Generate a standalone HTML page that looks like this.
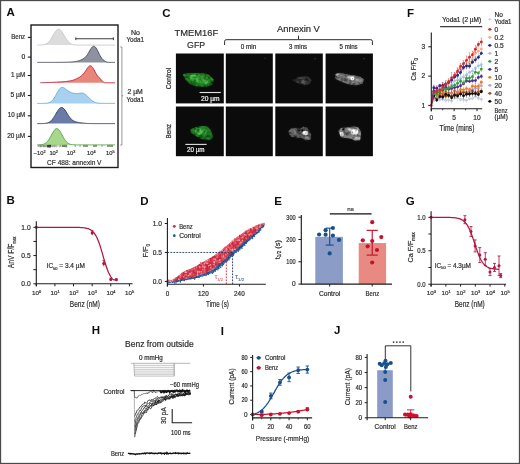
<!DOCTYPE html>
<html><head><meta charset="utf-8"><style>
html,body{margin:0;padding:0;background:#fff;overflow:hidden;}
svg{display:block;font-family:"Liberation Sans", sans-serif;will-change:transform;}
</style></head><body>
<svg width="520" height="464" viewBox="0 0 520 464">
<rect x="0" y="0" width="520" height="464" fill="#fff"/>
<defs><filter id="b1" x="-50%" y="-50%" width="200%" height="200%"><feGaussianBlur stdDeviation="1.0"/></filter><filter id="b2" x="-50%" y="-50%" width="200%" height="200%"><feGaussianBlur stdDeviation="0.6"/></filter><filter id="b3" x="-50%" y="-50%" width="200%" height="200%"><feGaussianBlur stdDeviation="0.35"/></filter><filter id="tx" x="-40%" y="-40%" width="180%" height="180%"><feGaussianBlur in="SourceGraphic" stdDeviation="0.75" result="bl"/><feTurbulence type="fractalNoise" baseFrequency="0.28" numOctaves="2" seed="9" result="n"/><feColorMatrix in="n" type="matrix" values="0.33 0.33 0.33 0 0  0.33 0.33 0.33 0 0  0.33 0.33 0.33 0 0  0 0 0 0 1" result="g"/><feComposite in="bl" in2="g" operator="arithmetic" k1="4.6" k2="-1.3" k3="0" k4="0" result="m"/><feGaussianBlur in="m" stdDeviation="0.6" result="mb"/><feGaussianBlur in="SourceGraphic" stdDeviation="1.3" result="gl"/><feComponentTransfer in="gl" result="gl2"><feFuncA type="linear" slope="0.3"/></feComponentTransfer><feMerge><feMergeNode in="gl2"/><feMergeNode in="mb"/></feMerge></filter></defs>
<text x="6.6" y="15.9" font-size="11.5" font-weight="bold" fill="#0d0d0d">A</text>
<line x1="27.8" y1="37.4" x2="31" y2="37.4" stroke="#1c1c1c" stroke-width="1.1"/>
<text x="25.2" y="39" font-size="6.6" text-anchor="end" font-weight="normal" fill="#2e2e2e" stroke="#2e2e2e" stroke-width="0.2" textLength="14" lengthAdjust="spacingAndGlyphs">Benz</text>
<line x1="27.8" y1="57.1" x2="31" y2="57.1" stroke="#1c1c1c" stroke-width="1.1"/>
<text x="25.2" y="58.7" font-size="6.6" text-anchor="end" font-weight="normal" fill="#2e2e2e" stroke="#2e2e2e" stroke-width="0.2" textLength="3.8" lengthAdjust="spacingAndGlyphs">0</text>
<line x1="27.8" y1="75.5" x2="31" y2="75.5" stroke="#1c1c1c" stroke-width="1.1"/>
<text x="25.2" y="77.1" font-size="6.6" text-anchor="end" font-weight="normal" fill="#2e2e2e" stroke="#2e2e2e" stroke-width="0.2" textLength="14.2" lengthAdjust="spacingAndGlyphs">1 µM</text>
<line x1="27.8" y1="95.5" x2="31" y2="95.5" stroke="#1c1c1c" stroke-width="1.1"/>
<text x="25.2" y="97.1" font-size="6.6" text-anchor="end" font-weight="normal" fill="#2e2e2e" stroke="#2e2e2e" stroke-width="0.2" textLength="14.8" lengthAdjust="spacingAndGlyphs">5 µM</text>
<line x1="27.8" y1="115.8" x2="31" y2="115.8" stroke="#1c1c1c" stroke-width="1.1"/>
<text x="25.2" y="117.4" font-size="6.6" text-anchor="end" font-weight="normal" fill="#2e2e2e" stroke="#2e2e2e" stroke-width="0.2" textLength="17.4" lengthAdjust="spacingAndGlyphs">10 µM</text>
<line x1="27.8" y1="136.4" x2="31" y2="136.4" stroke="#1c1c1c" stroke-width="1.1"/>
<text x="25.2" y="138" font-size="6.6" text-anchor="end" font-weight="normal" fill="#2e2e2e" stroke="#2e2e2e" stroke-width="0.2" textLength="18" lengthAdjust="spacingAndGlyphs">20 µM</text>
<path d="M37.3 45.09 L38.01 45.09 L38.71 45.08 L39.42 45.06 L40.13 45.04 L40.83 45.01 L41.54 44.97 L42.24 44.91 L42.95 44.82 L43.66 44.7 L44.36 44.54 L45.07 44.32 L45.78 44.04 L46.48 43.69 L47.19 43.24 L47.9 42.69 L48.6 42.03 L49.31 41.26 L50.01 40.37 L50.72 39.37 L51.43 38.26 L52.13 37.08 L52.84 35.85 L53.55 34.61 L54.25 33.39 L54.96 32.25 L55.67 31.22 L56.37 30.36 L57.08 29.7 L57.78 29.27 L58.49 29.1 L59.2 29.19 L59.9 29.54 L60.61 30.13 L61.32 30.94 L62.02 31.92 L62.73 33.03 L63.44 34.23 L64.14 35.47 L64.85 36.71 L65.55 37.91 L66.26 39.04 L66.97 40.07 L67.67 41 L68.38 41.81 L69.09 42.5 L69.79 43.08 L70.5 43.56 L71.21 43.94 L71.91 44.24 L72.62 44.48 L73.32 44.66 L74.03 44.79 L74.74 44.88 L75.44 44.95 L76.15 45 L76.86 45.04 L77.56 45.06 L78.27 45.07 L78.98 45.08 L79.68 45.09 L80.39 45.09 L81.09 45.1 L81.8 45.1 L82.51 45.1 L83.21 45.1 L83.92 45.1 L84.63 45.1 L85.33 45.1 L86.04 45.1 L86.75 45.1 L87.45 45.1 L88.16 45.1 L88.86 45.1 L89.57 45.1 L90.28 45.1 L90.98 45.1 L91.69 45.1 L92.4 45.1 L93.1 45.1 L93.81 45.1 L94.52 45.1 L95.22 45.1 L95.93 45.1 L96.63 45.1 L97.34 45.1 L98.05 45.1 L98.75 45.1 L99.46 45.1 L100.17 45.1 L100.87 45.1 L101.58 45.1 L102.29 45.1 L102.99 45.1 L103.7 45.1 L104.4 45.1 L105.11 45.1 L105.82 45.1 L106.52 45.1 L107.23 45.1 L107.94 45.1 L108.64 45.1 L109.35 45.1 L110.06 45.1 L110.76 45.1 L111.47 45.1 L112.17 45.1 L112.88 45.1 L113.59 45.1 L114.29 45.1 L115 45.1 L115 45.1 L37.3 45.1 Z" stroke="none" stroke-width="1" fill="#dcdcdc"/>
<path d="M37.3 45.09 L38.01 45.09 L38.71 45.08 L39.42 45.06 L40.13 45.04 L40.83 45.01 L41.54 44.97 L42.24 44.91 L42.95 44.82 L43.66 44.7 L44.36 44.54 L45.07 44.32 L45.78 44.04 L46.48 43.69 L47.19 43.24 L47.9 42.69 L48.6 42.03 L49.31 41.26 L50.01 40.37 L50.72 39.37 L51.43 38.26 L52.13 37.08 L52.84 35.85 L53.55 34.61 L54.25 33.39 L54.96 32.25 L55.67 31.22 L56.37 30.36 L57.08 29.7 L57.78 29.27 L58.49 29.1 L59.2 29.19 L59.9 29.54 L60.61 30.13 L61.32 30.94 L62.02 31.92 L62.73 33.03 L63.44 34.23 L64.14 35.47 L64.85 36.71 L65.55 37.91 L66.26 39.04 L66.97 40.07 L67.67 41 L68.38 41.81 L69.09 42.5 L69.79 43.08 L70.5 43.56 L71.21 43.94 L71.91 44.24 L72.62 44.48 L73.32 44.66 L74.03 44.79 L74.74 44.88 L75.44 44.95 L76.15 45 L76.86 45.04 L77.56 45.06 L78.27 45.07 L78.98 45.08 L79.68 45.09 L80.39 45.09 L81.09 45.1 L81.8 45.1 L82.51 45.1 L83.21 45.1 L83.92 45.1 L84.63 45.1 L85.33 45.1 L86.04 45.1 L86.75 45.1 L87.45 45.1 L88.16 45.1 L88.86 45.1 L89.57 45.1 L90.28 45.1 L90.98 45.1 L91.69 45.1 L92.4 45.1 L93.1 45.1 L93.81 45.1 L94.52 45.1 L95.22 45.1 L95.93 45.1 L96.63 45.1 L97.34 45.1 L98.05 45.1 L98.75 45.1 L99.46 45.1 L100.17 45.1 L100.87 45.1 L101.58 45.1 L102.29 45.1 L102.99 45.1 L103.7 45.1 L104.4 45.1 L105.11 45.1 L105.82 45.1 L106.52 45.1 L107.23 45.1 L107.94 45.1 L108.64 45.1 L109.35 45.1 L110.06 45.1 L110.76 45.1 L111.47 45.1 L112.17 45.1 L112.88 45.1 L113.59 45.1 L114.29 45.1 L115 45.1" stroke="#c6c6c6" stroke-width="0.9" fill="none"/>
<path d="M37.3 62.4 L38.01 62.4 L38.71 62.4 L39.42 62.4 L40.13 62.4 L40.83 62.4 L41.54 62.4 L42.24 62.4 L42.95 62.4 L43.66 62.4 L44.36 62.4 L45.07 62.4 L45.78 62.4 L46.48 62.4 L47.19 62.4 L47.9 62.39 L48.6 62.39 L49.31 62.39 L50.01 62.39 L50.72 62.39 L51.43 62.39 L52.13 62.39 L52.84 62.39 L53.55 62.38 L54.25 62.38 L54.96 62.38 L55.67 62.37 L56.37 62.37 L57.08 62.37 L57.78 62.36 L58.49 62.36 L59.2 62.35 L59.9 62.34 L60.61 62.33 L61.32 62.33 L62.02 62.32 L62.73 62.31 L63.44 62.29 L64.14 62.28 L64.85 62.26 L65.55 62.25 L66.26 62.23 L66.97 62.21 L67.67 62.19 L68.38 62.16 L69.09 62.14 L69.79 62.1 L70.5 62.07 L71.21 62.03 L71.91 61.98 L72.62 61.93 L73.32 61.86 L74.03 61.78 L74.74 61.69 L75.44 61.58 L76.15 61.45 L76.86 61.3 L77.56 61.13 L78.27 60.93 L78.98 60.72 L79.68 60.48 L80.39 60.22 L81.09 59.93 L81.8 59.61 L82.51 59.26 L83.21 58.86 L83.92 58.39 L84.63 57.84 L85.33 57.2 L86.04 56.45 L86.75 55.57 L87.45 54.58 L88.16 53.47 L88.86 52.27 L89.57 51.03 L90.28 49.8 L90.98 48.66 L91.69 47.67 L92.4 46.9 L93.1 46.41 L93.81 46.26 L94.52 46.45 L95.22 46.98 L95.93 47.82 L96.63 48.92 L97.34 50.21 L98.05 51.62 L98.75 53.07 L99.46 54.48 L100.17 55.81 L100.87 57.02 L101.58 58.06 L102.29 58.94 L102.99 59.66 L103.7 60.23 L104.4 60.76 L105.11 61.25 L105.82 61.65 L106.52 61.98 L107.23 62.2 L107.94 62.28 L108.64 62.33 L109.35 62.36 L110.06 62.37 L110.76 62.39 L111.47 62.39 L112.17 62.4 L112.88 62.4 L113.59 62.4 L114.29 62.4 L115 62.4 L115 62.4 L37.3 62.4 Z" stroke="none" stroke-width="1" fill="#8e919f"/>
<path d="M37.3 62.4 L38.01 62.4 L38.71 62.4 L39.42 62.4 L40.13 62.4 L40.83 62.4 L41.54 62.4 L42.24 62.4 L42.95 62.4 L43.66 62.4 L44.36 62.4 L45.07 62.4 L45.78 62.4 L46.48 62.4 L47.19 62.4 L47.9 62.39 L48.6 62.39 L49.31 62.39 L50.01 62.39 L50.72 62.39 L51.43 62.39 L52.13 62.39 L52.84 62.39 L53.55 62.38 L54.25 62.38 L54.96 62.38 L55.67 62.37 L56.37 62.37 L57.08 62.37 L57.78 62.36 L58.49 62.36 L59.2 62.35 L59.9 62.34 L60.61 62.33 L61.32 62.33 L62.02 62.32 L62.73 62.31 L63.44 62.29 L64.14 62.28 L64.85 62.26 L65.55 62.25 L66.26 62.23 L66.97 62.21 L67.67 62.19 L68.38 62.16 L69.09 62.14 L69.79 62.1 L70.5 62.07 L71.21 62.03 L71.91 61.98 L72.62 61.93 L73.32 61.86 L74.03 61.78 L74.74 61.69 L75.44 61.58 L76.15 61.45 L76.86 61.3 L77.56 61.13 L78.27 60.93 L78.98 60.72 L79.68 60.48 L80.39 60.22 L81.09 59.93 L81.8 59.61 L82.51 59.26 L83.21 58.86 L83.92 58.39 L84.63 57.84 L85.33 57.2 L86.04 56.45 L86.75 55.57 L87.45 54.58 L88.16 53.47 L88.86 52.27 L89.57 51.03 L90.28 49.8 L90.98 48.66 L91.69 47.67 L92.4 46.9 L93.1 46.41 L93.81 46.26 L94.52 46.45 L95.22 46.98 L95.93 47.82 L96.63 48.92 L97.34 50.21 L98.05 51.62 L98.75 53.07 L99.46 54.48 L100.17 55.81 L100.87 57.02 L101.58 58.06 L102.29 58.94 L102.99 59.66 L103.7 60.23 L104.4 60.76 L105.11 61.25 L105.82 61.65 L106.52 61.98 L107.23 62.2 L107.94 62.28 L108.64 62.33 L109.35 62.36 L110.06 62.37 L110.76 62.39 L111.47 62.39 L112.17 62.4 L112.88 62.4 L113.59 62.4 L114.29 62.4 L115 62.4" stroke="#454857" stroke-width="0.9" fill="none"/>
<path d="M40.4 82.68 L41.08 82.67 L41.76 82.66 L42.43 82.65 L43.11 82.64 L43.79 82.62 L44.47 82.61 L45.15 82.6 L45.83 82.58 L46.5 82.57 L47.18 82.55 L47.86 82.53 L48.54 82.51 L49.22 82.49 L49.89 82.47 L50.57 82.45 L51.25 82.42 L51.93 82.4 L52.61 82.37 L53.29 82.34 L53.96 82.31 L54.64 82.28 L55.32 82.24 L56 82.21 L56.68 82.17 L57.35 82.13 L58.03 82.09 L58.71 82.05 L59.39 82 L60.07 81.95 L60.75 81.9 L61.42 81.85 L62.1 81.8 L62.78 81.75 L63.46 81.69 L64.14 81.63 L64.81 81.57 L65.49 81.5 L66.17 81.44 L66.85 81.36 L67.53 81.29 L68.21 81.2 L68.88 81.11 L69.56 81.01 L70.24 80.89 L70.92 80.76 L71.6 80.6 L72.27 80.43 L72.95 80.24 L73.63 80.02 L74.31 79.77 L74.99 79.5 L75.67 79.21 L76.34 78.89 L77.02 78.55 L77.7 78.19 L78.38 77.82 L79.06 77.43 L79.73 77.01 L80.41 76.56 L81.09 76.07 L81.77 75.52 L82.45 74.91 L83.13 74.2 L83.8 73.41 L84.48 72.52 L85.16 71.55 L85.84 70.52 L86.52 69.46 L87.19 68.44 L87.87 67.51 L88.55 66.73 L89.23 66.16 L89.91 65.85 L90.59 65.83 L91.26 66.11 L91.94 66.68 L92.62 67.52 L93.3 68.56 L93.98 69.75 L94.65 71.02 L95.33 72.3 L96.01 73.54 L96.69 74.68 L97.37 75.7 L98.05 76.58 L98.72 77.31 L99.4 77.89 L100.08 78.42 L100.76 79.32 L101.44 80.13 L102.11 80.87 L102.79 81.56 L103.47 82.21 L104.15 82.71 L104.83 82.74 L105.51 82.77 L106.18 82.78 L106.86 82.79 L107.54 82.79 L108.22 82.8 L108.9 82.8 L109.57 82.8 L110.25 82.8 L110.93 82.8 L111.61 82.8 L112.29 82.8 L112.97 82.8 L113.64 82.8 L114.32 82.8 L115 82.8 L115 82.8 L40.4 82.8 Z" stroke="none" stroke-width="1" fill="#e8867a"/>
<path d="M40.4 82.68 L41.08 82.67 L41.76 82.66 L42.43 82.65 L43.11 82.64 L43.79 82.62 L44.47 82.61 L45.15 82.6 L45.83 82.58 L46.5 82.57 L47.18 82.55 L47.86 82.53 L48.54 82.51 L49.22 82.49 L49.89 82.47 L50.57 82.45 L51.25 82.42 L51.93 82.4 L52.61 82.37 L53.29 82.34 L53.96 82.31 L54.64 82.28 L55.32 82.24 L56 82.21 L56.68 82.17 L57.35 82.13 L58.03 82.09 L58.71 82.05 L59.39 82 L60.07 81.95 L60.75 81.9 L61.42 81.85 L62.1 81.8 L62.78 81.75 L63.46 81.69 L64.14 81.63 L64.81 81.57 L65.49 81.5 L66.17 81.44 L66.85 81.36 L67.53 81.29 L68.21 81.2 L68.88 81.11 L69.56 81.01 L70.24 80.89 L70.92 80.76 L71.6 80.6 L72.27 80.43 L72.95 80.24 L73.63 80.02 L74.31 79.77 L74.99 79.5 L75.67 79.21 L76.34 78.89 L77.02 78.55 L77.7 78.19 L78.38 77.82 L79.06 77.43 L79.73 77.01 L80.41 76.56 L81.09 76.07 L81.77 75.52 L82.45 74.91 L83.13 74.2 L83.8 73.41 L84.48 72.52 L85.16 71.55 L85.84 70.52 L86.52 69.46 L87.19 68.44 L87.87 67.51 L88.55 66.73 L89.23 66.16 L89.91 65.85 L90.59 65.83 L91.26 66.11 L91.94 66.68 L92.62 67.52 L93.3 68.56 L93.98 69.75 L94.65 71.02 L95.33 72.3 L96.01 73.54 L96.69 74.68 L97.37 75.7 L98.05 76.58 L98.72 77.31 L99.4 77.89 L100.08 78.42 L100.76 79.32 L101.44 80.13 L102.11 80.87 L102.79 81.56 L103.47 82.21 L104.15 82.71 L104.83 82.74 L105.51 82.77 L106.18 82.78 L106.86 82.79 L107.54 82.79 L108.22 82.8 L108.9 82.8 L109.57 82.8 L110.25 82.8 L110.93 82.8 L111.61 82.8 L112.29 82.8 L112.97 82.8 L113.64 82.8 L114.32 82.8 L115 82.8" stroke="#c9233d" stroke-width="1" fill="none"/>
<path d="M37.3 103.4 L38.01 103.4 L38.71 103.4 L39.42 103.4 L40.13 103.4 L40.83 103.4 L41.54 103.4 L42.24 103.39 L42.95 103.39 L43.66 103.38 L44.36 103.36 L45.07 103.34 L45.78 103.3 L46.48 103.24 L47.19 103.16 L47.9 103.04 L48.6 102.87 L49.31 102.63 L50.01 102.32 L50.72 101.91 L51.43 101.38 L52.13 100.73 L52.84 99.95 L53.55 99.02 L54.25 97.97 L54.96 96.8 L55.67 95.54 L56.37 94.22 L57.08 92.91 L57.78 91.63 L58.49 90.45 L59.2 89.42 L59.9 88.58 L60.61 87.95 L61.32 87.54 L62.02 87.37 L62.73 87.41 L63.44 87.63 L64.14 88 L64.85 88.46 L65.55 88.99 L66.26 89.54 L66.97 90.09 L67.67 90.6 L68.38 91.07 L69.09 91.5 L69.79 91.88 L70.5 92.21 L71.21 92.51 L71.91 92.77 L72.62 93 L73.32 93.2 L74.03 93.37 L74.74 93.49 L75.44 93.57 L76.15 93.6 L76.86 93.58 L77.56 93.53 L78.27 93.43 L78.98 93.32 L79.68 93.2 L80.39 93.1 L81.09 93.03 L81.8 93.03 L82.51 93.1 L83.21 93.27 L83.92 93.53 L84.63 93.9 L85.33 94.37 L86.04 94.93 L86.75 95.56 L87.45 96.25 L88.16 96.97 L88.86 97.7 L89.57 98.43 L90.28 99.13 L90.98 99.78 L91.69 100.39 L92.4 100.93 L93.1 101.4 L93.81 101.81 L94.52 102.16 L95.22 102.44 L95.93 102.68 L96.63 102.86 L97.34 103 L98.05 103.11 L98.75 103.2 L99.46 103.26 L100.17 103.3 L100.87 103.33 L101.58 103.36 L102.29 103.37 L102.99 103.38 L103.7 103.39 L104.4 103.39 L105.11 103.4 L105.82 103.4 L106.52 103.4 L107.23 103.4 L107.94 103.4 L108.64 103.4 L109.35 103.4 L110.06 103.4 L110.76 103.4 L111.47 103.4 L112.17 103.4 L112.88 103.4 L113.59 103.4 L114.29 103.4 L115 103.4 L115 103.4 L37.3 103.4 Z" stroke="none" stroke-width="1" fill="#a8d0ef"/>
<path d="M37.3 103.4 L38.01 103.4 L38.71 103.4 L39.42 103.4 L40.13 103.4 L40.83 103.4 L41.54 103.4 L42.24 103.39 L42.95 103.39 L43.66 103.38 L44.36 103.36 L45.07 103.34 L45.78 103.3 L46.48 103.24 L47.19 103.16 L47.9 103.04 L48.6 102.87 L49.31 102.63 L50.01 102.32 L50.72 101.91 L51.43 101.38 L52.13 100.73 L52.84 99.95 L53.55 99.02 L54.25 97.97 L54.96 96.8 L55.67 95.54 L56.37 94.22 L57.08 92.91 L57.78 91.63 L58.49 90.45 L59.2 89.42 L59.9 88.58 L60.61 87.95 L61.32 87.54 L62.02 87.37 L62.73 87.41 L63.44 87.63 L64.14 88 L64.85 88.46 L65.55 88.99 L66.26 89.54 L66.97 90.09 L67.67 90.6 L68.38 91.07 L69.09 91.5 L69.79 91.88 L70.5 92.21 L71.21 92.51 L71.91 92.77 L72.62 93 L73.32 93.2 L74.03 93.37 L74.74 93.49 L75.44 93.57 L76.15 93.6 L76.86 93.58 L77.56 93.53 L78.27 93.43 L78.98 93.32 L79.68 93.2 L80.39 93.1 L81.09 93.03 L81.8 93.03 L82.51 93.1 L83.21 93.27 L83.92 93.53 L84.63 93.9 L85.33 94.37 L86.04 94.93 L86.75 95.56 L87.45 96.25 L88.16 96.97 L88.86 97.7 L89.57 98.43 L90.28 99.13 L90.98 99.78 L91.69 100.39 L92.4 100.93 L93.1 101.4 L93.81 101.81 L94.52 102.16 L95.22 102.44 L95.93 102.68 L96.63 102.86 L97.34 103 L98.05 103.11 L98.75 103.2 L99.46 103.26 L100.17 103.3 L100.87 103.33 L101.58 103.36 L102.29 103.37 L102.99 103.38 L103.7 103.39 L104.4 103.39 L105.11 103.4 L105.82 103.4 L106.52 103.4 L107.23 103.4 L107.94 103.4 L108.64 103.4 L109.35 103.4 L110.06 103.4 L110.76 103.4 L111.47 103.4 L112.17 103.4 L112.88 103.4 L113.59 103.4 L114.29 103.4 L115 103.4" stroke="#58b0dc" stroke-width="0.9" fill="none"/>
<path d="M37.3 123.6 L38.01 123.6 L38.71 123.6 L39.42 123.59 L40.13 123.59 L40.83 123.58 L41.54 123.57 L42.24 123.56 L42.95 123.53 L43.66 123.5 L44.36 123.45 L45.07 123.38 L45.78 123.29 L46.48 123.16 L47.19 122.99 L47.9 122.76 L48.6 122.47 L49.31 122.1 L50.01 121.65 L50.72 121.09 L51.43 120.43 L52.13 119.65 L52.84 118.76 L53.55 117.76 L54.25 116.67 L54.96 115.51 L55.67 114.3 L56.37 113.07 L57.08 111.87 L57.78 110.74 L58.49 109.72 L59.2 108.86 L59.9 108.19 L60.61 107.73 L61.32 107.52 L62.02 107.55 L62.73 107.83 L63.44 108.34 L64.14 109.05 L64.85 109.93 L65.55 110.94 L66.26 112.04 L66.97 113.18 L67.67 114.32 L68.38 115.42 L69.09 116.47 L69.79 117.43 L70.5 118.3 L71.21 119.05 L71.91 119.71 L72.62 120.26 L73.32 120.72 L74.03 121.11 L74.74 121.42 L75.44 121.68 L76.15 121.9 L76.86 122.08 L77.56 122.24 L78.27 122.38 L78.98 122.51 L79.68 122.63 L80.39 122.74 L81.09 122.85 L81.8 122.95 L82.51 123.04 L83.21 123.12 L83.92 123.2 L84.63 123.27 L85.33 123.33 L86.04 123.38 L86.75 123.42 L87.45 123.46 L88.16 123.49 L88.86 123.52 L89.57 123.54 L90.28 123.55 L90.98 123.57 L91.69 123.57 L92.4 123.58 L93.1 123.59 L93.81 123.59 L94.52 123.59 L95.22 123.6 L95.93 123.6 L96.63 123.6 L97.34 123.6 L98.05 123.6 L98.75 123.6 L99.46 123.6 L100.17 123.6 L100.87 123.6 L101.58 123.6 L102.29 123.6 L102.99 123.6 L103.7 123.6 L104.4 123.6 L105.11 123.6 L105.82 123.6 L106.52 123.6 L107.23 123.6 L107.94 123.6 L108.64 123.6 L109.35 123.6 L110.06 123.6 L110.76 123.6 L111.47 123.6 L112.17 123.6 L112.88 123.6 L113.59 123.6 L114.29 123.6 L115 123.6 L115 123.6 L37.3 123.6 Z" stroke="none" stroke-width="1" fill="#6b7ba8"/>
<path d="M37.3 123.6 L38.01 123.6 L38.71 123.6 L39.42 123.59 L40.13 123.59 L40.83 123.58 L41.54 123.57 L42.24 123.56 L42.95 123.53 L43.66 123.5 L44.36 123.45 L45.07 123.38 L45.78 123.29 L46.48 123.16 L47.19 122.99 L47.9 122.76 L48.6 122.47 L49.31 122.1 L50.01 121.65 L50.72 121.09 L51.43 120.43 L52.13 119.65 L52.84 118.76 L53.55 117.76 L54.25 116.67 L54.96 115.51 L55.67 114.3 L56.37 113.07 L57.08 111.87 L57.78 110.74 L58.49 109.72 L59.2 108.86 L59.9 108.19 L60.61 107.73 L61.32 107.52 L62.02 107.55 L62.73 107.83 L63.44 108.34 L64.14 109.05 L64.85 109.93 L65.55 110.94 L66.26 112.04 L66.97 113.18 L67.67 114.32 L68.38 115.42 L69.09 116.47 L69.79 117.43 L70.5 118.3 L71.21 119.05 L71.91 119.71 L72.62 120.26 L73.32 120.72 L74.03 121.11 L74.74 121.42 L75.44 121.68 L76.15 121.9 L76.86 122.08 L77.56 122.24 L78.27 122.38 L78.98 122.51 L79.68 122.63 L80.39 122.74 L81.09 122.85 L81.8 122.95 L82.51 123.04 L83.21 123.12 L83.92 123.2 L84.63 123.27 L85.33 123.33 L86.04 123.38 L86.75 123.42 L87.45 123.46 L88.16 123.49 L88.86 123.52 L89.57 123.54 L90.28 123.55 L90.98 123.57 L91.69 123.57 L92.4 123.58 L93.1 123.59 L93.81 123.59 L94.52 123.59 L95.22 123.6 L95.93 123.6 L96.63 123.6 L97.34 123.6 L98.05 123.6 L98.75 123.6 L99.46 123.6 L100.17 123.6 L100.87 123.6 L101.58 123.6 L102.29 123.6 L102.99 123.6 L103.7 123.6 L104.4 123.6 L105.11 123.6 L105.82 123.6 L106.52 123.6 L107.23 123.6 L107.94 123.6 L108.64 123.6 L109.35 123.6 L110.06 123.6 L110.76 123.6 L111.47 123.6 L112.17 123.6 L112.88 123.6 L113.59 123.6 L114.29 123.6 L115 123.6" stroke="#2b3966" stroke-width="0.9" fill="none"/>
<path d="M37.3 144.88 L38.01 144.87 L38.71 144.85 L39.42 144.82 L40.13 144.78 L40.83 144.73 L41.54 144.64 L42.24 144.52 L42.95 144.36 L43.66 144.15 L44.36 143.86 L45.07 143.49 L45.78 143.03 L46.48 142.45 L47.19 141.75 L47.9 140.93 L48.6 139.97 L49.31 138.9 L50.01 137.72 L50.72 136.46 L51.43 135.15 L52.13 133.84 L52.84 132.57 L53.55 131.4 L54.25 130.38 L54.96 129.55 L55.67 128.97 L56.37 128.65 L57.08 128.62 L57.78 128.88 L58.49 129.41 L59.2 130.18 L59.9 131.17 L60.61 132.31 L61.32 133.56 L62.02 134.87 L62.73 136.18 L63.44 137.46 L64.14 138.66 L64.85 139.75 L65.55 140.73 L66.26 141.59 L66.97 142.31 L67.67 142.91 L68.38 143.4 L69.09 143.79 L69.79 144.09 L70.5 144.32 L71.21 144.49 L71.91 144.62 L72.62 144.71 L73.32 144.77 L74.03 144.82 L74.74 144.85 L75.44 144.87 L76.15 144.88 L76.86 144.89 L77.56 144.89 L78.27 144.9 L78.98 144.9 L79.68 144.9 L80.39 144.9 L81.09 144.9 L81.8 144.9 L82.51 144.9 L83.21 144.9 L83.92 144.9 L84.63 144.9 L85.33 144.9 L86.04 144.9 L86.75 144.9 L87.45 144.9 L88.16 144.9 L88.86 144.9 L89.57 144.9 L90.28 144.9 L90.98 144.9 L91.69 144.9 L92.4 144.9 L93.1 144.9 L93.81 144.9 L94.52 144.9 L95.22 144.9 L95.93 144.9 L96.63 144.9 L97.34 144.9 L98.05 144.9 L98.75 144.9 L99.46 144.9 L100.17 144.9 L100.87 144.9 L101.58 144.9 L102.29 144.9 L102.99 144.9 L103.7 144.9 L104.4 144.9 L105.11 144.9 L105.82 144.9 L106.52 144.9 L107.23 144.9 L107.94 144.9 L108.64 144.9 L109.35 144.9 L110.06 144.9 L110.76 144.9 L111.47 144.9 L112.17 144.9 L112.88 144.9 L113.59 144.9 L114.29 144.9 L115 144.9 L115 144.9 L37.3 144.9 Z" stroke="none" stroke-width="1" fill="#a6d78b"/>
<path d="M37.3 144.88 L38.01 144.87 L38.71 144.85 L39.42 144.82 L40.13 144.78 L40.83 144.73 L41.54 144.64 L42.24 144.52 L42.95 144.36 L43.66 144.15 L44.36 143.86 L45.07 143.49 L45.78 143.03 L46.48 142.45 L47.19 141.75 L47.9 140.93 L48.6 139.97 L49.31 138.9 L50.01 137.72 L50.72 136.46 L51.43 135.15 L52.13 133.84 L52.84 132.57 L53.55 131.4 L54.25 130.38 L54.96 129.55 L55.67 128.97 L56.37 128.65 L57.08 128.62 L57.78 128.88 L58.49 129.41 L59.2 130.18 L59.9 131.17 L60.61 132.31 L61.32 133.56 L62.02 134.87 L62.73 136.18 L63.44 137.46 L64.14 138.66 L64.85 139.75 L65.55 140.73 L66.26 141.59 L66.97 142.31 L67.67 142.91 L68.38 143.4 L69.09 143.79 L69.79 144.09 L70.5 144.32 L71.21 144.49 L71.91 144.62 L72.62 144.71 L73.32 144.77 L74.03 144.82 L74.74 144.85 L75.44 144.87 L76.15 144.88 L76.86 144.89 L77.56 144.89 L78.27 144.9 L78.98 144.9 L79.68 144.9 L80.39 144.9 L81.09 144.9 L81.8 144.9 L82.51 144.9 L83.21 144.9 L83.92 144.9 L84.63 144.9 L85.33 144.9 L86.04 144.9 L86.75 144.9 L87.45 144.9 L88.16 144.9 L88.86 144.9 L89.57 144.9 L90.28 144.9 L90.98 144.9 L91.69 144.9 L92.4 144.9 L93.1 144.9 L93.81 144.9 L94.52 144.9 L95.22 144.9 L95.93 144.9 L96.63 144.9 L97.34 144.9 L98.05 144.9 L98.75 144.9 L99.46 144.9 L100.17 144.9 L100.87 144.9 L101.58 144.9 L102.29 144.9 L102.99 144.9 L103.7 144.9 L104.4 144.9 L105.11 144.9 L105.82 144.9 L106.52 144.9 L107.23 144.9 L107.94 144.9 L108.64 144.9 L109.35 144.9 L110.06 144.9 L110.76 144.9 L111.47 144.9 L112.17 144.9 L112.88 144.9 L113.59 144.9 L114.29 144.9 L115 144.9" stroke="#50a040" stroke-width="0.9" fill="none"/>
<line x1="51.12" y1="144.9" x2="51.12" y2="147.05" stroke="#8a8a8a" stroke-width="0.5"/>
<line x1="64.8" y1="144.9" x2="64.8" y2="146.97" stroke="#8a8a8a" stroke-width="0.5"/>
<line x1="52.73" y1="144.9" x2="52.73" y2="147.07" stroke="#8a8a8a" stroke-width="0.5"/>
<line x1="43.36" y1="144.9" x2="43.36" y2="147.01" stroke="#8a8a8a" stroke-width="0.5"/>
<line x1="56.27" y1="144.9" x2="56.27" y2="147.23" stroke="#8a8a8a" stroke-width="0.5"/>
<line x1="40.73" y1="144.9" x2="40.73" y2="146.84" stroke="#8a8a8a" stroke-width="0.5"/>
<line x1="40.63" y1="144.9" x2="40.63" y2="147.25" stroke="#8a8a8a" stroke-width="0.5"/>
<line x1="58.11" y1="144.9" x2="58.11" y2="146.63" stroke="#8a8a8a" stroke-width="0.5"/>
<line x1="66.48" y1="144.9" x2="66.48" y2="147.37" stroke="#8a8a8a" stroke-width="0.5"/>
<line x1="56.96" y1="144.9" x2="56.96" y2="147.09" stroke="#8a8a8a" stroke-width="0.5"/>
<line x1="42.57" y1="144.9" x2="42.57" y2="146.61" stroke="#8a8a8a" stroke-width="0.5"/>
<line x1="53.32" y1="144.9" x2="53.32" y2="146.65" stroke="#8a8a8a" stroke-width="0.5"/>
<line x1="43.52" y1="144.9" x2="43.52" y2="146.79" stroke="#8a8a8a" stroke-width="0.5"/>
<line x1="38.87" y1="144.9" x2="38.87" y2="146.97" stroke="#8a8a8a" stroke-width="0.5"/>
<line x1="50.78" y1="144.9" x2="50.78" y2="147.27" stroke="#8a8a8a" stroke-width="0.5"/>
<line x1="53.05" y1="144.9" x2="53.05" y2="147.11" stroke="#8a8a8a" stroke-width="0.5"/>
<line x1="52.49" y1="144.9" x2="52.49" y2="147.13" stroke="#8a8a8a" stroke-width="0.5"/>
<line x1="51.26" y1="144.9" x2="51.26" y2="146.82" stroke="#8a8a8a" stroke-width="0.5"/>
<line x1="66.93" y1="144.9" x2="66.93" y2="147.4" stroke="#8a8a8a" stroke-width="0.5"/>
<line x1="62.37" y1="144.9" x2="62.37" y2="147.17" stroke="#8a8a8a" stroke-width="0.5"/>
<line x1="47.14" y1="144.9" x2="47.14" y2="146.78" stroke="#8a8a8a" stroke-width="0.5"/>
<line x1="46.38" y1="144.9" x2="46.38" y2="146.66" stroke="#8a8a8a" stroke-width="0.5"/>
<line x1="60.22" y1="144.9" x2="60.22" y2="146.92" stroke="#8a8a8a" stroke-width="0.5"/>
<line x1="62.55" y1="144.9" x2="62.55" y2="146.91" stroke="#8a8a8a" stroke-width="0.5"/>
<line x1="65.78" y1="144.9" x2="65.78" y2="147.28" stroke="#8a8a8a" stroke-width="0.5"/>
<line x1="38.02" y1="144.9" x2="38.02" y2="146.77" stroke="#8a8a8a" stroke-width="0.5"/>
<line x1="64.4" y1="144.9" x2="64.4" y2="146.98" stroke="#8a8a8a" stroke-width="0.5"/>
<line x1="66.43" y1="144.9" x2="66.43" y2="146.92" stroke="#8a8a8a" stroke-width="0.5"/>
<line x1="40.12" y1="144.9" x2="40.12" y2="147.1" stroke="#8a8a8a" stroke-width="0.5"/>
<line x1="60.58" y1="144.9" x2="60.58" y2="146.82" stroke="#8a8a8a" stroke-width="0.5"/>
<line x1="40.53" y1="144.9" x2="40.53" y2="146.87" stroke="#8a8a8a" stroke-width="0.5"/>
<line x1="65.96" y1="144.9" x2="65.96" y2="147.21" stroke="#8a8a8a" stroke-width="0.5"/>
<line x1="41.42" y1="144.9" x2="41.42" y2="146.8" stroke="#8a8a8a" stroke-width="0.5"/>
<line x1="40.93" y1="144.9" x2="40.93" y2="146.65" stroke="#8a8a8a" stroke-width="0.5"/>
<line x1="61.11" y1="144.9" x2="61.11" y2="146.74" stroke="#8a8a8a" stroke-width="0.5"/>
<line x1="54.22" y1="144.9" x2="54.22" y2="146.96" stroke="#8a8a8a" stroke-width="0.5"/>
<line x1="43.53" y1="144.9" x2="43.53" y2="147.19" stroke="#8a8a8a" stroke-width="0.5"/>
<line x1="41.8" y1="144.9" x2="41.8" y2="147.11" stroke="#8a8a8a" stroke-width="0.5"/>
<line x1="41.38" y1="144.9" x2="41.38" y2="146.94" stroke="#8a8a8a" stroke-width="0.5"/>
<line x1="44.17" y1="144.9" x2="44.17" y2="146.82" stroke="#8a8a8a" stroke-width="0.5"/>
<line x1="66.16" y1="144.9" x2="66.16" y2="147.24" stroke="#8a8a8a" stroke-width="0.5"/>
<line x1="46.82" y1="144.9" x2="46.82" y2="147.31" stroke="#8a8a8a" stroke-width="0.5"/>
<line x1="44.11" y1="144.9" x2="44.11" y2="146.92" stroke="#8a8a8a" stroke-width="0.5"/>
<line x1="62.78" y1="144.9" x2="62.78" y2="147.11" stroke="#8a8a8a" stroke-width="0.5"/>
<line x1="40.91" y1="144.9" x2="40.91" y2="147.39" stroke="#8a8a8a" stroke-width="0.5"/>
<line x1="44.18" y1="144.9" x2="44.18" y2="146.81" stroke="#8a8a8a" stroke-width="0.5"/>
<line x1="60.41" y1="144.9" x2="60.41" y2="146.86" stroke="#8a8a8a" stroke-width="0.5"/>
<line x1="46.59" y1="144.9" x2="46.59" y2="146.66" stroke="#8a8a8a" stroke-width="0.5"/>
<line x1="40.61" y1="144.9" x2="40.61" y2="147.07" stroke="#8a8a8a" stroke-width="0.5"/>
<line x1="45.05" y1="144.9" x2="45.05" y2="147.08" stroke="#8a8a8a" stroke-width="0.5"/>
<line x1="48.78" y1="144.9" x2="48.78" y2="146.96" stroke="#8a8a8a" stroke-width="0.5"/>
<line x1="65.81" y1="144.9" x2="65.81" y2="146.99" stroke="#8a8a8a" stroke-width="0.5"/>
<line x1="54.66" y1="144.9" x2="54.66" y2="147.29" stroke="#8a8a8a" stroke-width="0.5"/>
<line x1="43.3" y1="144.9" x2="43.3" y2="146.72" stroke="#8a8a8a" stroke-width="0.5"/>
<line x1="64.34" y1="144.9" x2="64.34" y2="147.25" stroke="#8a8a8a" stroke-width="0.5"/>
<line x1="45.24" y1="144.9" x2="45.24" y2="146.75" stroke="#8a8a8a" stroke-width="0.5"/>
<line x1="59.44" y1="144.9" x2="59.44" y2="147.35" stroke="#8a8a8a" stroke-width="0.5"/>
<line x1="43.7" y1="144.9" x2="43.7" y2="147.36" stroke="#8a8a8a" stroke-width="0.5"/>
<line x1="63.58" y1="144.9" x2="63.58" y2="147.08" stroke="#8a8a8a" stroke-width="0.5"/>
<line x1="50.22" y1="144.9" x2="50.22" y2="146.68" stroke="#8a8a8a" stroke-width="0.5"/>
<line x1="39.12" y1="144.9" x2="39.12" y2="147.37" stroke="#8a8a8a" stroke-width="0.5"/>
<line x1="44.91" y1="144.9" x2="44.91" y2="147.16" stroke="#8a8a8a" stroke-width="0.5"/>
<line x1="45.45" y1="144.9" x2="45.45" y2="147.26" stroke="#8a8a8a" stroke-width="0.5"/>
<line x1="55.3" y1="144.9" x2="55.3" y2="146.83" stroke="#8a8a8a" stroke-width="0.5"/>
<line x1="43.09" y1="144.9" x2="43.09" y2="147.18" stroke="#8a8a8a" stroke-width="0.5"/>
<line x1="39.99" y1="144.9" x2="39.99" y2="146.78" stroke="#8a8a8a" stroke-width="0.5"/>
<line x1="54.22" y1="144.9" x2="54.22" y2="147.28" stroke="#8a8a8a" stroke-width="0.5"/>
<line x1="55.81" y1="144.9" x2="55.81" y2="146.82" stroke="#8a8a8a" stroke-width="0.5"/>
<line x1="64.6" y1="144.9" x2="64.6" y2="146.76" stroke="#8a8a8a" stroke-width="0.5"/>
<line x1="38.48" y1="144.9" x2="38.48" y2="146.82" stroke="#8a8a8a" stroke-width="0.5"/>
<line x1="47.6" y1="144.9" x2="47.6" y2="147.4" stroke="#111" stroke-width="0.7"/>
<line x1="48.2" y1="144.9" x2="48.2" y2="147.4" stroke="#111" stroke-width="0.7"/>
<line x1="48.8" y1="144.9" x2="48.8" y2="147.4" stroke="#111" stroke-width="0.7"/>
<line x1="49.4" y1="144.9" x2="49.4" y2="147.4" stroke="#111" stroke-width="0.7"/>
<line x1="50" y1="144.9" x2="50" y2="147.4" stroke="#111" stroke-width="0.7"/>
<line x1="50.6" y1="144.9" x2="50.6" y2="147.4" stroke="#111" stroke-width="0.7"/>
<line x1="62.5" y1="144.9" x2="62.5" y2="147" stroke="#4a6a3a" stroke-width="0.6"/>
<line x1="63.5" y1="144.9" x2="63.5" y2="147" stroke="#4a6a3a" stroke-width="0.6"/>
<line x1="64.5" y1="144.9" x2="64.5" y2="147" stroke="#4a6a3a" stroke-width="0.6"/>
<line x1="66" y1="144.9" x2="66" y2="147" stroke="#4a6a3a" stroke-width="0.6"/>
<line x1="75.2" y1="144.9" x2="75.2" y2="147" stroke="#4a6a3a" stroke-width="0.6"/>
<line x1="80" y1="144.9" x2="80" y2="147" stroke="#4a6a3a" stroke-width="0.6"/>
<line x1="83.5" y1="144.9" x2="83.5" y2="147" stroke="#4a6a3a" stroke-width="0.6"/>
<line x1="84.5" y1="144.9" x2="84.5" y2="147" stroke="#4a6a3a" stroke-width="0.6"/>
<line x1="85.5" y1="144.9" x2="85.5" y2="147" stroke="#4a6a3a" stroke-width="0.6"/>
<line x1="86.5" y1="144.9" x2="86.5" y2="147" stroke="#4a6a3a" stroke-width="0.6"/>
<line x1="87.5" y1="144.9" x2="87.5" y2="147" stroke="#4a6a3a" stroke-width="0.6"/>
<line x1="93.5" y1="144.9" x2="93.5" y2="147" stroke="#4a6a3a" stroke-width="0.6"/>
<line x1="94.5" y1="144.9" x2="94.5" y2="147" stroke="#4a6a3a" stroke-width="0.6"/>
<line x1="95.5" y1="144.9" x2="95.5" y2="147" stroke="#4a6a3a" stroke-width="0.6"/>
<line x1="96.5" y1="144.9" x2="96.5" y2="147" stroke="#4a6a3a" stroke-width="0.6"/>
<line x1="102" y1="144.9" x2="102" y2="147" stroke="#4a6a3a" stroke-width="0.6"/>
<line x1="107.5" y1="144.9" x2="107.5" y2="147" stroke="#4a6a3a" stroke-width="0.6"/>
<line x1="108.5" y1="144.9" x2="108.5" y2="147" stroke="#4a6a3a" stroke-width="0.6"/>
<line x1="109.5" y1="144.9" x2="109.5" y2="147" stroke="#4a6a3a" stroke-width="0.6"/>
<line x1="110.5" y1="144.9" x2="110.5" y2="147" stroke="#4a6a3a" stroke-width="0.6"/>
<line x1="111.5" y1="144.9" x2="111.5" y2="147" stroke="#4a6a3a" stroke-width="0.6"/>
<line x1="112.5" y1="144.9" x2="112.5" y2="147" stroke="#4a6a3a" stroke-width="0.6"/>
<line x1="75.8" y1="38.7" x2="113.4" y2="38.7" stroke="#3c3c3c" stroke-width="1.1"/>
<line x1="75.8" y1="37.3" x2="75.8" y2="40.1" stroke="#3c3c3c" stroke-width="1"/>
<line x1="113.4" y1="37.3" x2="113.4" y2="40.1" stroke="#3c3c3c" stroke-width="1"/>
<text x="33.6" y="155.4" font-size="5.8" text-anchor="start" font-weight="normal" fill="#2e2e2e" stroke="#2e2e2e" stroke-width="0.2">−10<tspan font-size="3.8" dy="-2.7">2</tspan></text>
<text x="49.4" y="155.4" font-size="5.8" text-anchor="start" font-weight="normal" fill="#2e2e2e" stroke="#2e2e2e" stroke-width="0.2">10<tspan font-size="3.8" dy="-2.7">2</tspan></text>
<text x="66.7" y="155.4" font-size="5.8" text-anchor="start" font-weight="normal" fill="#2e2e2e" stroke="#2e2e2e" stroke-width="0.2">10<tspan font-size="3.8" dy="-2.7">3</tspan></text>
<text x="87" y="155.4" font-size="5.8" text-anchor="start" font-weight="normal" fill="#2e2e2e" stroke="#2e2e2e" stroke-width="0.2">10<tspan font-size="3.8" dy="-2.7">4</tspan></text>
<text x="106.1" y="155.4" font-size="5.8" text-anchor="start" font-weight="normal" fill="#2e2e2e" stroke="#2e2e2e" stroke-width="0.2">10<tspan font-size="3.8" dy="-2.7">5</tspan></text>
<text x="47.1" y="164.5" font-size="7.8" text-anchor="start" font-weight="normal" fill="#2e2e2e" stroke="#2e2e2e" stroke-width="0.2" textLength="54.4" lengthAdjust="spacingAndGlyphs">CF 488: annexin V</text>
<rect x="31" y="25" width="87" height="142.5" fill="none" stroke="#1c1c1c" stroke-width="1.4"/>
<text x="130.9" y="35" font-size="6.5" text-anchor="start" font-weight="normal" fill="#2e2e2e" stroke="#2e2e2e" stroke-width="0.2" textLength="9" lengthAdjust="spacingAndGlyphs">No</text>
<text x="126.4" y="42.3" font-size="6.5" text-anchor="start" font-weight="normal" fill="#2e2e2e" stroke="#2e2e2e" stroke-width="0.2" textLength="17.5" lengthAdjust="spacingAndGlyphs">Yoda1</text>
<path d="M120.2 47 L121.9 47 L121.9 145 L120.2 145" stroke="#8a8a8a" stroke-width="0.9" fill="none"/>
<line x1="121.9" y1="95.8" x2="123.2" y2="95.8" stroke="#777" stroke-width="0.9"/>
<text x="127.5" y="94.2" font-size="6.5" text-anchor="start" font-weight="normal" fill="#2e2e2e" stroke="#2e2e2e" stroke-width="0.2" textLength="15.3" lengthAdjust="spacingAndGlyphs">2 µM</text>
<text x="126.4" y="101.5" font-size="6.5" text-anchor="start" font-weight="normal" fill="#2e2e2e" stroke="#2e2e2e" stroke-width="0.2" textLength="17.5" lengthAdjust="spacingAndGlyphs">Yoda1</text>
<text x="162.33" y="16.5" font-size="11.5" font-weight="bold" fill="#0d0d0d">C</text>
<text x="174.5" y="36.2" font-size="9.6" text-anchor="start" font-weight="normal" fill="#2e2e2e" stroke="#2e2e2e" stroke-width="0.2" textLength="43.7" lengthAdjust="spacingAndGlyphs">TMEM16F</text>
<text x="187.1" y="47.7" font-size="9.6" text-anchor="start" font-weight="normal" fill="#2e2e2e" stroke="#2e2e2e" stroke-width="0.2" textLength="18" lengthAdjust="spacingAndGlyphs">GFP</text>
<text x="277" y="32.1" font-size="9" text-anchor="start" font-weight="normal" fill="#2e2e2e" stroke="#2e2e2e" stroke-width="0.2" textLength="42.9" lengthAdjust="spacingAndGlyphs">Annexin V</text>
<path d="M224.6 45 L224.6 41.3 Q224.6 39.7 226.2 39.7 L298.5 39.7 L298.5 35.6 M298.5 39.7 L370.8 39.7 Q372.4 39.7 372.4 41.3 L372.4 45" stroke="#2a2a2a" stroke-width="1" fill="none"/>
<text x="240.7" y="48.8" font-size="6.3" text-anchor="start" font-weight="normal" fill="#2e2e2e" stroke="#2e2e2e" stroke-width="0.2" textLength="15.6" lengthAdjust="spacingAndGlyphs">0 min</text>
<text x="289.1" y="48.8" font-size="6.3" text-anchor="start" font-weight="normal" fill="#2e2e2e" stroke="#2e2e2e" stroke-width="0.2" textLength="18" lengthAdjust="spacingAndGlyphs">3 mins</text>
<text x="339.6" y="48.8" font-size="6.3" text-anchor="start" font-weight="normal" fill="#2e2e2e" stroke="#2e2e2e" stroke-width="0.2" textLength="18" lengthAdjust="spacingAndGlyphs">5 mins</text>
<text x="170.9" y="78.5" font-size="6.9" text-anchor="middle" font-weight="normal" fill="#2e2e2e" stroke="#2e2e2e" stroke-width="0.2" textLength="21.5" lengthAdjust="spacingAndGlyphs" transform="rotate(-90 170.9 78.5)">Control</text>
<text x="170.9" y="131.3" font-size="6.9" text-anchor="middle" font-weight="normal" fill="#2e2e2e" stroke="#2e2e2e" stroke-width="0.2" textLength="14.6" lengthAdjust="spacingAndGlyphs" transform="rotate(-90 170.9 131.3)">Benz</text>
<rect x="175.9" y="53.5" width="47.9" height="49.9" fill="#0b0b0c"/>
<rect x="225.8" y="53.5" width="47" height="49.9" fill="#0b0b0c"/>
<rect x="275.3" y="53.5" width="47.5" height="49.9" fill="#0b0b0c"/>
<rect x="325.6" y="53.5" width="47.3" height="49.9" fill="#0b0b0c"/>
<rect x="175.9" y="106.5" width="47.9" height="49.7" fill="#0b0b0c"/>
<rect x="225.8" y="106.5" width="47" height="49.7" fill="#0b0b0c"/>
<rect x="275.3" y="106.5" width="47.5" height="49.7" fill="#0b0b0c"/>
<rect x="325.6" y="106.5" width="47.3" height="49.7" fill="#0b0b0c"/>
<g filter="url(#tx)"><path d="M182.8 74.6 L186 73.2 L195 73 L204 73.2 L209 75 L213.5 79.5 L212.5 84.5 L207 86.6 L197 86.4 L190 84 L186 80 Z" fill="#1f6f20"/><ellipse cx="199" cy="78.5" rx="9" ry="4" fill="#2e922e"/><ellipse cx="193" cy="76.5" rx="4" ry="2" fill="#42aa42"/><ellipse cx="204" cy="81.5" rx="4" ry="2.2" fill="#3ca23c"/></g>
<g filter="url(#tx)"><path d="M190.5 129.2 L196 127.2 L203 126 L207.5 126.5 L211 131 L213.2 137.5 L210 139.8 L202 139 L196 136 L191 132.8 Z" fill="#1f6f20"/><ellipse cx="201" cy="131.5" rx="6" ry="3.5" fill="#349c34"/><ellipse cx="198" cy="130" rx="3" ry="1.8" fill="#48b448"/></g>
<line x1="199.6" y1="92.5" x2="220.8" y2="92.5" stroke="#e2e2e2" stroke-width="1.1"/>
<text x="201" y="100.9" font-size="6.3" text-anchor="start" font-weight="normal" fill="#f2f2f2" stroke="#f2f2f2" stroke-width="0.2" textLength="18.6" lengthAdjust="spacingAndGlyphs">20 µm</text>
<line x1="185.3" y1="144.4" x2="206.6" y2="144.4" stroke="#e2e2e2" stroke-width="1.1"/>
<text x="187" y="151.6" font-size="6.3" text-anchor="start" font-weight="normal" fill="#f2f2f2" stroke="#f2f2f2" stroke-width="0.2" textLength="17.6" lengthAdjust="spacingAndGlyphs">20 µm</text>
<g filter="url(#tx)"><path d="M292 80 L296 78.5 L299 77 L304 76 L309 77 L311.5 80 L310 84 L305 85.2 L300 84 L296 82.5 Z" fill="#2c2c2c"/><ellipse cx="301" cy="78.3" rx="4" ry="1" fill="#404040"/><ellipse cx="303.5" cy="81.5" rx="3" ry="2" fill="#585858"/></g>
<g filter="url(#tx)"><path d="M334.5 76 L337 73.2 L341 73 L347 74.5 L354 75.5 L360 76.8 L364 79.5 L362.5 83.5 L356 85.2 L348 84 L341 81.5 L336 79 Z" fill="#666"/><ellipse cx="338.5" cy="75.3" rx="3" ry="1.8" fill="#9a9a9a"/><ellipse cx="344" cy="79.5" rx="2.5" ry="1.5" fill="#4c4c4c"/><ellipse cx="357" cy="81" rx="5" ry="2.8" fill="#7e7e7e"/><ellipse cx="350.5" cy="78" rx="4" ry="2" fill="#b0b0b0"/></g>
<circle cx="352.3" cy="78.5" r="1.9" fill="#f6f6f6" filter="url(#b3)"/><circle cx="352.5" cy="78.7" r="0.6" fill="#aaa" filter="url(#b3)"/>
<g filter="url(#tx)"><path d="M288.5 131.5 L291 128.5 L296 128 L300 129 L303.5 126.8 L307.5 128 L309 131 L311 134.5 L310.5 139.5 L306 140.2 L302 138 L297 137.5 L291 136.5 Z" fill="#555"/><ellipse cx="292.5" cy="132.5" rx="3.5" ry="3" fill="#666"/><ellipse cx="299" cy="133" rx="1.8" ry="1.5" fill="#3a3a3a"/><ellipse cx="307" cy="138" rx="2.5" ry="1.8" fill="#777"/><ellipse cx="305.5" cy="133" rx="3" ry="2.2" fill="#d0d0d0"/></g>
<g filter="url(#tx)"><path d="M338.5 131 L341 128 L346 127.8 L350 127.2 L354 126.5 L358 127.5 L360.5 131 L361 136 L360 140.3 L355 140.5 L351 138.5 L346 138 L341 137 Z" fill="#777"/><ellipse cx="347.5" cy="134" rx="1.5" ry="1.8" fill="#505050"/><ellipse cx="342" cy="134" rx="2.2" ry="2" fill="#d0d0d0"/><ellipse cx="350" cy="129.5" rx="1.8" ry="1.3" fill="#d8d8d8"/><ellipse cx="357.5" cy="138.3" rx="2.6" ry="1.8" fill="#b8b8b8"/><ellipse cx="354.5" cy="132" rx="3.8" ry="2.8" fill="#f0f0f0"/></g>
<circle cx="315" cy="58.8" r="0.8" fill="#3a3a3a"/>
<circle cx="364.1" cy="58.8" r="0.8" fill="#3a3a3a"/>
<circle cx="265" cy="58.3" r="0.7" fill="#333"/>
<text x="407.03" y="16.7" font-size="11.5" font-weight="bold" fill="#0d0d0d">F</text>
<text x="442.3" y="22.3" font-size="6.3" text-anchor="start" font-weight="normal" fill="#2e2e2e" stroke="#2e2e2e" stroke-width="0.2" textLength="38.8" lengthAdjust="spacingAndGlyphs">Yoda1 (2 µM)</text>
<line x1="440.1" y1="26.7" x2="482.2" y2="26.7" stroke="#3c3c3c" stroke-width="1.2"/>
<line x1="428.2" y1="105.4" x2="431.3" y2="105.4" stroke="#1c1c1c" stroke-width="1"/>
<text x="425.2" y="107.7" font-size="6.6" text-anchor="end" font-weight="normal" fill="#2e2e2e" stroke="#2e2e2e" stroke-width="0.2">1</text>
<line x1="428.2" y1="76.1" x2="431.3" y2="76.1" stroke="#1c1c1c" stroke-width="1"/>
<text x="425.2" y="78.4" font-size="6.6" text-anchor="end" font-weight="normal" fill="#2e2e2e" stroke="#2e2e2e" stroke-width="0.2">2</text>
<line x1="428.2" y1="46.8" x2="431.3" y2="46.8" stroke="#1c1c1c" stroke-width="1"/>
<text x="425.2" y="49.1" font-size="6.6" text-anchor="end" font-weight="normal" fill="#2e2e2e" stroke="#2e2e2e" stroke-width="0.2">3</text>
<line x1="431.3" y1="108.7" x2="431.3" y2="111.2" stroke="#1c1c1c" stroke-width="1"/>
<text x="431.3" y="119.5" font-size="6.6" text-anchor="middle" font-weight="normal" fill="#2e2e2e" stroke="#2e2e2e" stroke-width="0.2">0</text>
<line x1="454.15" y1="108.7" x2="454.15" y2="111.2" stroke="#1c1c1c" stroke-width="1"/>
<text x="454.15" y="119.5" font-size="6.6" text-anchor="middle" font-weight="normal" fill="#2e2e2e" stroke="#2e2e2e" stroke-width="0.2">5</text>
<line x1="477" y1="108.7" x2="477" y2="111.2" stroke="#1c1c1c" stroke-width="1"/>
<text x="477" y="119.5" font-size="6.6" text-anchor="middle" font-weight="normal" fill="#2e2e2e" stroke="#2e2e2e" stroke-width="0.2">10</text>
<line x1="442.73" y1="108.7" x2="442.73" y2="110.3" stroke="#1c1c1c" stroke-width="0.8"/>
<line x1="465.58" y1="108.7" x2="465.58" y2="110.3" stroke="#1c1c1c" stroke-width="0.8"/>
<text x="439.6" y="131.2" font-size="8.3" text-anchor="start" font-weight="normal" fill="#2e2e2e" stroke="#2e2e2e" stroke-width="0.2" textLength="34.8" lengthAdjust="spacingAndGlyphs">Time (mins)</text>
<text x="416" y="69.3" font-size="7.9" text-anchor="middle" font-weight="normal" fill="#2e2e2e" stroke="#2e2e2e" stroke-width="0.2" textLength="22.3" lengthAdjust="spacingAndGlyphs" transform="rotate(-90 416 69.3)">Ca F/F<tspan font-size="5" dy="1.6">0</tspan></text>
<path d="M431.3 105.4 L433.81 100.47 L436.78 99.96 L439.75 99.57 L442.73 99.05 L445.7 100.33 L448.67 99.98 L451.64 101.03 L454.61 97.88 L457.58 97.92 L460.55 99.48 L463.52 99.66 L466.49 100.31 L469.46 98.74 L472.43 98.57 L475.4 96.41 L478.37 98.26 L481.34 99.17" stroke="#c3cedb" stroke-width="0.8" fill="none" opacity="0.85"/>
<line x1="433.81" y1="99.02" x2="433.81" y2="101.91" stroke="#c3cedb" stroke-width="0.6" opacity="0.75"/>
<line x1="432.91" y1="99.02" x2="434.71" y2="99.02" stroke="#c3cedb" stroke-width="0.5" opacity="0.6"/>
<circle cx="433.81" cy="100.47" r="1.4" fill="#c3cedb"/>
<line x1="436.78" y1="97.59" x2="436.78" y2="102.32" stroke="#c3cedb" stroke-width="0.6" opacity="0.75"/>
<line x1="435.88" y1="97.59" x2="437.68" y2="97.59" stroke="#c3cedb" stroke-width="0.5" opacity="0.6"/>
<circle cx="436.78" cy="99.96" r="1.4" fill="#c3cedb"/>
<line x1="439.75" y1="97.53" x2="439.75" y2="101.61" stroke="#c3cedb" stroke-width="0.6" opacity="0.75"/>
<line x1="438.85" y1="97.53" x2="440.65" y2="97.53" stroke="#c3cedb" stroke-width="0.5" opacity="0.6"/>
<circle cx="439.75" cy="99.57" r="1.4" fill="#c3cedb"/>
<line x1="442.73" y1="97.5" x2="442.73" y2="100.6" stroke="#c3cedb" stroke-width="0.6" opacity="0.75"/>
<line x1="441.83" y1="97.5" x2="443.62" y2="97.5" stroke="#c3cedb" stroke-width="0.5" opacity="0.6"/>
<circle cx="442.73" cy="99.05" r="1.4" fill="#c3cedb"/>
<line x1="445.7" y1="97.45" x2="445.7" y2="103.2" stroke="#c3cedb" stroke-width="0.6" opacity="0.75"/>
<line x1="444.8" y1="97.45" x2="446.6" y2="97.45" stroke="#c3cedb" stroke-width="0.5" opacity="0.6"/>
<circle cx="445.7" cy="100.33" r="1.4" fill="#c3cedb"/>
<line x1="448.67" y1="97.1" x2="448.67" y2="102.85" stroke="#c3cedb" stroke-width="0.6" opacity="0.75"/>
<line x1="447.77" y1="97.1" x2="449.57" y2="97.1" stroke="#c3cedb" stroke-width="0.5" opacity="0.6"/>
<circle cx="448.67" cy="99.98" r="1.4" fill="#c3cedb"/>
<line x1="451.64" y1="98.05" x2="451.64" y2="104.02" stroke="#c3cedb" stroke-width="0.6" opacity="0.75"/>
<line x1="450.74" y1="98.05" x2="452.54" y2="98.05" stroke="#c3cedb" stroke-width="0.5" opacity="0.6"/>
<circle cx="451.64" cy="101.03" r="1.4" fill="#c3cedb"/>
<line x1="454.61" y1="95.78" x2="454.61" y2="99.98" stroke="#c3cedb" stroke-width="0.6" opacity="0.75"/>
<line x1="453.71" y1="95.78" x2="455.51" y2="95.78" stroke="#c3cedb" stroke-width="0.5" opacity="0.6"/>
<circle cx="454.61" cy="97.88" r="1.4" fill="#c3cedb"/>
<line x1="457.58" y1="94.72" x2="457.58" y2="101.12" stroke="#c3cedb" stroke-width="0.6" opacity="0.75"/>
<line x1="456.68" y1="94.72" x2="458.48" y2="94.72" stroke="#c3cedb" stroke-width="0.5" opacity="0.6"/>
<circle cx="457.58" cy="97.92" r="1.4" fill="#c3cedb"/>
<line x1="460.55" y1="97.24" x2="460.55" y2="101.71" stroke="#c3cedb" stroke-width="0.6" opacity="0.75"/>
<line x1="459.65" y1="97.24" x2="461.45" y2="97.24" stroke="#c3cedb" stroke-width="0.5" opacity="0.6"/>
<circle cx="460.55" cy="99.48" r="1.4" fill="#c3cedb"/>
<line x1="463.52" y1="96.54" x2="463.52" y2="102.79" stroke="#c3cedb" stroke-width="0.6" opacity="0.75"/>
<line x1="462.62" y1="96.54" x2="464.42" y2="96.54" stroke="#c3cedb" stroke-width="0.5" opacity="0.6"/>
<circle cx="463.52" cy="99.66" r="1.4" fill="#c3cedb"/>
<line x1="466.49" y1="97.66" x2="466.49" y2="102.96" stroke="#c3cedb" stroke-width="0.6" opacity="0.75"/>
<line x1="465.59" y1="97.66" x2="467.39" y2="97.66" stroke="#c3cedb" stroke-width="0.5" opacity="0.6"/>
<circle cx="466.49" cy="100.31" r="1.4" fill="#c3cedb"/>
<line x1="469.46" y1="96.18" x2="469.46" y2="101.31" stroke="#c3cedb" stroke-width="0.6" opacity="0.75"/>
<line x1="468.56" y1="96.18" x2="470.36" y2="96.18" stroke="#c3cedb" stroke-width="0.5" opacity="0.6"/>
<circle cx="469.46" cy="98.74" r="1.4" fill="#c3cedb"/>
<line x1="472.43" y1="97.01" x2="472.43" y2="100.13" stroke="#c3cedb" stroke-width="0.6" opacity="0.75"/>
<line x1="471.53" y1="97.01" x2="473.33" y2="97.01" stroke="#c3cedb" stroke-width="0.5" opacity="0.6"/>
<circle cx="472.43" cy="98.57" r="1.4" fill="#c3cedb"/>
<line x1="475.4" y1="93.02" x2="475.4" y2="99.8" stroke="#c3cedb" stroke-width="0.6" opacity="0.75"/>
<line x1="474.5" y1="93.02" x2="476.3" y2="93.02" stroke="#c3cedb" stroke-width="0.5" opacity="0.6"/>
<circle cx="475.4" cy="96.41" r="1.4" fill="#c3cedb"/>
<line x1="478.37" y1="95.4" x2="478.37" y2="101.11" stroke="#c3cedb" stroke-width="0.6" opacity="0.75"/>
<line x1="477.47" y1="95.4" x2="479.27" y2="95.4" stroke="#c3cedb" stroke-width="0.5" opacity="0.6"/>
<circle cx="478.37" cy="98.26" r="1.4" fill="#c3cedb"/>
<line x1="481.34" y1="96.3" x2="481.34" y2="102.04" stroke="#c3cedb" stroke-width="0.6" opacity="0.75"/>
<line x1="480.44" y1="96.3" x2="482.24" y2="96.3" stroke="#c3cedb" stroke-width="0.5" opacity="0.6"/>
<circle cx="481.34" cy="99.17" r="1.4" fill="#c3cedb"/>
<path d="M431.3 105.4 L433.81 98.53 L436.78 97.61 L439.75 94.72 L442.73 93.55 L445.7 93.72 L448.67 92.72 L451.64 93.31 L454.61 93.76 L457.58 92.37 L460.55 92.25 L463.52 92.39 L466.49 92.36 L469.46 91.5 L472.43 89.32 L475.4 88.48 L478.37 88.43 L481.34 85.77" stroke="#b8a2d6" stroke-width="0.8" fill="none" opacity="0.85"/>
<line x1="433.81" y1="96.73" x2="433.81" y2="100.34" stroke="#b8a2d6" stroke-width="0.6" opacity="0.75"/>
<line x1="432.91" y1="96.73" x2="434.71" y2="96.73" stroke="#b8a2d6" stroke-width="0.5" opacity="0.6"/>
<circle cx="433.81" cy="98.53" r="1.4" fill="#b8a2d6"/>
<line x1="436.78" y1="94.4" x2="436.78" y2="100.82" stroke="#b8a2d6" stroke-width="0.6" opacity="0.75"/>
<line x1="435.88" y1="94.4" x2="437.68" y2="94.4" stroke="#b8a2d6" stroke-width="0.5" opacity="0.6"/>
<circle cx="436.78" cy="97.61" r="1.4" fill="#b8a2d6"/>
<line x1="439.75" y1="92.44" x2="439.75" y2="97" stroke="#b8a2d6" stroke-width="0.6" opacity="0.75"/>
<line x1="438.85" y1="92.44" x2="440.65" y2="92.44" stroke="#b8a2d6" stroke-width="0.5" opacity="0.6"/>
<circle cx="439.75" cy="94.72" r="1.4" fill="#b8a2d6"/>
<line x1="442.73" y1="91.5" x2="442.73" y2="95.6" stroke="#b8a2d6" stroke-width="0.6" opacity="0.75"/>
<line x1="441.83" y1="91.5" x2="443.62" y2="91.5" stroke="#b8a2d6" stroke-width="0.5" opacity="0.6"/>
<circle cx="442.73" cy="93.55" r="1.4" fill="#b8a2d6"/>
<line x1="445.7" y1="91.92" x2="445.7" y2="95.51" stroke="#b8a2d6" stroke-width="0.6" opacity="0.75"/>
<line x1="444.8" y1="91.92" x2="446.6" y2="91.92" stroke="#b8a2d6" stroke-width="0.5" opacity="0.6"/>
<circle cx="445.7" cy="93.72" r="1.4" fill="#b8a2d6"/>
<line x1="448.67" y1="89.71" x2="448.67" y2="95.73" stroke="#b8a2d6" stroke-width="0.6" opacity="0.75"/>
<line x1="447.77" y1="89.71" x2="449.57" y2="89.71" stroke="#b8a2d6" stroke-width="0.5" opacity="0.6"/>
<circle cx="448.67" cy="92.72" r="1.4" fill="#b8a2d6"/>
<line x1="451.64" y1="90.15" x2="451.64" y2="96.47" stroke="#b8a2d6" stroke-width="0.6" opacity="0.75"/>
<line x1="450.74" y1="90.15" x2="452.54" y2="90.15" stroke="#b8a2d6" stroke-width="0.5" opacity="0.6"/>
<circle cx="451.64" cy="93.31" r="1.4" fill="#b8a2d6"/>
<line x1="454.61" y1="91.19" x2="454.61" y2="96.33" stroke="#b8a2d6" stroke-width="0.6" opacity="0.75"/>
<line x1="453.71" y1="91.19" x2="455.51" y2="91.19" stroke="#b8a2d6" stroke-width="0.5" opacity="0.6"/>
<circle cx="454.61" cy="93.76" r="1.4" fill="#b8a2d6"/>
<line x1="457.58" y1="90.69" x2="457.58" y2="94.04" stroke="#b8a2d6" stroke-width="0.6" opacity="0.75"/>
<line x1="456.68" y1="90.69" x2="458.48" y2="90.69" stroke="#b8a2d6" stroke-width="0.5" opacity="0.6"/>
<circle cx="457.58" cy="92.37" r="1.4" fill="#b8a2d6"/>
<line x1="460.55" y1="89.17" x2="460.55" y2="95.32" stroke="#b8a2d6" stroke-width="0.6" opacity="0.75"/>
<line x1="459.65" y1="89.17" x2="461.45" y2="89.17" stroke="#b8a2d6" stroke-width="0.5" opacity="0.6"/>
<circle cx="460.55" cy="92.25" r="1.4" fill="#b8a2d6"/>
<line x1="463.52" y1="89.57" x2="463.52" y2="95.22" stroke="#b8a2d6" stroke-width="0.6" opacity="0.75"/>
<line x1="462.62" y1="89.57" x2="464.42" y2="89.57" stroke="#b8a2d6" stroke-width="0.5" opacity="0.6"/>
<circle cx="463.52" cy="92.39" r="1.4" fill="#b8a2d6"/>
<line x1="466.49" y1="90.41" x2="466.49" y2="94.31" stroke="#b8a2d6" stroke-width="0.6" opacity="0.75"/>
<line x1="465.59" y1="90.41" x2="467.39" y2="90.41" stroke="#b8a2d6" stroke-width="0.5" opacity="0.6"/>
<circle cx="466.49" cy="92.36" r="1.4" fill="#b8a2d6"/>
<line x1="469.46" y1="89.2" x2="469.46" y2="93.8" stroke="#b8a2d6" stroke-width="0.6" opacity="0.75"/>
<line x1="468.56" y1="89.2" x2="470.36" y2="89.2" stroke="#b8a2d6" stroke-width="0.5" opacity="0.6"/>
<circle cx="469.46" cy="91.5" r="1.4" fill="#b8a2d6"/>
<line x1="472.43" y1="87.49" x2="472.43" y2="91.15" stroke="#b8a2d6" stroke-width="0.6" opacity="0.75"/>
<line x1="471.53" y1="87.49" x2="473.33" y2="87.49" stroke="#b8a2d6" stroke-width="0.5" opacity="0.6"/>
<circle cx="472.43" cy="89.32" r="1.4" fill="#b8a2d6"/>
<line x1="475.4" y1="85.83" x2="475.4" y2="91.13" stroke="#b8a2d6" stroke-width="0.6" opacity="0.75"/>
<line x1="474.5" y1="85.83" x2="476.3" y2="85.83" stroke="#b8a2d6" stroke-width="0.5" opacity="0.6"/>
<circle cx="475.4" cy="88.48" r="1.4" fill="#b8a2d6"/>
<line x1="478.37" y1="86.4" x2="478.37" y2="90.46" stroke="#b8a2d6" stroke-width="0.6" opacity="0.75"/>
<line x1="477.47" y1="86.4" x2="479.27" y2="86.4" stroke="#b8a2d6" stroke-width="0.5" opacity="0.6"/>
<circle cx="478.37" cy="88.43" r="1.4" fill="#b8a2d6"/>
<line x1="481.34" y1="82.4" x2="481.34" y2="89.13" stroke="#b8a2d6" stroke-width="0.6" opacity="0.75"/>
<line x1="480.44" y1="82.4" x2="482.24" y2="82.4" stroke="#b8a2d6" stroke-width="0.5" opacity="0.6"/>
<circle cx="481.34" cy="85.77" r="1.4" fill="#b8a2d6"/>
<path d="M431.3 105.4 L433.81 91.98 L436.78 91.32 L439.75 90.1 L442.73 89.2 L445.7 87.87 L448.67 87.24 L451.64 84.93 L454.61 80.82 L457.58 80.12 L460.55 78.7 L463.52 77.01 L466.49 74.69 L469.46 72.3 L472.43 71.18 L475.4 68.12 L478.37 65.84 L481.34 64.56" stroke="#a5c2e4" stroke-width="0.8" fill="none" opacity="0.85"/>
<line x1="433.81" y1="89.32" x2="433.81" y2="94.64" stroke="#a5c2e4" stroke-width="0.6" opacity="0.75"/>
<line x1="432.91" y1="89.32" x2="434.71" y2="89.32" stroke="#a5c2e4" stroke-width="0.5" opacity="0.6"/>
<circle cx="433.81" cy="91.98" r="1.4" fill="#a5c2e4"/>
<line x1="436.78" y1="88.31" x2="436.78" y2="94.34" stroke="#a5c2e4" stroke-width="0.6" opacity="0.75"/>
<line x1="435.88" y1="88.31" x2="437.68" y2="88.31" stroke="#a5c2e4" stroke-width="0.5" opacity="0.6"/>
<circle cx="436.78" cy="91.32" r="1.4" fill="#a5c2e4"/>
<line x1="439.75" y1="87.33" x2="439.75" y2="92.87" stroke="#a5c2e4" stroke-width="0.6" opacity="0.75"/>
<line x1="438.85" y1="87.33" x2="440.65" y2="87.33" stroke="#a5c2e4" stroke-width="0.5" opacity="0.6"/>
<circle cx="439.75" cy="90.1" r="1.4" fill="#a5c2e4"/>
<line x1="442.73" y1="86.85" x2="442.73" y2="91.55" stroke="#a5c2e4" stroke-width="0.6" opacity="0.75"/>
<line x1="441.83" y1="86.85" x2="443.62" y2="86.85" stroke="#a5c2e4" stroke-width="0.5" opacity="0.6"/>
<circle cx="442.73" cy="89.2" r="1.4" fill="#a5c2e4"/>
<line x1="445.7" y1="86.45" x2="445.7" y2="89.29" stroke="#a5c2e4" stroke-width="0.6" opacity="0.75"/>
<line x1="444.8" y1="86.45" x2="446.6" y2="86.45" stroke="#a5c2e4" stroke-width="0.5" opacity="0.6"/>
<circle cx="445.7" cy="87.87" r="1.4" fill="#a5c2e4"/>
<line x1="448.67" y1="84.41" x2="448.67" y2="90.07" stroke="#a5c2e4" stroke-width="0.6" opacity="0.75"/>
<line x1="447.77" y1="84.41" x2="449.57" y2="84.41" stroke="#a5c2e4" stroke-width="0.5" opacity="0.6"/>
<circle cx="448.67" cy="87.24" r="1.4" fill="#a5c2e4"/>
<line x1="451.64" y1="82.99" x2="451.64" y2="86.88" stroke="#a5c2e4" stroke-width="0.6" opacity="0.75"/>
<line x1="450.74" y1="82.99" x2="452.54" y2="82.99" stroke="#a5c2e4" stroke-width="0.5" opacity="0.6"/>
<circle cx="451.64" cy="84.93" r="1.4" fill="#a5c2e4"/>
<line x1="454.61" y1="78.02" x2="454.61" y2="83.61" stroke="#a5c2e4" stroke-width="0.6" opacity="0.75"/>
<line x1="453.71" y1="78.02" x2="455.51" y2="78.02" stroke="#a5c2e4" stroke-width="0.5" opacity="0.6"/>
<circle cx="454.61" cy="80.82" r="1.4" fill="#a5c2e4"/>
<line x1="457.58" y1="77.49" x2="457.58" y2="82.75" stroke="#a5c2e4" stroke-width="0.6" opacity="0.75"/>
<line x1="456.68" y1="77.49" x2="458.48" y2="77.49" stroke="#a5c2e4" stroke-width="0.5" opacity="0.6"/>
<circle cx="457.58" cy="80.12" r="1.4" fill="#a5c2e4"/>
<line x1="460.55" y1="76.51" x2="460.55" y2="80.88" stroke="#a5c2e4" stroke-width="0.6" opacity="0.75"/>
<line x1="459.65" y1="76.51" x2="461.45" y2="76.51" stroke="#a5c2e4" stroke-width="0.5" opacity="0.6"/>
<circle cx="460.55" cy="78.7" r="1.4" fill="#a5c2e4"/>
<line x1="463.52" y1="73.8" x2="463.52" y2="80.22" stroke="#a5c2e4" stroke-width="0.6" opacity="0.75"/>
<line x1="462.62" y1="73.8" x2="464.42" y2="73.8" stroke="#a5c2e4" stroke-width="0.5" opacity="0.6"/>
<circle cx="463.52" cy="77.01" r="1.4" fill="#a5c2e4"/>
<line x1="466.49" y1="71.42" x2="466.49" y2="77.95" stroke="#a5c2e4" stroke-width="0.6" opacity="0.75"/>
<line x1="465.59" y1="71.42" x2="467.39" y2="71.42" stroke="#a5c2e4" stroke-width="0.5" opacity="0.6"/>
<circle cx="466.49" cy="74.69" r="1.4" fill="#a5c2e4"/>
<line x1="469.46" y1="70.64" x2="469.46" y2="73.96" stroke="#a5c2e4" stroke-width="0.6" opacity="0.75"/>
<line x1="468.56" y1="70.64" x2="470.36" y2="70.64" stroke="#a5c2e4" stroke-width="0.5" opacity="0.6"/>
<circle cx="469.46" cy="72.3" r="1.4" fill="#a5c2e4"/>
<line x1="472.43" y1="68.53" x2="472.43" y2="73.83" stroke="#a5c2e4" stroke-width="0.6" opacity="0.75"/>
<line x1="471.53" y1="68.53" x2="473.33" y2="68.53" stroke="#a5c2e4" stroke-width="0.5" opacity="0.6"/>
<circle cx="472.43" cy="71.18" r="1.4" fill="#a5c2e4"/>
<line x1="475.4" y1="65.97" x2="475.4" y2="70.28" stroke="#a5c2e4" stroke-width="0.6" opacity="0.75"/>
<line x1="474.5" y1="65.97" x2="476.3" y2="65.97" stroke="#a5c2e4" stroke-width="0.5" opacity="0.6"/>
<circle cx="475.4" cy="68.12" r="1.4" fill="#a5c2e4"/>
<line x1="478.37" y1="62.68" x2="478.37" y2="68.99" stroke="#a5c2e4" stroke-width="0.6" opacity="0.75"/>
<line x1="477.47" y1="62.68" x2="479.27" y2="62.68" stroke="#a5c2e4" stroke-width="0.5" opacity="0.6"/>
<circle cx="478.37" cy="65.84" r="1.4" fill="#a5c2e4"/>
<line x1="481.34" y1="61.27" x2="481.34" y2="67.85" stroke="#a5c2e4" stroke-width="0.6" opacity="0.75"/>
<line x1="480.44" y1="61.27" x2="482.24" y2="61.27" stroke="#a5c2e4" stroke-width="0.5" opacity="0.6"/>
<circle cx="481.34" cy="64.56" r="1.4" fill="#a5c2e4"/>
<path d="M431.3 105.4 L433.81 93.02 L436.78 91.42 L439.75 89.84 L442.73 87.56 L445.7 86.83 L448.67 83.55 L451.64 81.2 L454.61 76.71 L457.58 72.22 L460.55 68.61 L463.52 68.7 L466.49 66.98 L469.46 62.4 L472.43 59.63 L475.4 53.23 L478.37 51.22 L481.34 49.01" stroke="#f6ad86" stroke-width="0.8" fill="none" opacity="0.85"/>
<line x1="433.81" y1="90.36" x2="433.81" y2="95.69" stroke="#f6ad86" stroke-width="0.6" opacity="0.75"/>
<line x1="432.91" y1="90.36" x2="434.71" y2="90.36" stroke="#f6ad86" stroke-width="0.5" opacity="0.6"/>
<circle cx="433.81" cy="93.02" r="1.4" fill="#f6ad86"/>
<line x1="436.78" y1="87" x2="436.78" y2="95.84" stroke="#f6ad86" stroke-width="0.6" opacity="0.75"/>
<line x1="435.88" y1="87" x2="437.68" y2="87" stroke="#f6ad86" stroke-width="0.5" opacity="0.6"/>
<circle cx="436.78" cy="91.42" r="1.4" fill="#f6ad86"/>
<line x1="439.75" y1="87.39" x2="439.75" y2="92.28" stroke="#f6ad86" stroke-width="0.6" opacity="0.75"/>
<line x1="438.85" y1="87.39" x2="440.65" y2="87.39" stroke="#f6ad86" stroke-width="0.5" opacity="0.6"/>
<circle cx="439.75" cy="89.84" r="1.4" fill="#f6ad86"/>
<line x1="442.73" y1="84.38" x2="442.73" y2="90.74" stroke="#f6ad86" stroke-width="0.6" opacity="0.75"/>
<line x1="441.83" y1="84.38" x2="443.62" y2="84.38" stroke="#f6ad86" stroke-width="0.5" opacity="0.6"/>
<circle cx="442.73" cy="87.56" r="1.4" fill="#f6ad86"/>
<line x1="445.7" y1="83.4" x2="445.7" y2="90.26" stroke="#f6ad86" stroke-width="0.6" opacity="0.75"/>
<line x1="444.8" y1="83.4" x2="446.6" y2="83.4" stroke="#f6ad86" stroke-width="0.5" opacity="0.6"/>
<circle cx="445.7" cy="86.83" r="1.4" fill="#f6ad86"/>
<line x1="448.67" y1="79.51" x2="448.67" y2="87.59" stroke="#f6ad86" stroke-width="0.6" opacity="0.75"/>
<line x1="447.77" y1="79.51" x2="449.57" y2="79.51" stroke="#f6ad86" stroke-width="0.5" opacity="0.6"/>
<circle cx="448.67" cy="83.55" r="1.4" fill="#f6ad86"/>
<line x1="451.64" y1="79.15" x2="451.64" y2="83.25" stroke="#f6ad86" stroke-width="0.6" opacity="0.75"/>
<line x1="450.74" y1="79.15" x2="452.54" y2="79.15" stroke="#f6ad86" stroke-width="0.5" opacity="0.6"/>
<circle cx="451.64" cy="81.2" r="1.4" fill="#f6ad86"/>
<line x1="454.61" y1="72.47" x2="454.61" y2="80.95" stroke="#f6ad86" stroke-width="0.6" opacity="0.75"/>
<line x1="453.71" y1="72.47" x2="455.51" y2="72.47" stroke="#f6ad86" stroke-width="0.5" opacity="0.6"/>
<circle cx="454.61" cy="76.71" r="1.4" fill="#f6ad86"/>
<line x1="457.58" y1="67.42" x2="457.58" y2="77.03" stroke="#f6ad86" stroke-width="0.6" opacity="0.75"/>
<line x1="456.68" y1="67.42" x2="458.48" y2="67.42" stroke="#f6ad86" stroke-width="0.5" opacity="0.6"/>
<circle cx="457.58" cy="72.22" r="1.4" fill="#f6ad86"/>
<line x1="460.55" y1="64.09" x2="460.55" y2="73.13" stroke="#f6ad86" stroke-width="0.6" opacity="0.75"/>
<line x1="459.65" y1="64.09" x2="461.45" y2="64.09" stroke="#f6ad86" stroke-width="0.5" opacity="0.6"/>
<circle cx="460.55" cy="68.61" r="1.4" fill="#f6ad86"/>
<line x1="463.52" y1="65.19" x2="463.52" y2="72.22" stroke="#f6ad86" stroke-width="0.6" opacity="0.75"/>
<line x1="462.62" y1="65.19" x2="464.42" y2="65.19" stroke="#f6ad86" stroke-width="0.5" opacity="0.6"/>
<circle cx="463.52" cy="68.7" r="1.4" fill="#f6ad86"/>
<line x1="466.49" y1="63.82" x2="466.49" y2="70.14" stroke="#f6ad86" stroke-width="0.6" opacity="0.75"/>
<line x1="465.59" y1="63.82" x2="467.39" y2="63.82" stroke="#f6ad86" stroke-width="0.5" opacity="0.6"/>
<circle cx="466.49" cy="66.98" r="1.4" fill="#f6ad86"/>
<line x1="469.46" y1="58.59" x2="469.46" y2="66.2" stroke="#f6ad86" stroke-width="0.6" opacity="0.75"/>
<line x1="468.56" y1="58.59" x2="470.36" y2="58.59" stroke="#f6ad86" stroke-width="0.5" opacity="0.6"/>
<circle cx="469.46" cy="62.4" r="1.4" fill="#f6ad86"/>
<line x1="472.43" y1="55.64" x2="472.43" y2="63.61" stroke="#f6ad86" stroke-width="0.6" opacity="0.75"/>
<line x1="471.53" y1="55.64" x2="473.33" y2="55.64" stroke="#f6ad86" stroke-width="0.5" opacity="0.6"/>
<circle cx="472.43" cy="59.63" r="1.4" fill="#f6ad86"/>
<line x1="475.4" y1="48.75" x2="475.4" y2="57.72" stroke="#f6ad86" stroke-width="0.6" opacity="0.75"/>
<line x1="474.5" y1="48.75" x2="476.3" y2="48.75" stroke="#f6ad86" stroke-width="0.5" opacity="0.6"/>
<circle cx="475.4" cy="53.23" r="1.4" fill="#f6ad86"/>
<line x1="478.37" y1="48.24" x2="478.37" y2="54.19" stroke="#f6ad86" stroke-width="0.6" opacity="0.75"/>
<line x1="477.47" y1="48.24" x2="479.27" y2="48.24" stroke="#f6ad86" stroke-width="0.5" opacity="0.6"/>
<circle cx="478.37" cy="51.22" r="1.4" fill="#f6ad86"/>
<line x1="481.34" y1="43.67" x2="481.34" y2="54.35" stroke="#f6ad86" stroke-width="0.6" opacity="0.75"/>
<line x1="480.44" y1="43.67" x2="482.24" y2="43.67" stroke="#f6ad86" stroke-width="0.5" opacity="0.6"/>
<circle cx="481.34" cy="49.01" r="1.4" fill="#f6ad86"/>
<path d="M431.3 105.4 L433.81 96.09 L436.78 94.52 L439.75 94.99 L442.73 96.19 L445.7 96.26 L448.67 95.62 L451.64 96.15 L454.61 94.88 L457.58 94.42 L460.55 93.99 L463.52 92.22 L466.49 93.25 L469.46 94.07 L472.43 91.06 L475.4 92.78 L478.37 91.68 L481.34 90.89" stroke="#9e542a" stroke-width="0.8" fill="none" opacity="0.85"/>
<line x1="433.81" y1="93.61" x2="433.81" y2="98.57" stroke="#9e542a" stroke-width="0.6" opacity="0.75"/>
<line x1="432.91" y1="93.61" x2="434.71" y2="93.61" stroke="#9e542a" stroke-width="0.5" opacity="0.6"/>
<circle cx="433.81" cy="96.09" r="1.4" fill="#9e542a"/>
<line x1="436.78" y1="91.21" x2="436.78" y2="97.83" stroke="#9e542a" stroke-width="0.6" opacity="0.75"/>
<line x1="435.88" y1="91.21" x2="437.68" y2="91.21" stroke="#9e542a" stroke-width="0.5" opacity="0.6"/>
<circle cx="436.78" cy="94.52" r="1.4" fill="#9e542a"/>
<line x1="439.75" y1="93.05" x2="439.75" y2="96.93" stroke="#9e542a" stroke-width="0.6" opacity="0.75"/>
<line x1="438.85" y1="93.05" x2="440.65" y2="93.05" stroke="#9e542a" stroke-width="0.5" opacity="0.6"/>
<circle cx="439.75" cy="94.99" r="1.4" fill="#9e542a"/>
<line x1="442.73" y1="94.54" x2="442.73" y2="97.85" stroke="#9e542a" stroke-width="0.6" opacity="0.75"/>
<line x1="441.83" y1="94.54" x2="443.62" y2="94.54" stroke="#9e542a" stroke-width="0.5" opacity="0.6"/>
<circle cx="442.73" cy="96.19" r="1.4" fill="#9e542a"/>
<line x1="445.7" y1="93.23" x2="445.7" y2="99.29" stroke="#9e542a" stroke-width="0.6" opacity="0.75"/>
<line x1="444.8" y1="93.23" x2="446.6" y2="93.23" stroke="#9e542a" stroke-width="0.5" opacity="0.6"/>
<circle cx="445.7" cy="96.26" r="1.4" fill="#9e542a"/>
<line x1="448.67" y1="93.27" x2="448.67" y2="97.98" stroke="#9e542a" stroke-width="0.6" opacity="0.75"/>
<line x1="447.77" y1="93.27" x2="449.57" y2="93.27" stroke="#9e542a" stroke-width="0.5" opacity="0.6"/>
<circle cx="448.67" cy="95.62" r="1.4" fill="#9e542a"/>
<line x1="451.64" y1="94.37" x2="451.64" y2="97.94" stroke="#9e542a" stroke-width="0.6" opacity="0.75"/>
<line x1="450.74" y1="94.37" x2="452.54" y2="94.37" stroke="#9e542a" stroke-width="0.5" opacity="0.6"/>
<circle cx="451.64" cy="96.15" r="1.4" fill="#9e542a"/>
<line x1="454.61" y1="91.63" x2="454.61" y2="98.13" stroke="#9e542a" stroke-width="0.6" opacity="0.75"/>
<line x1="453.71" y1="91.63" x2="455.51" y2="91.63" stroke="#9e542a" stroke-width="0.5" opacity="0.6"/>
<circle cx="454.61" cy="94.88" r="1.4" fill="#9e542a"/>
<line x1="457.58" y1="91.46" x2="457.58" y2="97.38" stroke="#9e542a" stroke-width="0.6" opacity="0.75"/>
<line x1="456.68" y1="91.46" x2="458.48" y2="91.46" stroke="#9e542a" stroke-width="0.5" opacity="0.6"/>
<circle cx="457.58" cy="94.42" r="1.4" fill="#9e542a"/>
<line x1="460.55" y1="92.2" x2="460.55" y2="95.77" stroke="#9e542a" stroke-width="0.6" opacity="0.75"/>
<line x1="459.65" y1="92.2" x2="461.45" y2="92.2" stroke="#9e542a" stroke-width="0.5" opacity="0.6"/>
<circle cx="460.55" cy="93.99" r="1.4" fill="#9e542a"/>
<line x1="463.52" y1="89.44" x2="463.52" y2="94.99" stroke="#9e542a" stroke-width="0.6" opacity="0.75"/>
<line x1="462.62" y1="89.44" x2="464.42" y2="89.44" stroke="#9e542a" stroke-width="0.5" opacity="0.6"/>
<circle cx="463.52" cy="92.22" r="1.4" fill="#9e542a"/>
<line x1="466.49" y1="91.13" x2="466.49" y2="95.36" stroke="#9e542a" stroke-width="0.6" opacity="0.75"/>
<line x1="465.59" y1="91.13" x2="467.39" y2="91.13" stroke="#9e542a" stroke-width="0.5" opacity="0.6"/>
<circle cx="466.49" cy="93.25" r="1.4" fill="#9e542a"/>
<line x1="469.46" y1="92.46" x2="469.46" y2="95.68" stroke="#9e542a" stroke-width="0.6" opacity="0.75"/>
<line x1="468.56" y1="92.46" x2="470.36" y2="92.46" stroke="#9e542a" stroke-width="0.5" opacity="0.6"/>
<circle cx="469.46" cy="94.07" r="1.4" fill="#9e542a"/>
<line x1="472.43" y1="89.41" x2="472.43" y2="92.7" stroke="#9e542a" stroke-width="0.6" opacity="0.75"/>
<line x1="471.53" y1="89.41" x2="473.33" y2="89.41" stroke="#9e542a" stroke-width="0.5" opacity="0.6"/>
<circle cx="472.43" cy="91.06" r="1.4" fill="#9e542a"/>
<line x1="475.4" y1="90.88" x2="475.4" y2="94.69" stroke="#9e542a" stroke-width="0.6" opacity="0.75"/>
<line x1="474.5" y1="90.88" x2="476.3" y2="90.88" stroke="#9e542a" stroke-width="0.5" opacity="0.6"/>
<circle cx="475.4" cy="92.78" r="1.4" fill="#9e542a"/>
<line x1="478.37" y1="89.22" x2="478.37" y2="94.14" stroke="#9e542a" stroke-width="0.6" opacity="0.75"/>
<line x1="477.47" y1="89.22" x2="479.27" y2="89.22" stroke="#9e542a" stroke-width="0.5" opacity="0.6"/>
<circle cx="478.37" cy="91.68" r="1.4" fill="#9e542a"/>
<line x1="481.34" y1="88.74" x2="481.34" y2="93.04" stroke="#9e542a" stroke-width="0.6" opacity="0.75"/>
<line x1="480.44" y1="88.74" x2="482.24" y2="88.74" stroke="#9e542a" stroke-width="0.5" opacity="0.6"/>
<circle cx="481.34" cy="90.89" r="1.4" fill="#9e542a"/>
<path d="M431.3 105.4 L433.81 95.5 L436.78 95.44 L439.75 94.53 L442.73 93.5 L445.7 91.97 L448.67 93.57 L451.64 93.08 L454.61 90.61 L457.58 91.88 L460.55 89.55 L463.52 89.85 L466.49 88.59 L469.46 89.55 L472.43 86.14 L475.4 86.54 L478.37 86.1 L481.34 82.17" stroke="#ef7a20" stroke-width="0.8" fill="none" opacity="0.85"/>
<line x1="433.81" y1="93.66" x2="433.81" y2="97.33" stroke="#ef7a20" stroke-width="0.6" opacity="0.75"/>
<line x1="432.91" y1="93.66" x2="434.71" y2="93.66" stroke="#ef7a20" stroke-width="0.5" opacity="0.6"/>
<circle cx="433.81" cy="95.5" r="1.4" fill="#ef7a20"/>
<line x1="436.78" y1="92.27" x2="436.78" y2="98.62" stroke="#ef7a20" stroke-width="0.6" opacity="0.75"/>
<line x1="435.88" y1="92.27" x2="437.68" y2="92.27" stroke="#ef7a20" stroke-width="0.5" opacity="0.6"/>
<circle cx="436.78" cy="95.44" r="1.4" fill="#ef7a20"/>
<line x1="439.75" y1="92.65" x2="439.75" y2="96.41" stroke="#ef7a20" stroke-width="0.6" opacity="0.75"/>
<line x1="438.85" y1="92.65" x2="440.65" y2="92.65" stroke="#ef7a20" stroke-width="0.5" opacity="0.6"/>
<circle cx="439.75" cy="94.53" r="1.4" fill="#ef7a20"/>
<line x1="442.73" y1="91.59" x2="442.73" y2="95.42" stroke="#ef7a20" stroke-width="0.6" opacity="0.75"/>
<line x1="441.83" y1="91.59" x2="443.62" y2="91.59" stroke="#ef7a20" stroke-width="0.5" opacity="0.6"/>
<circle cx="442.73" cy="93.5" r="1.4" fill="#ef7a20"/>
<line x1="445.7" y1="88.9" x2="445.7" y2="95.03" stroke="#ef7a20" stroke-width="0.6" opacity="0.75"/>
<line x1="444.8" y1="88.9" x2="446.6" y2="88.9" stroke="#ef7a20" stroke-width="0.5" opacity="0.6"/>
<circle cx="445.7" cy="91.97" r="1.4" fill="#ef7a20"/>
<line x1="448.67" y1="90.59" x2="448.67" y2="96.55" stroke="#ef7a20" stroke-width="0.6" opacity="0.75"/>
<line x1="447.77" y1="90.59" x2="449.57" y2="90.59" stroke="#ef7a20" stroke-width="0.5" opacity="0.6"/>
<circle cx="448.67" cy="93.57" r="1.4" fill="#ef7a20"/>
<line x1="451.64" y1="90.87" x2="451.64" y2="95.28" stroke="#ef7a20" stroke-width="0.6" opacity="0.75"/>
<line x1="450.74" y1="90.87" x2="452.54" y2="90.87" stroke="#ef7a20" stroke-width="0.5" opacity="0.6"/>
<circle cx="451.64" cy="93.08" r="1.4" fill="#ef7a20"/>
<line x1="454.61" y1="89.17" x2="454.61" y2="92.04" stroke="#ef7a20" stroke-width="0.6" opacity="0.75"/>
<line x1="453.71" y1="89.17" x2="455.51" y2="89.17" stroke="#ef7a20" stroke-width="0.5" opacity="0.6"/>
<circle cx="454.61" cy="90.61" r="1.4" fill="#ef7a20"/>
<line x1="457.58" y1="89.11" x2="457.58" y2="94.64" stroke="#ef7a20" stroke-width="0.6" opacity="0.75"/>
<line x1="456.68" y1="89.11" x2="458.48" y2="89.11" stroke="#ef7a20" stroke-width="0.5" opacity="0.6"/>
<circle cx="457.58" cy="91.88" r="1.4" fill="#ef7a20"/>
<line x1="460.55" y1="86.21" x2="460.55" y2="92.89" stroke="#ef7a20" stroke-width="0.6" opacity="0.75"/>
<line x1="459.65" y1="86.21" x2="461.45" y2="86.21" stroke="#ef7a20" stroke-width="0.5" opacity="0.6"/>
<circle cx="460.55" cy="89.55" r="1.4" fill="#ef7a20"/>
<line x1="463.52" y1="87.43" x2="463.52" y2="92.26" stroke="#ef7a20" stroke-width="0.6" opacity="0.75"/>
<line x1="462.62" y1="87.43" x2="464.42" y2="87.43" stroke="#ef7a20" stroke-width="0.5" opacity="0.6"/>
<circle cx="463.52" cy="89.85" r="1.4" fill="#ef7a20"/>
<line x1="466.49" y1="86.19" x2="466.49" y2="91" stroke="#ef7a20" stroke-width="0.6" opacity="0.75"/>
<line x1="465.59" y1="86.19" x2="467.39" y2="86.19" stroke="#ef7a20" stroke-width="0.5" opacity="0.6"/>
<circle cx="466.49" cy="88.59" r="1.4" fill="#ef7a20"/>
<line x1="469.46" y1="87.78" x2="469.46" y2="91.33" stroke="#ef7a20" stroke-width="0.6" opacity="0.75"/>
<line x1="468.56" y1="87.78" x2="470.36" y2="87.78" stroke="#ef7a20" stroke-width="0.5" opacity="0.6"/>
<circle cx="469.46" cy="89.55" r="1.4" fill="#ef7a20"/>
<line x1="472.43" y1="84.52" x2="472.43" y2="87.75" stroke="#ef7a20" stroke-width="0.6" opacity="0.75"/>
<line x1="471.53" y1="84.52" x2="473.33" y2="84.52" stroke="#ef7a20" stroke-width="0.5" opacity="0.6"/>
<circle cx="472.43" cy="86.14" r="1.4" fill="#ef7a20"/>
<line x1="475.4" y1="84.04" x2="475.4" y2="89.05" stroke="#ef7a20" stroke-width="0.6" opacity="0.75"/>
<line x1="474.5" y1="84.04" x2="476.3" y2="84.04" stroke="#ef7a20" stroke-width="0.5" opacity="0.6"/>
<circle cx="475.4" cy="86.54" r="1.4" fill="#ef7a20"/>
<line x1="478.37" y1="83.56" x2="478.37" y2="88.64" stroke="#ef7a20" stroke-width="0.6" opacity="0.75"/>
<line x1="477.47" y1="83.56" x2="479.27" y2="83.56" stroke="#ef7a20" stroke-width="0.5" opacity="0.6"/>
<circle cx="478.37" cy="86.1" r="1.4" fill="#ef7a20"/>
<line x1="481.34" y1="80.4" x2="481.34" y2="83.94" stroke="#ef7a20" stroke-width="0.6" opacity="0.75"/>
<line x1="480.44" y1="80.4" x2="482.24" y2="80.4" stroke="#ef7a20" stroke-width="0.5" opacity="0.6"/>
<circle cx="481.34" cy="82.17" r="1.4" fill="#ef7a20"/>
<path d="M431.3 105.4 L433.81 95.81 L436.78 99.98 L439.75 96.72 L442.73 97.09 L445.7 94.28 L448.67 95.37 L451.64 97.71 L454.61 95.28 L457.58 95.88 L460.55 93.97 L463.52 95.71 L466.49 94.35 L469.46 94 L472.43 93.56 L475.4 93.65 L478.37 94.52 L481.34 91.74" stroke="#101010" stroke-width="0.8" fill="none" opacity="0.85"/>
<line x1="433.81" y1="92.93" x2="433.81" y2="98.69" stroke="#101010" stroke-width="0.6" opacity="0.75"/>
<line x1="432.91" y1="92.93" x2="434.71" y2="92.93" stroke="#101010" stroke-width="0.5" opacity="0.6"/>
<circle cx="433.81" cy="95.81" r="1.4" fill="#101010"/>
<line x1="436.78" y1="98.19" x2="436.78" y2="101.77" stroke="#101010" stroke-width="0.6" opacity="0.75"/>
<line x1="435.88" y1="98.19" x2="437.68" y2="98.19" stroke="#101010" stroke-width="0.5" opacity="0.6"/>
<circle cx="436.78" cy="99.98" r="1.4" fill="#101010"/>
<line x1="439.75" y1="94.3" x2="439.75" y2="99.15" stroke="#101010" stroke-width="0.6" opacity="0.75"/>
<line x1="438.85" y1="94.3" x2="440.65" y2="94.3" stroke="#101010" stroke-width="0.5" opacity="0.6"/>
<circle cx="439.75" cy="96.72" r="1.4" fill="#101010"/>
<line x1="442.73" y1="93.91" x2="442.73" y2="100.28" stroke="#101010" stroke-width="0.6" opacity="0.75"/>
<line x1="441.83" y1="93.91" x2="443.62" y2="93.91" stroke="#101010" stroke-width="0.5" opacity="0.6"/>
<circle cx="442.73" cy="97.09" r="1.4" fill="#101010"/>
<line x1="445.7" y1="91.48" x2="445.7" y2="97.09" stroke="#101010" stroke-width="0.6" opacity="0.75"/>
<line x1="444.8" y1="91.48" x2="446.6" y2="91.48" stroke="#101010" stroke-width="0.5" opacity="0.6"/>
<circle cx="445.7" cy="94.28" r="1.4" fill="#101010"/>
<line x1="448.67" y1="92.71" x2="448.67" y2="98.03" stroke="#101010" stroke-width="0.6" opacity="0.75"/>
<line x1="447.77" y1="92.71" x2="449.57" y2="92.71" stroke="#101010" stroke-width="0.5" opacity="0.6"/>
<circle cx="448.67" cy="95.37" r="1.4" fill="#101010"/>
<line x1="451.64" y1="95.11" x2="451.64" y2="100.31" stroke="#101010" stroke-width="0.6" opacity="0.75"/>
<line x1="450.74" y1="95.11" x2="452.54" y2="95.11" stroke="#101010" stroke-width="0.5" opacity="0.6"/>
<circle cx="451.64" cy="97.71" r="1.4" fill="#101010"/>
<line x1="454.61" y1="91.91" x2="454.61" y2="98.64" stroke="#101010" stroke-width="0.6" opacity="0.75"/>
<line x1="453.71" y1="91.91" x2="455.51" y2="91.91" stroke="#101010" stroke-width="0.5" opacity="0.6"/>
<circle cx="454.61" cy="95.28" r="1.4" fill="#101010"/>
<line x1="457.58" y1="93.96" x2="457.58" y2="97.8" stroke="#101010" stroke-width="0.6" opacity="0.75"/>
<line x1="456.68" y1="93.96" x2="458.48" y2="93.96" stroke="#101010" stroke-width="0.5" opacity="0.6"/>
<circle cx="457.58" cy="95.88" r="1.4" fill="#101010"/>
<line x1="460.55" y1="91.08" x2="460.55" y2="96.86" stroke="#101010" stroke-width="0.6" opacity="0.75"/>
<line x1="459.65" y1="91.08" x2="461.45" y2="91.08" stroke="#101010" stroke-width="0.5" opacity="0.6"/>
<circle cx="460.55" cy="93.97" r="1.4" fill="#101010"/>
<line x1="463.52" y1="92.68" x2="463.52" y2="98.74" stroke="#101010" stroke-width="0.6" opacity="0.75"/>
<line x1="462.62" y1="92.68" x2="464.42" y2="92.68" stroke="#101010" stroke-width="0.5" opacity="0.6"/>
<circle cx="463.52" cy="95.71" r="1.4" fill="#101010"/>
<line x1="466.49" y1="91.16" x2="466.49" y2="97.55" stroke="#101010" stroke-width="0.6" opacity="0.75"/>
<line x1="465.59" y1="91.16" x2="467.39" y2="91.16" stroke="#101010" stroke-width="0.5" opacity="0.6"/>
<circle cx="466.49" cy="94.35" r="1.4" fill="#101010"/>
<line x1="469.46" y1="91.21" x2="469.46" y2="96.79" stroke="#101010" stroke-width="0.6" opacity="0.75"/>
<line x1="468.56" y1="91.21" x2="470.36" y2="91.21" stroke="#101010" stroke-width="0.5" opacity="0.6"/>
<circle cx="469.46" cy="94" r="1.4" fill="#101010"/>
<line x1="472.43" y1="90.63" x2="472.43" y2="96.49" stroke="#101010" stroke-width="0.6" opacity="0.75"/>
<line x1="471.53" y1="90.63" x2="473.33" y2="90.63" stroke="#101010" stroke-width="0.5" opacity="0.6"/>
<circle cx="472.43" cy="93.56" r="1.4" fill="#101010"/>
<line x1="475.4" y1="90.81" x2="475.4" y2="96.5" stroke="#101010" stroke-width="0.6" opacity="0.75"/>
<line x1="474.5" y1="90.81" x2="476.3" y2="90.81" stroke="#101010" stroke-width="0.5" opacity="0.6"/>
<circle cx="475.4" cy="93.65" r="1.4" fill="#101010"/>
<line x1="478.37" y1="92.44" x2="478.37" y2="96.61" stroke="#101010" stroke-width="0.6" opacity="0.75"/>
<line x1="477.47" y1="92.44" x2="479.27" y2="92.44" stroke="#101010" stroke-width="0.5" opacity="0.6"/>
<circle cx="478.37" cy="94.52" r="1.4" fill="#101010"/>
<line x1="481.34" y1="90.32" x2="481.34" y2="93.16" stroke="#101010" stroke-width="0.6" opacity="0.75"/>
<line x1="480.44" y1="90.32" x2="482.24" y2="90.32" stroke="#101010" stroke-width="0.5" opacity="0.6"/>
<circle cx="481.34" cy="91.74" r="1.4" fill="#101010"/>
<path d="M431.3 105.4 L433.81 91.19 L436.78 92.71 L439.75 92.25 L442.73 90.14 L445.7 87.15 L448.67 89.2 L451.64 88.6 L454.61 87.53 L457.58 86.91 L460.55 85.72 L463.52 83.84 L466.49 81.02 L469.46 81.33 L472.43 80.66 L475.4 80.57 L478.37 77.45 L481.34 76.42" stroke="#4c2a8e" stroke-width="0.8" fill="none" opacity="0.85"/>
<line x1="433.81" y1="88.56" x2="433.81" y2="93.82" stroke="#4c2a8e" stroke-width="0.6" opacity="0.75"/>
<line x1="432.91" y1="88.56" x2="434.71" y2="88.56" stroke="#4c2a8e" stroke-width="0.5" opacity="0.6"/>
<circle cx="433.81" cy="91.19" r="1.4" fill="#4c2a8e"/>
<line x1="436.78" y1="90.79" x2="436.78" y2="94.62" stroke="#4c2a8e" stroke-width="0.6" opacity="0.75"/>
<line x1="435.88" y1="90.79" x2="437.68" y2="90.79" stroke="#4c2a8e" stroke-width="0.5" opacity="0.6"/>
<circle cx="436.78" cy="92.71" r="1.4" fill="#4c2a8e"/>
<line x1="439.75" y1="90.75" x2="439.75" y2="93.75" stroke="#4c2a8e" stroke-width="0.6" opacity="0.75"/>
<line x1="438.85" y1="90.75" x2="440.65" y2="90.75" stroke="#4c2a8e" stroke-width="0.5" opacity="0.6"/>
<circle cx="439.75" cy="92.25" r="1.4" fill="#4c2a8e"/>
<line x1="442.73" y1="87.99" x2="442.73" y2="92.29" stroke="#4c2a8e" stroke-width="0.6" opacity="0.75"/>
<line x1="441.83" y1="87.99" x2="443.62" y2="87.99" stroke="#4c2a8e" stroke-width="0.5" opacity="0.6"/>
<circle cx="442.73" cy="90.14" r="1.4" fill="#4c2a8e"/>
<line x1="445.7" y1="85.25" x2="445.7" y2="89.06" stroke="#4c2a8e" stroke-width="0.6" opacity="0.75"/>
<line x1="444.8" y1="85.25" x2="446.6" y2="85.25" stroke="#4c2a8e" stroke-width="0.5" opacity="0.6"/>
<circle cx="445.7" cy="87.15" r="1.4" fill="#4c2a8e"/>
<line x1="448.67" y1="86.7" x2="448.67" y2="91.7" stroke="#4c2a8e" stroke-width="0.6" opacity="0.75"/>
<line x1="447.77" y1="86.7" x2="449.57" y2="86.7" stroke="#4c2a8e" stroke-width="0.5" opacity="0.6"/>
<circle cx="448.67" cy="89.2" r="1.4" fill="#4c2a8e"/>
<line x1="451.64" y1="85.26" x2="451.64" y2="91.93" stroke="#4c2a8e" stroke-width="0.6" opacity="0.75"/>
<line x1="450.74" y1="85.26" x2="452.54" y2="85.26" stroke="#4c2a8e" stroke-width="0.5" opacity="0.6"/>
<circle cx="451.64" cy="88.6" r="1.4" fill="#4c2a8e"/>
<line x1="454.61" y1="84.14" x2="454.61" y2="90.92" stroke="#4c2a8e" stroke-width="0.6" opacity="0.75"/>
<line x1="453.71" y1="84.14" x2="455.51" y2="84.14" stroke="#4c2a8e" stroke-width="0.5" opacity="0.6"/>
<circle cx="454.61" cy="87.53" r="1.4" fill="#4c2a8e"/>
<line x1="457.58" y1="83.89" x2="457.58" y2="89.93" stroke="#4c2a8e" stroke-width="0.6" opacity="0.75"/>
<line x1="456.68" y1="83.89" x2="458.48" y2="83.89" stroke="#4c2a8e" stroke-width="0.5" opacity="0.6"/>
<circle cx="457.58" cy="86.91" r="1.4" fill="#4c2a8e"/>
<line x1="460.55" y1="83.13" x2="460.55" y2="88.32" stroke="#4c2a8e" stroke-width="0.6" opacity="0.75"/>
<line x1="459.65" y1="83.13" x2="461.45" y2="83.13" stroke="#4c2a8e" stroke-width="0.5" opacity="0.6"/>
<circle cx="460.55" cy="85.72" r="1.4" fill="#4c2a8e"/>
<line x1="463.52" y1="82.35" x2="463.52" y2="85.33" stroke="#4c2a8e" stroke-width="0.6" opacity="0.75"/>
<line x1="462.62" y1="82.35" x2="464.42" y2="82.35" stroke="#4c2a8e" stroke-width="0.5" opacity="0.6"/>
<circle cx="463.52" cy="83.84" r="1.4" fill="#4c2a8e"/>
<line x1="466.49" y1="79.3" x2="466.49" y2="82.74" stroke="#4c2a8e" stroke-width="0.6" opacity="0.75"/>
<line x1="465.59" y1="79.3" x2="467.39" y2="79.3" stroke="#4c2a8e" stroke-width="0.5" opacity="0.6"/>
<circle cx="466.49" cy="81.02" r="1.4" fill="#4c2a8e"/>
<line x1="469.46" y1="79.59" x2="469.46" y2="83.07" stroke="#4c2a8e" stroke-width="0.6" opacity="0.75"/>
<line x1="468.56" y1="79.59" x2="470.36" y2="79.59" stroke="#4c2a8e" stroke-width="0.5" opacity="0.6"/>
<circle cx="469.46" cy="81.33" r="1.4" fill="#4c2a8e"/>
<line x1="472.43" y1="78.04" x2="472.43" y2="83.28" stroke="#4c2a8e" stroke-width="0.6" opacity="0.75"/>
<line x1="471.53" y1="78.04" x2="473.33" y2="78.04" stroke="#4c2a8e" stroke-width="0.5" opacity="0.6"/>
<circle cx="472.43" cy="80.66" r="1.4" fill="#4c2a8e"/>
<line x1="475.4" y1="77.28" x2="475.4" y2="83.86" stroke="#4c2a8e" stroke-width="0.6" opacity="0.75"/>
<line x1="474.5" y1="77.28" x2="476.3" y2="77.28" stroke="#4c2a8e" stroke-width="0.5" opacity="0.6"/>
<circle cx="475.4" cy="80.57" r="1.4" fill="#4c2a8e"/>
<line x1="478.37" y1="74.99" x2="478.37" y2="79.9" stroke="#4c2a8e" stroke-width="0.6" opacity="0.75"/>
<line x1="477.47" y1="74.99" x2="479.27" y2="74.99" stroke="#4c2a8e" stroke-width="0.5" opacity="0.6"/>
<circle cx="478.37" cy="77.45" r="1.4" fill="#4c2a8e"/>
<line x1="481.34" y1="74.29" x2="481.34" y2="78.55" stroke="#4c2a8e" stroke-width="0.6" opacity="0.75"/>
<line x1="480.44" y1="74.29" x2="482.24" y2="74.29" stroke="#4c2a8e" stroke-width="0.5" opacity="0.6"/>
<circle cx="481.34" cy="76.42" r="1.4" fill="#4c2a8e"/>
<path d="M431.3 105.4 L433.81 93.83 L436.78 93.58 L439.75 91.96 L442.73 89.01 L445.7 89.52 L448.67 88.08 L451.64 86.94 L454.61 85.29 L457.58 83.22 L460.55 81.26 L463.52 82.85 L466.49 78.2 L469.46 77.98 L472.43 76.65 L475.4 72.16 L478.37 73.06 L481.34 69.12" stroke="#3b9c3b" stroke-width="0.8" fill="none" opacity="0.85"/>
<line x1="433.81" y1="91.57" x2="433.81" y2="96.09" stroke="#3b9c3b" stroke-width="0.6" opacity="0.75"/>
<line x1="432.91" y1="91.57" x2="434.71" y2="91.57" stroke="#3b9c3b" stroke-width="0.5" opacity="0.6"/>
<circle cx="433.81" cy="93.83" r="1.4" fill="#3b9c3b"/>
<line x1="436.78" y1="90.24" x2="436.78" y2="96.93" stroke="#3b9c3b" stroke-width="0.6" opacity="0.75"/>
<line x1="435.88" y1="90.24" x2="437.68" y2="90.24" stroke="#3b9c3b" stroke-width="0.5" opacity="0.6"/>
<circle cx="436.78" cy="93.58" r="1.4" fill="#3b9c3b"/>
<line x1="439.75" y1="89.52" x2="439.75" y2="94.41" stroke="#3b9c3b" stroke-width="0.6" opacity="0.75"/>
<line x1="438.85" y1="89.52" x2="440.65" y2="89.52" stroke="#3b9c3b" stroke-width="0.5" opacity="0.6"/>
<circle cx="439.75" cy="91.96" r="1.4" fill="#3b9c3b"/>
<line x1="442.73" y1="86.16" x2="442.73" y2="91.85" stroke="#3b9c3b" stroke-width="0.6" opacity="0.75"/>
<line x1="441.83" y1="86.16" x2="443.62" y2="86.16" stroke="#3b9c3b" stroke-width="0.5" opacity="0.6"/>
<circle cx="442.73" cy="89.01" r="1.4" fill="#3b9c3b"/>
<line x1="445.7" y1="86.16" x2="445.7" y2="92.88" stroke="#3b9c3b" stroke-width="0.6" opacity="0.75"/>
<line x1="444.8" y1="86.16" x2="446.6" y2="86.16" stroke="#3b9c3b" stroke-width="0.5" opacity="0.6"/>
<circle cx="445.7" cy="89.52" r="1.4" fill="#3b9c3b"/>
<line x1="448.67" y1="85.48" x2="448.67" y2="90.69" stroke="#3b9c3b" stroke-width="0.6" opacity="0.75"/>
<line x1="447.77" y1="85.48" x2="449.57" y2="85.48" stroke="#3b9c3b" stroke-width="0.5" opacity="0.6"/>
<circle cx="448.67" cy="88.08" r="1.4" fill="#3b9c3b"/>
<line x1="451.64" y1="84.3" x2="451.64" y2="89.59" stroke="#3b9c3b" stroke-width="0.6" opacity="0.75"/>
<line x1="450.74" y1="84.3" x2="452.54" y2="84.3" stroke="#3b9c3b" stroke-width="0.5" opacity="0.6"/>
<circle cx="451.64" cy="86.94" r="1.4" fill="#3b9c3b"/>
<line x1="454.61" y1="83.48" x2="454.61" y2="87.1" stroke="#3b9c3b" stroke-width="0.6" opacity="0.75"/>
<line x1="453.71" y1="83.48" x2="455.51" y2="83.48" stroke="#3b9c3b" stroke-width="0.5" opacity="0.6"/>
<circle cx="454.61" cy="85.29" r="1.4" fill="#3b9c3b"/>
<line x1="457.58" y1="80.76" x2="457.58" y2="85.67" stroke="#3b9c3b" stroke-width="0.6" opacity="0.75"/>
<line x1="456.68" y1="80.76" x2="458.48" y2="80.76" stroke="#3b9c3b" stroke-width="0.5" opacity="0.6"/>
<circle cx="457.58" cy="83.22" r="1.4" fill="#3b9c3b"/>
<line x1="460.55" y1="78.98" x2="460.55" y2="83.55" stroke="#3b9c3b" stroke-width="0.6" opacity="0.75"/>
<line x1="459.65" y1="78.98" x2="461.45" y2="78.98" stroke="#3b9c3b" stroke-width="0.5" opacity="0.6"/>
<circle cx="460.55" cy="81.26" r="1.4" fill="#3b9c3b"/>
<line x1="463.52" y1="80.54" x2="463.52" y2="85.16" stroke="#3b9c3b" stroke-width="0.6" opacity="0.75"/>
<line x1="462.62" y1="80.54" x2="464.42" y2="80.54" stroke="#3b9c3b" stroke-width="0.5" opacity="0.6"/>
<circle cx="463.52" cy="82.85" r="1.4" fill="#3b9c3b"/>
<line x1="466.49" y1="75.63" x2="466.49" y2="80.76" stroke="#3b9c3b" stroke-width="0.6" opacity="0.75"/>
<line x1="465.59" y1="75.63" x2="467.39" y2="75.63" stroke="#3b9c3b" stroke-width="0.5" opacity="0.6"/>
<circle cx="466.49" cy="78.2" r="1.4" fill="#3b9c3b"/>
<line x1="469.46" y1="75.02" x2="469.46" y2="80.93" stroke="#3b9c3b" stroke-width="0.6" opacity="0.75"/>
<line x1="468.56" y1="75.02" x2="470.36" y2="75.02" stroke="#3b9c3b" stroke-width="0.5" opacity="0.6"/>
<circle cx="469.46" cy="77.98" r="1.4" fill="#3b9c3b"/>
<line x1="472.43" y1="73.25" x2="472.43" y2="80.04" stroke="#3b9c3b" stroke-width="0.6" opacity="0.75"/>
<line x1="471.53" y1="73.25" x2="473.33" y2="73.25" stroke="#3b9c3b" stroke-width="0.5" opacity="0.6"/>
<circle cx="472.43" cy="76.65" r="1.4" fill="#3b9c3b"/>
<line x1="475.4" y1="69.29" x2="475.4" y2="75.03" stroke="#3b9c3b" stroke-width="0.6" opacity="0.75"/>
<line x1="474.5" y1="69.29" x2="476.3" y2="69.29" stroke="#3b9c3b" stroke-width="0.5" opacity="0.6"/>
<circle cx="475.4" cy="72.16" r="1.4" fill="#3b9c3b"/>
<line x1="478.37" y1="71.43" x2="478.37" y2="74.69" stroke="#3b9c3b" stroke-width="0.6" opacity="0.75"/>
<line x1="477.47" y1="71.43" x2="479.27" y2="71.43" stroke="#3b9c3b" stroke-width="0.5" opacity="0.6"/>
<circle cx="478.37" cy="73.06" r="1.4" fill="#3b9c3b"/>
<line x1="481.34" y1="66.16" x2="481.34" y2="72.09" stroke="#3b9c3b" stroke-width="0.6" opacity="0.75"/>
<line x1="480.44" y1="66.16" x2="482.24" y2="66.16" stroke="#3b9c3b" stroke-width="0.5" opacity="0.6"/>
<circle cx="481.34" cy="69.12" r="1.4" fill="#3b9c3b"/>
<path d="M431.3 105.4 L433.81 87.71 L436.78 88.28 L439.75 85.77 L442.73 85.33 L445.7 84.26 L448.67 82.36 L451.64 79.91 L454.61 76.98 L457.58 75.44 L460.55 72.45 L463.52 67.23 L466.49 65.82 L469.46 66.18 L472.43 62.18 L475.4 59.79 L478.37 57.32 L481.34 53.35" stroke="#1a2890" stroke-width="0.8" fill="none" opacity="0.85"/>
<line x1="433.81" y1="85.06" x2="433.81" y2="90.35" stroke="#1a2890" stroke-width="0.6" opacity="0.75"/>
<line x1="432.91" y1="85.06" x2="434.71" y2="85.06" stroke="#1a2890" stroke-width="0.5" opacity="0.6"/>
<circle cx="433.81" cy="87.71" r="1.4" fill="#1a2890"/>
<line x1="436.78" y1="85.8" x2="436.78" y2="90.77" stroke="#1a2890" stroke-width="0.6" opacity="0.75"/>
<line x1="435.88" y1="85.8" x2="437.68" y2="85.8" stroke="#1a2890" stroke-width="0.5" opacity="0.6"/>
<circle cx="436.78" cy="88.28" r="1.4" fill="#1a2890"/>
<line x1="439.75" y1="84.2" x2="439.75" y2="87.34" stroke="#1a2890" stroke-width="0.6" opacity="0.75"/>
<line x1="438.85" y1="84.2" x2="440.65" y2="84.2" stroke="#1a2890" stroke-width="0.5" opacity="0.6"/>
<circle cx="439.75" cy="85.77" r="1.4" fill="#1a2890"/>
<line x1="442.73" y1="82.83" x2="442.73" y2="87.84" stroke="#1a2890" stroke-width="0.6" opacity="0.75"/>
<line x1="441.83" y1="82.83" x2="443.62" y2="82.83" stroke="#1a2890" stroke-width="0.5" opacity="0.6"/>
<circle cx="442.73" cy="85.33" r="1.4" fill="#1a2890"/>
<line x1="445.7" y1="82.11" x2="445.7" y2="86.41" stroke="#1a2890" stroke-width="0.6" opacity="0.75"/>
<line x1="444.8" y1="82.11" x2="446.6" y2="82.11" stroke="#1a2890" stroke-width="0.5" opacity="0.6"/>
<circle cx="445.7" cy="84.26" r="1.4" fill="#1a2890"/>
<line x1="448.67" y1="80.54" x2="448.67" y2="84.18" stroke="#1a2890" stroke-width="0.6" opacity="0.75"/>
<line x1="447.77" y1="80.54" x2="449.57" y2="80.54" stroke="#1a2890" stroke-width="0.5" opacity="0.6"/>
<circle cx="448.67" cy="82.36" r="1.4" fill="#1a2890"/>
<line x1="451.64" y1="77.02" x2="451.64" y2="82.8" stroke="#1a2890" stroke-width="0.6" opacity="0.75"/>
<line x1="450.74" y1="77.02" x2="452.54" y2="77.02" stroke="#1a2890" stroke-width="0.5" opacity="0.6"/>
<circle cx="451.64" cy="79.91" r="1.4" fill="#1a2890"/>
<line x1="454.61" y1="75.43" x2="454.61" y2="78.53" stroke="#1a2890" stroke-width="0.6" opacity="0.75"/>
<line x1="453.71" y1="75.43" x2="455.51" y2="75.43" stroke="#1a2890" stroke-width="0.5" opacity="0.6"/>
<circle cx="454.61" cy="76.98" r="1.4" fill="#1a2890"/>
<line x1="457.58" y1="72.42" x2="457.58" y2="78.46" stroke="#1a2890" stroke-width="0.6" opacity="0.75"/>
<line x1="456.68" y1="72.42" x2="458.48" y2="72.42" stroke="#1a2890" stroke-width="0.5" opacity="0.6"/>
<circle cx="457.58" cy="75.44" r="1.4" fill="#1a2890"/>
<line x1="460.55" y1="69.52" x2="460.55" y2="75.39" stroke="#1a2890" stroke-width="0.6" opacity="0.75"/>
<line x1="459.65" y1="69.52" x2="461.45" y2="69.52" stroke="#1a2890" stroke-width="0.5" opacity="0.6"/>
<circle cx="460.55" cy="72.45" r="1.4" fill="#1a2890"/>
<line x1="463.52" y1="64.98" x2="463.52" y2="69.48" stroke="#1a2890" stroke-width="0.6" opacity="0.75"/>
<line x1="462.62" y1="64.98" x2="464.42" y2="64.98" stroke="#1a2890" stroke-width="0.5" opacity="0.6"/>
<circle cx="463.52" cy="67.23" r="1.4" fill="#1a2890"/>
<line x1="466.49" y1="62.8" x2="466.49" y2="68.84" stroke="#1a2890" stroke-width="0.6" opacity="0.75"/>
<line x1="465.59" y1="62.8" x2="467.39" y2="62.8" stroke="#1a2890" stroke-width="0.5" opacity="0.6"/>
<circle cx="466.49" cy="65.82" r="1.4" fill="#1a2890"/>
<line x1="469.46" y1="63.47" x2="469.46" y2="68.89" stroke="#1a2890" stroke-width="0.6" opacity="0.75"/>
<line x1="468.56" y1="63.47" x2="470.36" y2="63.47" stroke="#1a2890" stroke-width="0.5" opacity="0.6"/>
<circle cx="469.46" cy="66.18" r="1.4" fill="#1a2890"/>
<line x1="472.43" y1="60.12" x2="472.43" y2="64.23" stroke="#1a2890" stroke-width="0.6" opacity="0.75"/>
<line x1="471.53" y1="60.12" x2="473.33" y2="60.12" stroke="#1a2890" stroke-width="0.5" opacity="0.6"/>
<circle cx="472.43" cy="62.18" r="1.4" fill="#1a2890"/>
<line x1="475.4" y1="56.9" x2="475.4" y2="62.68" stroke="#1a2890" stroke-width="0.6" opacity="0.75"/>
<line x1="474.5" y1="56.9" x2="476.3" y2="56.9" stroke="#1a2890" stroke-width="0.5" opacity="0.6"/>
<circle cx="475.4" cy="59.79" r="1.4" fill="#1a2890"/>
<line x1="478.37" y1="55.06" x2="478.37" y2="59.57" stroke="#1a2890" stroke-width="0.6" opacity="0.75"/>
<line x1="477.47" y1="55.06" x2="479.27" y2="55.06" stroke="#1a2890" stroke-width="0.5" opacity="0.6"/>
<circle cx="478.37" cy="57.32" r="1.4" fill="#1a2890"/>
<line x1="481.34" y1="51.75" x2="481.34" y2="54.94" stroke="#1a2890" stroke-width="0.6" opacity="0.75"/>
<line x1="480.44" y1="51.75" x2="482.24" y2="51.75" stroke="#1a2890" stroke-width="0.5" opacity="0.6"/>
<circle cx="481.34" cy="53.35" r="1.4" fill="#1a2890"/>
<path d="M431.3 105.4 L433.81 91.84 L436.78 90.62 L439.75 89.87 L442.73 86.86 L445.7 84.1 L448.67 81.71 L451.64 77.82 L454.61 75.11 L457.58 71.05 L460.55 66.47 L463.52 63.62 L466.49 60.28 L469.46 57.19 L472.43 54.63 L475.4 49.23 L478.37 44.51 L481.34 41.97" stroke="#d8262a" stroke-width="0.8" fill="none" opacity="0.85"/>
<line x1="433.81" y1="89.41" x2="433.81" y2="94.27" stroke="#d8262a" stroke-width="0.6" opacity="0.75"/>
<line x1="432.91" y1="89.41" x2="434.71" y2="89.41" stroke="#d8262a" stroke-width="0.5" opacity="0.6"/>
<circle cx="433.81" cy="91.84" r="1.4" fill="#d8262a"/>
<line x1="436.78" y1="86.38" x2="436.78" y2="94.86" stroke="#d8262a" stroke-width="0.6" opacity="0.75"/>
<line x1="435.88" y1="86.38" x2="437.68" y2="86.38" stroke="#d8262a" stroke-width="0.5" opacity="0.6"/>
<circle cx="436.78" cy="90.62" r="1.4" fill="#d8262a"/>
<line x1="439.75" y1="84.28" x2="439.75" y2="95.45" stroke="#d8262a" stroke-width="0.6" opacity="0.75"/>
<line x1="438.85" y1="84.28" x2="440.65" y2="84.28" stroke="#d8262a" stroke-width="0.5" opacity="0.6"/>
<circle cx="439.75" cy="89.87" r="1.4" fill="#d8262a"/>
<line x1="442.73" y1="82.54" x2="442.73" y2="91.18" stroke="#d8262a" stroke-width="0.6" opacity="0.75"/>
<line x1="441.83" y1="82.54" x2="443.62" y2="82.54" stroke="#d8262a" stroke-width="0.5" opacity="0.6"/>
<circle cx="442.73" cy="86.86" r="1.4" fill="#d8262a"/>
<line x1="445.7" y1="80.33" x2="445.7" y2="87.87" stroke="#d8262a" stroke-width="0.6" opacity="0.75"/>
<line x1="444.8" y1="80.33" x2="446.6" y2="80.33" stroke="#d8262a" stroke-width="0.5" opacity="0.6"/>
<circle cx="445.7" cy="84.1" r="1.4" fill="#d8262a"/>
<line x1="448.67" y1="78.67" x2="448.67" y2="84.74" stroke="#d8262a" stroke-width="0.6" opacity="0.75"/>
<line x1="447.77" y1="78.67" x2="449.57" y2="78.67" stroke="#d8262a" stroke-width="0.5" opacity="0.6"/>
<circle cx="448.67" cy="81.71" r="1.4" fill="#d8262a"/>
<line x1="451.64" y1="72.32" x2="451.64" y2="83.33" stroke="#d8262a" stroke-width="0.6" opacity="0.75"/>
<line x1="450.74" y1="72.32" x2="452.54" y2="72.32" stroke="#d8262a" stroke-width="0.5" opacity="0.6"/>
<circle cx="451.64" cy="77.82" r="1.4" fill="#d8262a"/>
<line x1="454.61" y1="72.31" x2="454.61" y2="77.91" stroke="#d8262a" stroke-width="0.6" opacity="0.75"/>
<line x1="453.71" y1="72.31" x2="455.51" y2="72.31" stroke="#d8262a" stroke-width="0.5" opacity="0.6"/>
<circle cx="454.61" cy="75.11" r="1.4" fill="#d8262a"/>
<line x1="457.58" y1="68.01" x2="457.58" y2="74.08" stroke="#d8262a" stroke-width="0.6" opacity="0.75"/>
<line x1="456.68" y1="68.01" x2="458.48" y2="68.01" stroke="#d8262a" stroke-width="0.5" opacity="0.6"/>
<circle cx="457.58" cy="71.05" r="1.4" fill="#d8262a"/>
<line x1="460.55" y1="63.31" x2="460.55" y2="69.63" stroke="#d8262a" stroke-width="0.6" opacity="0.75"/>
<line x1="459.65" y1="63.31" x2="461.45" y2="63.31" stroke="#d8262a" stroke-width="0.5" opacity="0.6"/>
<circle cx="460.55" cy="66.47" r="1.4" fill="#d8262a"/>
<line x1="463.52" y1="60.42" x2="463.52" y2="66.82" stroke="#d8262a" stroke-width="0.6" opacity="0.75"/>
<line x1="462.62" y1="60.42" x2="464.42" y2="60.42" stroke="#d8262a" stroke-width="0.5" opacity="0.6"/>
<circle cx="463.52" cy="63.62" r="1.4" fill="#d8262a"/>
<line x1="466.49" y1="55.94" x2="466.49" y2="64.63" stroke="#d8262a" stroke-width="0.6" opacity="0.75"/>
<line x1="465.59" y1="55.94" x2="467.39" y2="55.94" stroke="#d8262a" stroke-width="0.5" opacity="0.6"/>
<circle cx="466.49" cy="60.28" r="1.4" fill="#d8262a"/>
<line x1="469.46" y1="52.71" x2="469.46" y2="61.67" stroke="#d8262a" stroke-width="0.6" opacity="0.75"/>
<line x1="468.56" y1="52.71" x2="470.36" y2="52.71" stroke="#d8262a" stroke-width="0.5" opacity="0.6"/>
<circle cx="469.46" cy="57.19" r="1.4" fill="#d8262a"/>
<line x1="472.43" y1="50.98" x2="472.43" y2="58.28" stroke="#d8262a" stroke-width="0.6" opacity="0.75"/>
<line x1="471.53" y1="50.98" x2="473.33" y2="50.98" stroke="#d8262a" stroke-width="0.5" opacity="0.6"/>
<circle cx="472.43" cy="54.63" r="1.4" fill="#d8262a"/>
<line x1="475.4" y1="45.36" x2="475.4" y2="53.09" stroke="#d8262a" stroke-width="0.6" opacity="0.75"/>
<line x1="474.5" y1="45.36" x2="476.3" y2="45.36" stroke="#d8262a" stroke-width="0.5" opacity="0.6"/>
<circle cx="475.4" cy="49.23" r="1.4" fill="#d8262a"/>
<line x1="478.37" y1="41.78" x2="478.37" y2="47.24" stroke="#d8262a" stroke-width="0.6" opacity="0.75"/>
<line x1="477.47" y1="41.78" x2="479.27" y2="41.78" stroke="#d8262a" stroke-width="0.5" opacity="0.6"/>
<circle cx="478.37" cy="44.51" r="1.4" fill="#d8262a"/>
<line x1="481.34" y1="38.07" x2="481.34" y2="45.88" stroke="#d8262a" stroke-width="0.6" opacity="0.75"/>
<line x1="480.44" y1="38.07" x2="482.24" y2="38.07" stroke="#d8262a" stroke-width="0.5" opacity="0.6"/>
<circle cx="481.34" cy="41.97" r="1.4" fill="#d8262a"/>
<circle cx="431.3" cy="105.4" r="1.4" fill="#c82a3a"/>
<line x1="431.3" y1="32.4" x2="431.3" y2="111.2" stroke="#1c1c1c" stroke-width="1.1"/>
<line x1="430.8" y1="108.7" x2="482.2" y2="108.7" stroke="#1c1c1c" stroke-width="1.1"/>
<circle cx="489.8" cy="19.3" r="1" fill="#c3cedb"/>
<line x1="488" y1="19.3" x2="491.6" y2="19.3" stroke="#c3cedb" stroke-width="0.7"/>
<text x="494.5" y="17.3" font-size="6.4" text-anchor="start" font-weight="normal" fill="#2e2e2e" stroke="#2e2e2e" stroke-width="0.2" textLength="8.4" lengthAdjust="spacingAndGlyphs">No</text>
<text x="494.5" y="23.6" font-size="6.4" text-anchor="start" font-weight="normal" fill="#2e2e2e" stroke="#2e2e2e" stroke-width="0.2" textLength="17" lengthAdjust="spacingAndGlyphs">Yoda1</text>
<circle cx="489.8" cy="29.4" r="1.3" fill="#d8262a"/>
<line x1="487.9" y1="29.4" x2="491.7" y2="29.4" stroke="#d8262a" stroke-width="0.9"/>
<text x="494.5" y="31.7" font-size="6.6" text-anchor="start" font-weight="normal" fill="#2e2e2e" stroke="#2e2e2e" stroke-width="0.2">0</text>
<circle cx="489.8" cy="37.4" r="1.3" fill="#f6ad86"/>
<line x1="487.9" y1="37.4" x2="491.7" y2="37.4" stroke="#f6ad86" stroke-width="0.9"/>
<text x="494.5" y="39.7" font-size="6.6" text-anchor="start" font-weight="normal" fill="#2e2e2e" stroke="#2e2e2e" stroke-width="0.2">0.2</text>
<circle cx="489.8" cy="45.4" r="1.3" fill="#1a2890"/>
<line x1="487.9" y1="45.4" x2="491.7" y2="45.4" stroke="#1a2890" stroke-width="0.9"/>
<text x="494.5" y="47.7" font-size="6.6" text-anchor="start" font-weight="normal" fill="#2e2e2e" stroke="#2e2e2e" stroke-width="0.2">0.5</text>
<circle cx="489.8" cy="53.4" r="1.3" fill="#a5c2e4"/>
<line x1="487.9" y1="53.4" x2="491.7" y2="53.4" stroke="#a5c2e4" stroke-width="0.9"/>
<text x="494.5" y="55.7" font-size="6.6" text-anchor="start" font-weight="normal" fill="#2e2e2e" stroke="#2e2e2e" stroke-width="0.2">1</text>
<circle cx="489.8" cy="61.4" r="1.3" fill="#3b9c3b"/>
<line x1="487.9" y1="61.4" x2="491.7" y2="61.4" stroke="#3b9c3b" stroke-width="0.9"/>
<text x="494.5" y="63.7" font-size="6.6" text-anchor="start" font-weight="normal" fill="#2e2e2e" stroke="#2e2e2e" stroke-width="0.2">2</text>
<circle cx="489.8" cy="69.4" r="1.3" fill="#4c2a8e"/>
<line x1="487.9" y1="69.4" x2="491.7" y2="69.4" stroke="#4c2a8e" stroke-width="0.9"/>
<text x="494.5" y="71.7" font-size="6.6" text-anchor="start" font-weight="normal" fill="#2e2e2e" stroke="#2e2e2e" stroke-width="0.2">5</text>
<circle cx="489.8" cy="77.4" r="1.3" fill="#ef7a20"/>
<line x1="487.9" y1="77.4" x2="491.7" y2="77.4" stroke="#ef7a20" stroke-width="0.9"/>
<text x="494.5" y="79.7" font-size="6.6" text-anchor="start" font-weight="normal" fill="#2e2e2e" stroke="#2e2e2e" stroke-width="0.2">10</text>
<circle cx="489.8" cy="85.4" r="1.3" fill="#b8a2d6"/>
<line x1="487.9" y1="85.4" x2="491.7" y2="85.4" stroke="#b8a2d6" stroke-width="0.9"/>
<text x="494.5" y="87.7" font-size="6.6" text-anchor="start" font-weight="normal" fill="#2e2e2e" stroke="#2e2e2e" stroke-width="0.2">20</text>
<circle cx="489.8" cy="93.4" r="1.3" fill="#9e542a"/>
<line x1="487.9" y1="93.4" x2="491.7" y2="93.4" stroke="#9e542a" stroke-width="0.9"/>
<text x="494.5" y="95.7" font-size="6.6" text-anchor="start" font-weight="normal" fill="#2e2e2e" stroke="#2e2e2e" stroke-width="0.2">40</text>
<circle cx="489.8" cy="101.4" r="1.3" fill="#101010"/>
<line x1="487.9" y1="101.4" x2="491.7" y2="101.4" stroke="#101010" stroke-width="0.9"/>
<text x="494.5" y="103.7" font-size="6.6" text-anchor="start" font-weight="normal" fill="#2e2e2e" stroke="#2e2e2e" stroke-width="0.2">50</text>
<text x="494.5" y="112.9" font-size="6.4" text-anchor="start" font-weight="normal" fill="#2e2e2e" stroke="#2e2e2e" stroke-width="0.2" textLength="13" lengthAdjust="spacingAndGlyphs">Benz</text>
<text x="494.5" y="119.4" font-size="6.4" text-anchor="start" font-weight="normal" fill="#2e2e2e" stroke="#2e2e2e" stroke-width="0.2">(µM)</text>
<text x="6.43" y="203.9" font-size="11.5" font-weight="bold" fill="#0d0d0d">B</text>
<line x1="33.4" y1="283.8" x2="36.3" y2="283.8" stroke="#1c1c1c" stroke-width="1"/>
<line x1="33.4" y1="269.68" x2="36.3" y2="269.68" stroke="#1c1c1c" stroke-width="1"/>
<line x1="33.4" y1="255.55" x2="36.3" y2="255.55" stroke="#1c1c1c" stroke-width="1"/>
<line x1="33.4" y1="241.43" x2="36.3" y2="241.43" stroke="#1c1c1c" stroke-width="1"/>
<line x1="33.4" y1="227.3" x2="36.3" y2="227.3" stroke="#1c1c1c" stroke-width="1"/>
<text x="30.6" y="286.1" font-size="6.7" text-anchor="end" font-weight="normal" fill="#2e2e2e" stroke="#2e2e2e" stroke-width="0.2" textLength="9.3" lengthAdjust="spacingAndGlyphs">0.0</text>
<text x="30.6" y="257.85" font-size="6.7" text-anchor="end" font-weight="normal" fill="#2e2e2e" stroke="#2e2e2e" stroke-width="0.2" textLength="9.3" lengthAdjust="spacingAndGlyphs">0.5</text>
<text x="30.6" y="229.6" font-size="6.7" text-anchor="end" font-weight="normal" fill="#2e2e2e" stroke="#2e2e2e" stroke-width="0.2" textLength="9.3" lengthAdjust="spacingAndGlyphs">1.0</text>
<line x1="36.3" y1="283.8" x2="36.3" y2="286.3" stroke="#1c1c1c" stroke-width="1"/>
<text x="32" y="295.3" font-size="6.2" text-anchor="start" font-weight="normal" fill="#2e2e2e" stroke="#2e2e2e" stroke-width="0.2">10<tspan font-size="4.0" dy="-2.7">0</tspan></text>
<line x1="54.92" y1="283.8" x2="54.92" y2="286.3" stroke="#1c1c1c" stroke-width="1"/>
<text x="50.62" y="295.3" font-size="6.2" text-anchor="start" font-weight="normal" fill="#2e2e2e" stroke="#2e2e2e" stroke-width="0.2">10<tspan font-size="4.0" dy="-2.7">1</tspan></text>
<line x1="73.54" y1="283.8" x2="73.54" y2="286.3" stroke="#1c1c1c" stroke-width="1"/>
<text x="69.24" y="295.3" font-size="6.2" text-anchor="start" font-weight="normal" fill="#2e2e2e" stroke="#2e2e2e" stroke-width="0.2">10<tspan font-size="4.0" dy="-2.7">2</tspan></text>
<line x1="92.16" y1="283.8" x2="92.16" y2="286.3" stroke="#1c1c1c" stroke-width="1"/>
<text x="87.86" y="295.3" font-size="6.2" text-anchor="start" font-weight="normal" fill="#2e2e2e" stroke="#2e2e2e" stroke-width="0.2">10<tspan font-size="4.0" dy="-2.7">3</tspan></text>
<line x1="110.78" y1="283.8" x2="110.78" y2="286.3" stroke="#1c1c1c" stroke-width="1"/>
<text x="106.48" y="295.3" font-size="6.2" text-anchor="start" font-weight="normal" fill="#2e2e2e" stroke="#2e2e2e" stroke-width="0.2">10<tspan font-size="4.0" dy="-2.7">4</tspan></text>
<line x1="129.4" y1="283.8" x2="129.4" y2="286.3" stroke="#1c1c1c" stroke-width="1"/>
<text x="125.1" y="295.3" font-size="6.2" text-anchor="start" font-weight="normal" fill="#2e2e2e" stroke="#2e2e2e" stroke-width="0.2">10<tspan font-size="4.0" dy="-2.7">5</tspan></text>
<text x="69.8" y="307.1" font-size="8.5" text-anchor="start" font-weight="normal" fill="#2e2e2e" stroke="#2e2e2e" stroke-width="0.2" textLength="30.2" lengthAdjust="spacingAndGlyphs">Benz (nM)</text>
<text x="14.2" y="252.4" font-size="8.2" text-anchor="middle" font-weight="normal" fill="#2e2e2e" stroke="#2e2e2e" stroke-width="0.2" textLength="31.8" lengthAdjust="spacingAndGlyphs" transform="rotate(-90 14.2 252.4)">AnV F/F<tspan font-size="4.6" dy="1.6">max</tspan></text>
<path d="M36.3 227.3 L36.96 227.3 L37.63 227.3 L38.29 227.3 L38.96 227.3 L39.62 227.3 L40.28 227.3 L40.95 227.3 L41.61 227.3 L42.28 227.3 L42.94 227.3 L43.61 227.3 L44.27 227.3 L44.93 227.3 L45.6 227.3 L46.26 227.3 L46.93 227.3 L47.59 227.3 L48.25 227.3 L48.92 227.3 L49.58 227.3 L50.25 227.3 L50.91 227.3 L51.57 227.3 L52.24 227.3 L52.9 227.3 L53.57 227.3 L54.23 227.3 L54.9 227.3 L55.56 227.3 L56.22 227.3 L56.89 227.3 L57.55 227.3 L58.22 227.3 L58.88 227.3 L59.54 227.3 L60.21 227.3 L60.87 227.3 L61.54 227.3 L62.2 227.3 L62.86 227.3 L63.53 227.3 L64.19 227.3 L64.86 227.3 L65.52 227.31 L66.19 227.31 L66.85 227.31 L67.51 227.31 L68.18 227.31 L68.84 227.31 L69.51 227.31 L70.17 227.32 L70.83 227.32 L71.5 227.32 L72.16 227.33 L72.83 227.33 L73.49 227.34 L74.15 227.35 L74.82 227.35 L75.48 227.36 L76.15 227.37 L76.81 227.39 L77.48 227.4 L78.14 227.42 L78.8 227.44 L79.47 227.47 L80.13 227.5 L80.8 227.53 L81.46 227.58 L82.12 227.62 L82.79 227.68 L83.45 227.75 L84.12 227.83 L84.78 227.92 L85.44 228.03 L86.11 228.16 L86.77 228.31 L87.44 228.49 L88.1 228.7 L88.76 228.94 L89.43 229.22 L90.09 229.55 L90.76 229.93 L91.42 230.38 L92.09 230.89 L92.75 231.49 L93.41 232.17 L94.08 232.95 L94.74 233.85 L95.41 234.86 L96.07 236 L96.73 237.28 L97.4 238.7 L98.06 240.27 L98.73 241.98 L99.39 243.83 L100.05 245.82 L100.72 247.92 L101.38 250.11 L102.05 252.38 L102.71 254.68 L103.38 257 L104.04 259.3 L104.7 261.55 L105.37 263.72 L106.03 265.79 L106.7 267.75 L107.36 269.57 L108.02 271.24 L108.69 272.77 L109.35 274.16 L110.02 275.4 L110.68 276.51 L111.34 277.49 L112.01 278.35 L112.67 279.11 L113.34 279.77 L114 279.85 L114.67 279.85 L115.33 279.85 L115.99 279.85" stroke="#af1740" stroke-width="1.25" fill="none"/>
<circle cx="36.3" cy="227.3" r="1.5" fill="#af1740"/>
<circle cx="92.16" cy="232.95" r="1.5" fill="#af1740"/>
<line x1="92.16" y1="230.69" x2="92.16" y2="235.21" stroke="#af1740" stroke-width="0.8"/>
<line x1="90.86" y1="230.69" x2="93.46" y2="230.69" stroke="#af1740" stroke-width="0.8"/>
<circle cx="103.7" cy="263.46" r="1.5" fill="#af1740"/>
<line x1="103.7" y1="260.64" x2="103.7" y2="266.29" stroke="#af1740" stroke-width="0.8"/>
<line x1="102.4" y1="260.64" x2="105" y2="260.64" stroke="#af1740" stroke-width="0.8"/>
<circle cx="110.78" cy="279.56" r="1.5" fill="#af1740"/>
<line x1="110.78" y1="278.15" x2="110.78" y2="280.98" stroke="#af1740" stroke-width="0.8"/>
<line x1="109.48" y1="278.15" x2="112.08" y2="278.15" stroke="#af1740" stroke-width="0.8"/>
<circle cx="116.37" cy="279.85" r="1.5" fill="#af1740"/>
<line x1="116.37" y1="278.72" x2="116.37" y2="280.98" stroke="#af1740" stroke-width="0.8"/>
<line x1="115.07" y1="278.72" x2="117.67" y2="278.72" stroke="#af1740" stroke-width="0.8"/>
<line x1="36.3" y1="221.3" x2="36.3" y2="286.3" stroke="#1c1c1c" stroke-width="1.1"/>
<line x1="35.8" y1="283.8" x2="132.6" y2="283.8" stroke="#1c1c1c" stroke-width="1.1"/>
<text x="46.6" y="268.2" font-size="6.6" text-anchor="start" font-weight="normal" fill="#2e2e2e" stroke="#2e2e2e" stroke-width="0.2" textLength="38.3" lengthAdjust="spacingAndGlyphs">IC<tspan font-size="4" dy="1.6">50</tspan><tspan dy="-1.6"> = 3.4 µM</tspan></text>
<text x="140.33" y="205" font-size="11.5" font-weight="bold" fill="#0d0d0d">D</text>
<line x1="164.8" y1="281.4" x2="167.4" y2="281.4" stroke="#1c1c1c" stroke-width="1"/>
<text x="161.9" y="283.7" font-size="6.7" text-anchor="end" font-weight="normal" fill="#2e2e2e" stroke="#2e2e2e" stroke-width="0.2" textLength="9.2" lengthAdjust="spacingAndGlyphs">0.0</text>
<line x1="164.8" y1="252.45" x2="167.4" y2="252.45" stroke="#1c1c1c" stroke-width="1"/>
<text x="161.9" y="254.75" font-size="6.7" text-anchor="end" font-weight="normal" fill="#2e2e2e" stroke="#2e2e2e" stroke-width="0.2" textLength="9.2" lengthAdjust="spacingAndGlyphs">0.5</text>
<line x1="164.8" y1="223.5" x2="167.4" y2="223.5" stroke="#1c1c1c" stroke-width="1"/>
<text x="161.9" y="225.8" font-size="6.7" text-anchor="end" font-weight="normal" fill="#2e2e2e" stroke="#2e2e2e" stroke-width="0.2" textLength="9.2" lengthAdjust="spacingAndGlyphs">1.0</text>
<line x1="167.4" y1="284.2" x2="167.4" y2="286.6" stroke="#1c1c1c" stroke-width="1"/>
<text x="167.4" y="295.6" font-size="6.3" text-anchor="middle" font-weight="normal" fill="#2e2e2e" stroke="#2e2e2e" stroke-width="0.2">0</text>
<line x1="203.4" y1="284.2" x2="203.4" y2="286.6" stroke="#1c1c1c" stroke-width="1"/>
<text x="203.4" y="295.6" font-size="6.3" text-anchor="middle" font-weight="normal" fill="#2e2e2e" stroke="#2e2e2e" stroke-width="0.2" textLength="10.6" lengthAdjust="spacingAndGlyphs">120</text>
<line x1="239.4" y1="284.2" x2="239.4" y2="286.6" stroke="#1c1c1c" stroke-width="1"/>
<text x="239.4" y="295.6" font-size="6.3" text-anchor="middle" font-weight="normal" fill="#2e2e2e" stroke="#2e2e2e" stroke-width="0.2" textLength="10.6" lengthAdjust="spacingAndGlyphs">240</text>
<text x="206.1" y="307.2" font-size="8.6" text-anchor="start" font-weight="normal" fill="#2e2e2e" stroke="#2e2e2e" stroke-width="0.2" textLength="22.8" lengthAdjust="spacingAndGlyphs">Time (s)</text>
<text x="148.4" y="250.7" font-size="8" text-anchor="middle" font-weight="normal" fill="#2e2e2e" stroke="#2e2e2e" stroke-width="0.2" textLength="13.4" lengthAdjust="spacingAndGlyphs" transform="rotate(-90 148.4 250.7)">F/F<tspan font-size="5" dy="1.6">0</tspan></text>
<path d="M167.6 281.78 L168.4 281.74 L169.2 281.71 L170 281.68 L170.8 281.65 L171.6 281.62 L172.4 281.56 L173.2 281.48 L174 281.4 L174.8 281.32 L175.6 281.24 L176.4 281.09 L177.2 280.88 L178 280.66 L178.8 280.45 L179.6 280.23 L180.4 280.02 L181.2 279.8 L182 279.59 L182.8 279.38 L183.6 279.16 L184.4 278.95 L185.2 278.77 L186 278.59 L186.8 278.4 L187.6 278.22 L188.4 278.04 L189.2 277.85 L190 277.67 L190.8 277.49 L191.6 277.3 L192.4 277.12 L193.2 276.94 L194 276.73 L194.8 276.47 L195.6 276.21 L196.4 275.94 L197.2 275.68 L198 275.41 L198.8 275.15 L199.6 274.89 L200.4 274.62 L201.2 274.36 L202 274.09 L202.8 273.83 L203.6 273.56 L204.4 273.22 L205.2 272.88 L206 272.55 L206.8 272.21 L207.6 271.87 L208.4 271.54 L209.2 271.2 L210 270.86 L210.8 270.53 L211.6 270.19 L212.4 269.85 L213.2 269.42 L214 268.72 L214.8 268.02 L215.6 267.32 L216.4 266.62 L217.2 265.92 L218 265.22 L218.8 264.52 L219.6 263.82 L220.4 263.11 L221.2 262.41 L222 261.71 L222.8 260.96 L223.6 260.22 L224.4 259.47 L225.2 258.72 L226 257.98 L226.8 257.23 L227.6 256.49 L228.4 255.74 L229.2 254.99 L230 254.25 L230.8 253.5 L231.6 252.76 L232.4 252.01 L233.2 251.27 L234 250.54 L234.8 249.86 L235.6 249.17 L236.4 248.49 L237.2 247.8 L238 247.11 L238.8 246.43 L239.6 245.74 L240.4 245.06 L241.2 244.37 L242 243.69 L242.8 243 L243.6 242.31 L244.4 241.63 L245.2 240.94 L246 240.27 L246.8 239.62 L247.6 238.97 L248.4 238.32 L249.2 237.67 L250 237.02 L250.8 236.37 L251.6 235.72 L252.4 235.07 L253.2 234.42 L254 233.77 L254.8 233.12 L255.6 232.46 L256.4 231.81 L257.2 231.16 L258 230.41 L258.8 229.62 L259.6 228.83 L260.4 228.04 L261.2 227.25 L262 226.46 L262.8 225.68 L263.6 224.89 L264.4 224.1 L264.4 224.92 L263.6 225.9 L262.8 226.88 L262 227.86 L261.2 228.84 L260.4 229.82 L259.6 230.8 L258.8 231.78 L258 232.76 L257.2 233.68 L256.4 234.39 L255.6 235.1 L254.8 235.81 L254 236.53 L253.2 237.24 L252.4 237.95 L251.6 238.66 L250.8 239.37 L250 240.08 L249.2 240.8 L248.4 241.51 L247.6 242.22 L246.8 242.93 L246 243.64 L245.2 244.35 L244.4 245.06 L243.6 245.76 L242.8 246.47 L242 247.18 L241.2 247.88 L240.4 248.59 L239.6 249.29 L238.8 250 L238 250.71 L237.2 251.41 L236.4 252.12 L235.6 252.82 L234.8 253.53 L234 254.24 L233.2 254.97 L232.4 255.71 L231.6 256.46 L230.8 257.2 L230 257.95 L229.2 258.69 L228.4 259.44 L227.6 260.19 L226.8 260.93 L226 261.68 L225.2 262.42 L224.4 263.17 L223.6 263.92 L222.8 264.66 L222 265.41 L221.2 266.06 L220.4 266.7 L219.6 267.33 L218.8 267.97 L218 268.61 L217.2 269.25 L216.4 269.89 L215.6 270.53 L214.8 271.16 L214 271.8 L213.2 272.44 L212.4 272.83 L211.6 273.13 L210.8 273.43 L210 273.74 L209.2 274.04 L208.4 274.34 L207.6 274.65 L206.8 274.95 L206 275.25 L205.2 275.56 L204.4 275.86 L203.6 276.16 L202.8 276.39 L202 276.6 L201.2 276.82 L200.4 277.03 L199.6 277.25 L198.8 277.46 L198 277.67 L197.2 277.89 L196.4 278.1 L195.6 278.32 L194.8 278.53 L194 278.75 L193.2 278.9 L192.4 279.03 L191.6 279.17 L190.8 279.3 L190 279.43 L189.2 279.57 L188.4 279.7 L187.6 279.83 L186.8 279.97 L186 280.1 L185.2 280.23 L184.4 280.37 L183.6 280.52 L182.8 280.67 L182 280.83 L181.2 280.99 L180.4 281.14 L179.6 281.3 L178.8 281.45 L178 281.61 L177.2 281.77 L176.4 281.92 L175.6 282.02 L174.8 282.06 L174 282.1 L173.2 282.14 L172.4 282.18 L171.6 282.21 L170.8 282.22 L170 282.24 L169.2 282.26 L168.4 282.27 L167.6 282.29 Z" stroke="none" stroke-width="1" fill="#2d5f98"/>
<path d="M167.6 280.53 L168.4 280.43 L169.2 280.34 L170 280.24 L170.8 280.14 L171.6 280.05 L172.4 279.76 L173.2 279.28 L174 278.8 L174.8 278.32 L175.6 277.84 L176.4 277.3 L177.2 276.69 L178 276.09 L178.8 275.48 L179.6 274.88 L180.4 274.27 L181.2 273.67 L182 273.06 L182.8 272.46 L183.6 271.85 L184.4 271.32 L185.2 270.98 L186 270.65 L186.8 270.32 L187.6 269.98 L188.4 269.65 L189.2 269.32 L190 268.98 L190.8 268.65 L191.6 268.32 L192.4 267.98 L193.2 267.65 L194 267.28 L194.8 266.82 L195.6 266.36 L196.4 265.9 L197.2 265.44 L198 264.98 L198.8 264.51 L199.6 264.05 L200.4 263.59 L201.2 263.13 L202 262.67 L202.8 262.2 L203.6 261.74 L204.4 261.29 L205.2 260.83 L206 260.38 L206.8 259.92 L207.6 259.47 L208.4 259.01 L209.2 258.56 L210 258.11 L210.8 257.65 L211.6 257.2 L212.4 256.74 L213.2 256.26 L214 255.68 L214.8 255.11 L215.6 254.53 L216.4 253.96 L217.2 253.38 L218 252.8 L218.8 252.23 L219.6 251.65 L220.4 251.08 L221.2 250.5 L222 249.91 L222.8 249.2 L223.6 248.49 L224.4 247.78 L225.2 247.06 L226 246.35 L226.8 245.64 L227.6 244.93 L228.4 244.22 L229.2 243.5 L230 242.79 L230.8 242.08 L231.6 241.37 L232.4 240.66 L233.2 239.94 L234 239.29 L234.8 238.71 L235.6 238.14 L236.4 237.57 L237.2 237 L238 236.43 L238.8 235.86 L239.6 235.29 L240.4 234.71 L241.2 234.14 L242 233.57 L242.8 233 L243.6 232.43 L244.4 231.86 L245.2 231.29 L246 230.8 L246.8 230.39 L247.6 229.98 L248.4 229.58 L249.2 229.17 L250 228.76 L250.8 228.36 L251.6 227.95 L252.4 227.54 L253.2 227.14 L254 226.73 L254.8 226.32 L255.6 225.92 L256.4 225.51 L257.2 225.1 L258 224.81 L258.8 224.57 L259.6 224.32 L260.4 224.07 L261.2 223.82 L262 223.57 L262.8 223.33 L263.6 223.08 L264.4 222.83 L264.4 224.1 L263.6 224.89 L262.8 225.68 L262 226.46 L261.2 227.25 L260.4 228.04 L259.6 228.83 L258.8 229.62 L258 230.41 L257.2 231.16 L256.4 231.81 L255.6 232.46 L254.8 233.12 L254 233.77 L253.2 234.42 L252.4 235.07 L251.6 235.72 L250.8 236.37 L250 237.02 L249.2 237.67 L248.4 238.32 L247.6 238.97 L246.8 239.62 L246 240.27 L245.2 240.94 L244.4 241.63 L243.6 242.31 L242.8 243 L242 243.69 L241.2 244.37 L240.4 245.06 L239.6 245.74 L238.8 246.43 L238 247.11 L237.2 247.8 L236.4 248.49 L235.6 249.17 L234.8 249.86 L234 250.54 L233.2 251.27 L232.4 252.01 L231.6 252.76 L230.8 253.5 L230 254.25 L229.2 254.99 L228.4 255.74 L227.6 256.49 L226.8 257.23 L226 257.98 L225.2 258.72 L224.4 259.47 L223.6 260.22 L222.8 260.96 L222 261.71 L221.2 262.41 L220.4 263.11 L219.6 263.82 L218.8 264.52 L218 265.22 L217.2 265.92 L216.4 266.62 L215.6 267.32 L214.8 268.02 L214 268.72 L213.2 269.42 L212.4 269.85 L211.6 270.19 L210.8 270.53 L210 270.86 L209.2 271.2 L208.4 271.54 L207.6 271.87 L206.8 272.21 L206 272.55 L205.2 272.88 L204.4 273.22 L203.6 273.56 L202.8 273.83 L202 274.09 L201.2 274.36 L200.4 274.62 L199.6 274.89 L198.8 275.15 L198 275.41 L197.2 275.68 L196.4 275.94 L195.6 276.21 L194.8 276.47 L194 276.73 L193.2 276.94 L192.4 277.12 L191.6 277.3 L190.8 277.49 L190 277.67 L189.2 277.85 L188.4 278.04 L187.6 278.22 L186.8 278.4 L186 278.59 L185.2 278.77 L184.4 278.95 L183.6 279.16 L182.8 279.38 L182 279.59 L181.2 279.8 L180.4 280.02 L179.6 280.23 L178.8 280.45 L178 280.66 L177.2 280.88 L176.4 281.09 L175.6 281.24 L174.8 281.32 L174 281.4 L173.2 281.48 L172.4 281.56 L171.6 281.62 L170.8 281.65 L170 281.68 L169.2 281.71 L168.4 281.74 L167.6 281.78 Z" stroke="none" stroke-width="1" fill="#d23c4c"/>
<circle cx="168.03" cy="282.53" r="0.9" fill="#1a4a86"/>
<circle cx="167.48" cy="282.73" r="0.8" fill="#2a5f9a"/>
<circle cx="167.48" cy="281.19" r="0.85" fill="#c8283c"/>
<line x1="167.6" y1="280.4" x2="167.6" y2="282.6" stroke="#f0a0a8" stroke-width="0.6"/>
<circle cx="169.26" cy="281.95" r="0.9" fill="#3a70aa"/>
<circle cx="169.18" cy="282.45" r="0.8" fill="#2a5f9a"/>
<circle cx="168.55" cy="280.45" r="0.85" fill="#d4384a"/>
<line x1="169.2" y1="279.79" x2="169.2" y2="281.99" stroke="#f0a0a8" stroke-width="0.6"/>
<circle cx="170.48" cy="282" r="0.9" fill="#1a4a86"/>
<circle cx="170.26" cy="281.48" r="0.85" fill="#f3a2aa"/>
<line x1="170.8" y1="279.4" x2="170.8" y2="281.6" stroke="#f0a0a8" stroke-width="0.6"/>
<circle cx="172.88" cy="281.92" r="0.9" fill="#3a70aa"/>
<circle cx="172.59" cy="282.18" r="0.8" fill="#2a5f9a"/>
<circle cx="172.49" cy="280.54" r="0.85" fill="#f3a2aa"/>
<circle cx="173.72" cy="281.44" r="0.9" fill="#3a70aa"/>
<circle cx="174.7" cy="282.83" r="0.8" fill="#2a5f9a"/>
<circle cx="173.95" cy="280.68" r="0.85" fill="#d4384a"/>
<line x1="174" y1="278.6" x2="174" y2="280.8" stroke="#f0a0a8" stroke-width="0.6"/>
<circle cx="175.69" cy="280.4" r="0.9" fill="#1a4a86"/>
<circle cx="176" cy="282.73" r="0.8" fill="#2a5f9a"/>
<circle cx="175.69" cy="278.05" r="0.85" fill="#e9707c"/>
<circle cx="175.18" cy="279.98" r="0.85" fill="#d4384a"/>
<circle cx="177.14" cy="281.32" r="0.9" fill="#1a4a86"/>
<circle cx="177.23" cy="277.93" r="0.85" fill="#d4384a"/>
<circle cx="177.51" cy="279.49" r="0.85" fill="#c0223a"/>
<circle cx="178.68" cy="280.72" r="0.9" fill="#1e5390"/>
<circle cx="179.18" cy="275.59" r="0.85" fill="#e9707c"/>
<circle cx="178.29" cy="277.3" r="0.85" fill="#c0223a"/>
<circle cx="178.83" cy="279.31" r="0.85" fill="#f3a2aa"/>
<circle cx="180.72" cy="280.31" r="0.9" fill="#1e5390"/>
<circle cx="180.42" cy="281.9" r="0.8" fill="#2a5f9a"/>
<circle cx="180.93" cy="275.36" r="0.85" fill="#f3a2aa"/>
<circle cx="180.42" cy="277.04" r="0.85" fill="#e9707c"/>
<circle cx="180.88" cy="278.93" r="0.85" fill="#d4384a"/>
<circle cx="181.79" cy="279.7" r="0.9" fill="#1a4a86"/>
<circle cx="181.55" cy="273.97" r="0.85" fill="#d4384a"/>
<circle cx="181.96" cy="275.86" r="0.85" fill="#d4384a"/>
<circle cx="182.34" cy="277.95" r="0.85" fill="#c0223a"/>
<circle cx="181.96" cy="279.26" r="0.85" fill="#c0223a"/>
<line x1="182" y1="272.14" x2="182" y2="274.34" stroke="#f0a0a8" stroke-width="0.6"/>
<circle cx="184.16" cy="280.33" r="0.9" fill="#1e5390"/>
<circle cx="183.35" cy="272.77" r="0.85" fill="#c8283c"/>
<circle cx="183.88" cy="275.04" r="0.85" fill="#c0223a"/>
<circle cx="184.03" cy="276.68" r="0.85" fill="#f3a2aa"/>
<circle cx="183.76" cy="278.58" r="0.85" fill="#c0223a"/>
<circle cx="184.62" cy="279.24" r="0.9" fill="#1e5390"/>
<circle cx="185.3" cy="272.21" r="0.85" fill="#f3a2aa"/>
<circle cx="184.47" cy="273.8" r="0.85" fill="#c0223a"/>
<circle cx="185.08" cy="274.91" r="0.85" fill="#e9707c"/>
<circle cx="185.08" cy="276.81" r="0.85" fill="#c0223a"/>
<circle cx="185.31" cy="278.41" r="0.85" fill="#dd5260"/>
<line x1="185.2" y1="270.18" x2="185.2" y2="272.38" stroke="#f0a0a8" stroke-width="0.6"/>
<circle cx="186.58" cy="279.25" r="0.9" fill="#1e5390"/>
<circle cx="187.11" cy="270.53" r="0.85" fill="#c8283c"/>
<circle cx="186.83" cy="272.27" r="0.85" fill="#f3a2aa"/>
<circle cx="186.88" cy="274.87" r="0.85" fill="#f3a2aa"/>
<circle cx="186.91" cy="275.2" r="0.85" fill="#dd5260"/>
<circle cx="186.31" cy="278.13" r="0.85" fill="#e9707c"/>
<circle cx="188.88" cy="278.19" r="0.9" fill="#3a70aa"/>
<circle cx="188.51" cy="270.3" r="0.85" fill="#e9707c"/>
<circle cx="188.05" cy="272.53" r="0.85" fill="#c8283c"/>
<circle cx="187.98" cy="274.69" r="0.85" fill="#c0223a"/>
<circle cx="188.46" cy="275.63" r="0.85" fill="#f3a2aa"/>
<circle cx="188.29" cy="277.04" r="0.85" fill="#d4384a"/>
<circle cx="190.08" cy="278.41" r="0.9" fill="#1e5390"/>
<circle cx="189.96" cy="270.09" r="0.85" fill="#c0223a"/>
<circle cx="190.09" cy="271.41" r="0.85" fill="#c8283c"/>
<circle cx="190.04" cy="273.5" r="0.85" fill="#f3a2aa"/>
<circle cx="190.15" cy="274.7" r="0.85" fill="#f3a2aa"/>
<circle cx="190.06" cy="276.71" r="0.85" fill="#d4384a"/>
<line x1="190" y1="268.59" x2="190" y2="270.79" stroke="#f0a0a8" stroke-width="0.6"/>
<circle cx="191.55" cy="277.5" r="0.9" fill="#1a4a86"/>
<circle cx="192.13" cy="269.25" r="0.85" fill="#e9707c"/>
<circle cx="191.97" cy="270.93" r="0.85" fill="#dd5260"/>
<circle cx="191.47" cy="272.77" r="0.85" fill="#e9707c"/>
<circle cx="191.24" cy="274.93" r="0.85" fill="#dd5260"/>
<circle cx="191.07" cy="276.59" r="0.85" fill="#d4384a"/>
<circle cx="193.07" cy="277.88" r="0.9" fill="#3a70aa"/>
<circle cx="193.24" cy="268.27" r="0.85" fill="#c0223a"/>
<circle cx="193.5" cy="270.52" r="0.85" fill="#c0223a"/>
<circle cx="193.67" cy="272.01" r="0.85" fill="#c0223a"/>
<circle cx="193.14" cy="273.06" r="0.85" fill="#d4384a"/>
<circle cx="193.24" cy="274.58" r="0.85" fill="#dd5260"/>
<circle cx="192.89" cy="276.32" r="0.85" fill="#d4384a"/>
<line x1="193.2" y1="267.54" x2="193.2" y2="269.74" stroke="#f0a0a8" stroke-width="0.6"/>
<circle cx="194.96" cy="277.56" r="0.9" fill="#1e5390"/>
<circle cx="194.57" cy="279.12" r="0.8" fill="#2a5f9a"/>
<circle cx="195.19" cy="267.66" r="0.85" fill="#c0223a"/>
<circle cx="194.66" cy="268.76" r="0.85" fill="#e9707c"/>
<circle cx="195.23" cy="271.17" r="0.85" fill="#e9707c"/>
<circle cx="194.71" cy="272.29" r="0.85" fill="#c8283c"/>
<circle cx="195.42" cy="273.85" r="0.85" fill="#d4384a"/>
<circle cx="194.52" cy="275.69" r="0.85" fill="#d4384a"/>
<line x1="194.8" y1="266.17" x2="194.8" y2="268.37" stroke="#f0a0a8" stroke-width="0.6"/>
<circle cx="196.44" cy="277.11" r="0.9" fill="#1e5390"/>
<circle cx="195.93" cy="268.07" r="0.85" fill="#d4384a"/>
<circle cx="196.82" cy="268.2" r="0.85" fill="#dd5260"/>
<circle cx="196.17" cy="270.54" r="0.85" fill="#dd5260"/>
<circle cx="196.35" cy="271.78" r="0.85" fill="#d4384a"/>
<circle cx="196.44" cy="273.34" r="0.85" fill="#c0223a"/>
<circle cx="196.66" cy="274.71" r="0.85" fill="#d4384a"/>
<line x1="196.4" y1="265.74" x2="196.4" y2="267.94" stroke="#f0a0a8" stroke-width="0.6"/>
<circle cx="198.69" cy="276.58" r="0.9" fill="#1e5390"/>
<circle cx="198.11" cy="266.42" r="0.85" fill="#d4384a"/>
<circle cx="198.2" cy="267.2" r="0.85" fill="#c8283c"/>
<circle cx="198.06" cy="268.92" r="0.85" fill="#c0223a"/>
<circle cx="197.8" cy="271.51" r="0.85" fill="#f3a2aa"/>
<circle cx="197.65" cy="272.81" r="0.85" fill="#f3a2aa"/>
<circle cx="197.5" cy="274.96" r="0.85" fill="#f3a2aa"/>
<circle cx="199.7" cy="276.21" r="0.9" fill="#3a70aa"/>
<circle cx="199.19" cy="277.26" r="0.8" fill="#2a5f9a"/>
<circle cx="199.48" cy="264.77" r="0.85" fill="#c8283c"/>
<circle cx="199.55" cy="266.9" r="0.85" fill="#f3a2aa"/>
<circle cx="200.05" cy="267.38" r="0.85" fill="#e9707c"/>
<circle cx="199.83" cy="268.92" r="0.85" fill="#d4384a"/>
<circle cx="200.16" cy="271.32" r="0.85" fill="#c0223a"/>
<circle cx="199.48" cy="271.8" r="0.85" fill="#f3a2aa"/>
<circle cx="199.18" cy="273.65" r="0.85" fill="#d4384a"/>
<circle cx="202.03" cy="275.42" r="0.9" fill="#3a70aa"/>
<circle cx="200.94" cy="262.89" r="0.85" fill="#dd5260"/>
<circle cx="201.27" cy="265.9" r="0.85" fill="#c0223a"/>
<circle cx="201.06" cy="266.87" r="0.85" fill="#dd5260"/>
<circle cx="201.63" cy="268.84" r="0.85" fill="#c8283c"/>
<circle cx="201.49" cy="270.76" r="0.85" fill="#c8283c"/>
<circle cx="201.42" cy="271.6" r="0.85" fill="#f3a2aa"/>
<circle cx="201.38" cy="273.56" r="0.85" fill="#e9707c"/>
<line x1="201.2" y1="262.59" x2="201.2" y2="264.79" stroke="#f0a0a8" stroke-width="0.6"/>
<circle cx="202.64" cy="275.15" r="0.9" fill="#3a70aa"/>
<circle cx="202.69" cy="262.99" r="0.85" fill="#c8283c"/>
<circle cx="202.67" cy="265.11" r="0.85" fill="#e9707c"/>
<circle cx="202.95" cy="266.8" r="0.85" fill="#f3a2aa"/>
<circle cx="202.96" cy="267.83" r="0.85" fill="#dd5260"/>
<circle cx="202.84" cy="269.52" r="0.85" fill="#e9707c"/>
<circle cx="203.52" cy="271.3" r="0.85" fill="#dd5260"/>
<circle cx="202.58" cy="272.1" r="0.85" fill="#d4384a"/>
<circle cx="204.83" cy="274.48" r="0.9" fill="#1a4a86"/>
<circle cx="204.63" cy="262.05" r="0.85" fill="#e9707c"/>
<circle cx="204.36" cy="263.77" r="0.85" fill="#f3a2aa"/>
<circle cx="204.9" cy="265.34" r="0.85" fill="#dd5260"/>
<circle cx="204.59" cy="267.07" r="0.85" fill="#f3a2aa"/>
<circle cx="204.73" cy="269.09" r="0.85" fill="#e9707c"/>
<circle cx="204.49" cy="271.09" r="0.85" fill="#e9707c"/>
<circle cx="204.33" cy="272.63" r="0.85" fill="#dd5260"/>
<circle cx="205.85" cy="274.21" r="0.9" fill="#3a70aa"/>
<circle cx="205.97" cy="275.49" r="0.8" fill="#2a5f9a"/>
<circle cx="205.8" cy="261.67" r="0.85" fill="#e9707c"/>
<circle cx="206.33" cy="263.06" r="0.85" fill="#f3a2aa"/>
<circle cx="205.97" cy="264.61" r="0.85" fill="#c0223a"/>
<circle cx="206.29" cy="266.48" r="0.85" fill="#c8283c"/>
<circle cx="205.86" cy="266.96" r="0.85" fill="#e9707c"/>
<circle cx="206.18" cy="268.28" r="0.85" fill="#d4384a"/>
<circle cx="206.49" cy="270.12" r="0.85" fill="#d4384a"/>
<circle cx="206.44" cy="272.07" r="0.85" fill="#c8283c"/>
<line x1="206" y1="259.3" x2="206" y2="261.5" stroke="#f0a0a8" stroke-width="0.6"/>
<circle cx="207.59" cy="273.36" r="0.9" fill="#1a4a86"/>
<circle cx="207.59" cy="260.22" r="0.85" fill="#f3a2aa"/>
<circle cx="207.64" cy="261.93" r="0.85" fill="#dd5260"/>
<circle cx="207.46" cy="263.64" r="0.85" fill="#f3a2aa"/>
<circle cx="207.25" cy="265" r="0.85" fill="#c0223a"/>
<circle cx="207.22" cy="266.71" r="0.85" fill="#c0223a"/>
<circle cx="207.23" cy="267.98" r="0.85" fill="#c0223a"/>
<circle cx="207.42" cy="269.59" r="0.85" fill="#c0223a"/>
<circle cx="207.78" cy="270.55" r="0.85" fill="#c0223a"/>
<circle cx="208.68" cy="272.78" r="0.9" fill="#1e5390"/>
<circle cx="208.45" cy="274.52" r="0.8" fill="#2a5f9a"/>
<circle cx="209.59" cy="259.14" r="0.85" fill="#e9707c"/>
<circle cx="209.51" cy="261.05" r="0.85" fill="#dd5260"/>
<circle cx="209.01" cy="262.65" r="0.85" fill="#d4384a"/>
<circle cx="208.88" cy="264.58" r="0.85" fill="#c0223a"/>
<circle cx="209.1" cy="265.68" r="0.85" fill="#f3a2aa"/>
<circle cx="209.79" cy="266.47" r="0.85" fill="#c8283c"/>
<circle cx="208.95" cy="269.21" r="0.85" fill="#c0223a"/>
<circle cx="209.21" cy="270" r="0.85" fill="#dd5260"/>
<line x1="209.2" y1="258.51" x2="209.2" y2="260.71" stroke="#f0a0a8" stroke-width="0.6"/>
<circle cx="210.64" cy="272.2" r="0.9" fill="#3a70aa"/>
<circle cx="210.37" cy="258.97" r="0.85" fill="#c0223a"/>
<circle cx="210.91" cy="260.07" r="0.85" fill="#c0223a"/>
<circle cx="210.36" cy="261.94" r="0.85" fill="#d4384a"/>
<circle cx="210.82" cy="263.3" r="0.85" fill="#c0223a"/>
<circle cx="210.35" cy="264.75" r="0.85" fill="#f3a2aa"/>
<circle cx="210.89" cy="266.63" r="0.85" fill="#dd5260"/>
<circle cx="210.81" cy="268.09" r="0.85" fill="#f3a2aa"/>
<circle cx="211" cy="269.18" r="0.85" fill="#d4384a"/>
<circle cx="212.62" cy="271.69" r="0.9" fill="#3a70aa"/>
<circle cx="212.47" cy="273.14" r="0.8" fill="#2a5f9a"/>
<circle cx="212.7" cy="257.44" r="0.85" fill="#c8283c"/>
<circle cx="212.32" cy="259.79" r="0.85" fill="#dd5260"/>
<circle cx="211.91" cy="260.89" r="0.85" fill="#d4384a"/>
<circle cx="212.54" cy="262.42" r="0.85" fill="#d4384a"/>
<circle cx="212.46" cy="263.97" r="0.85" fill="#d4384a"/>
<circle cx="212.61" cy="265.52" r="0.85" fill="#c0223a"/>
<circle cx="212.57" cy="267.44" r="0.85" fill="#c0223a"/>
<circle cx="212.32" cy="268.95" r="0.85" fill="#e9707c"/>
<circle cx="213.67" cy="270.97" r="0.9" fill="#1e5390"/>
<circle cx="213.4" cy="272.11" r="0.8" fill="#2a5f9a"/>
<circle cx="214.06" cy="256.98" r="0.85" fill="#c8283c"/>
<circle cx="214.15" cy="258.49" r="0.85" fill="#d4384a"/>
<circle cx="214.06" cy="259.06" r="0.85" fill="#f3a2aa"/>
<circle cx="214.02" cy="261.65" r="0.85" fill="#f3a2aa"/>
<circle cx="214.45" cy="262.57" r="0.85" fill="#f3a2aa"/>
<circle cx="214.08" cy="264.62" r="0.85" fill="#f3a2aa"/>
<circle cx="214.23" cy="266.66" r="0.85" fill="#c8283c"/>
<circle cx="213.74" cy="268" r="0.85" fill="#e9707c"/>
<circle cx="215.21" cy="267.79" r="0.9" fill="#3a70aa"/>
<circle cx="215.55" cy="269.69" r="0.9" fill="#1a4a86"/>
<circle cx="215.29" cy="271.11" r="0.8" fill="#2a5f9a"/>
<circle cx="215.44" cy="255.37" r="0.85" fill="#d4384a"/>
<circle cx="214.96" cy="256.78" r="0.85" fill="#c8283c"/>
<circle cx="215.59" cy="259.29" r="0.85" fill="#f3a2aa"/>
<circle cx="215.91" cy="260.84" r="0.85" fill="#e9707c"/>
<circle cx="216.22" cy="261.69" r="0.85" fill="#dd5260"/>
<circle cx="215.7" cy="263.7" r="0.85" fill="#d4384a"/>
<circle cx="215.61" cy="264.67" r="0.85" fill="#c0223a"/>
<circle cx="215.56" cy="266.44" r="0.85" fill="#e9707c"/>
<line x1="215.6" y1="253.96" x2="215.6" y2="256.16" stroke="#f0a0a8" stroke-width="0.6"/>
<circle cx="216.86" cy="266.59" r="0.9" fill="#3a70aa"/>
<circle cx="217.68" cy="268.37" r="0.9" fill="#3a70aa"/>
<circle cx="217.75" cy="269.68" r="0.8" fill="#2a5f9a"/>
<circle cx="216.95" cy="253.64" r="0.85" fill="#f3a2aa"/>
<circle cx="217.24" cy="255.95" r="0.85" fill="#e9707c"/>
<circle cx="217.07" cy="257.63" r="0.85" fill="#e9707c"/>
<circle cx="217.19" cy="258.72" r="0.85" fill="#c8283c"/>
<circle cx="217.5" cy="259.97" r="0.85" fill="#c8283c"/>
<circle cx="217.14" cy="260.98" r="0.85" fill="#e9707c"/>
<circle cx="216.94" cy="263.44" r="0.85" fill="#d4384a"/>
<circle cx="217.78" cy="265" r="0.85" fill="#c8283c"/>
<line x1="217.2" y1="252.62" x2="217.2" y2="254.82" stroke="#f0a0a8" stroke-width="0.6"/>
<circle cx="219.07" cy="265.16" r="0.9" fill="#1a4a86"/>
<circle cx="218.45" cy="267.34" r="0.9" fill="#1a4a86"/>
<circle cx="218.82" cy="268.54" r="0.8" fill="#2a5f9a"/>
<circle cx="219.47" cy="253.16" r="0.85" fill="#d4384a"/>
<circle cx="218.83" cy="254.29" r="0.85" fill="#dd5260"/>
<circle cx="218.45" cy="255.96" r="0.85" fill="#dd5260"/>
<circle cx="219.06" cy="257.38" r="0.85" fill="#d4384a"/>
<circle cx="218.83" cy="258.84" r="0.85" fill="#c0223a"/>
<circle cx="219.42" cy="260.36" r="0.85" fill="#f3a2aa"/>
<circle cx="219.25" cy="262.85" r="0.85" fill="#f3a2aa"/>
<circle cx="219.09" cy="263.7" r="0.85" fill="#c0223a"/>
<line x1="218.8" y1="251.37" x2="218.8" y2="253.57" stroke="#f0a0a8" stroke-width="0.6"/>
<circle cx="220.32" cy="264.13" r="0.9" fill="#1e5390"/>
<circle cx="220.92" cy="265.32" r="0.9" fill="#3a70aa"/>
<circle cx="220.73" cy="267.21" r="0.8" fill="#2a5f9a"/>
<circle cx="219.84" cy="251.06" r="0.85" fill="#f3a2aa"/>
<circle cx="220.86" cy="252.68" r="0.85" fill="#e9707c"/>
<circle cx="220.46" cy="254.96" r="0.85" fill="#d4384a"/>
<circle cx="220" cy="255.79" r="0.85" fill="#c0223a"/>
<circle cx="220.31" cy="257.7" r="0.85" fill="#c8283c"/>
<circle cx="219.92" cy="260.1" r="0.85" fill="#f3a2aa"/>
<circle cx="220.55" cy="261.45" r="0.85" fill="#c8283c"/>
<circle cx="220.3" cy="261.79" r="0.85" fill="#e9707c"/>
<circle cx="222.12" cy="262.98" r="0.9" fill="#1e5390"/>
<circle cx="221.99" cy="264.69" r="0.9" fill="#3a70aa"/>
<circle cx="222.28" cy="265.84" r="0.8" fill="#2a5f9a"/>
<circle cx="222.14" cy="250.52" r="0.85" fill="#f3a2aa"/>
<circle cx="221.58" cy="252.84" r="0.85" fill="#c8283c"/>
<circle cx="221.73" cy="253.76" r="0.85" fill="#dd5260"/>
<circle cx="221.95" cy="256.16" r="0.85" fill="#e9707c"/>
<circle cx="222.04" cy="257.56" r="0.85" fill="#dd5260"/>
<circle cx="222.29" cy="259.28" r="0.85" fill="#d4384a"/>
<circle cx="221.87" cy="261.59" r="0.85" fill="#d4384a"/>
<line x1="222" y1="249.08" x2="222" y2="251.28" stroke="#f0a0a8" stroke-width="0.6"/>
<circle cx="223.36" cy="261.25" r="0.9" fill="#1a4a86"/>
<circle cx="224.09" cy="262.84" r="0.9" fill="#3a70aa"/>
<circle cx="223.37" cy="264.48" r="0.8" fill="#2a5f9a"/>
<circle cx="223.55" cy="249.02" r="0.85" fill="#c0223a"/>
<circle cx="223.86" cy="250.18" r="0.85" fill="#c8283c"/>
<circle cx="223.85" cy="251.92" r="0.85" fill="#e9707c"/>
<circle cx="223.42" cy="254.64" r="0.85" fill="#dd5260"/>
<circle cx="223.67" cy="256.06" r="0.85" fill="#f3a2aa"/>
<circle cx="223.21" cy="257.61" r="0.85" fill="#e9707c"/>
<circle cx="223.23" cy="259.77" r="0.85" fill="#dd5260"/>
<line x1="223.6" y1="247.63" x2="223.6" y2="249.83" stroke="#f0a0a8" stroke-width="0.6"/>
<circle cx="225.07" cy="260.05" r="0.9" fill="#1e5390"/>
<circle cx="225.51" cy="261.82" r="0.9" fill="#3a70aa"/>
<circle cx="225.09" cy="247.27" r="0.85" fill="#dd5260"/>
<circle cx="225.25" cy="249.02" r="0.85" fill="#e9707c"/>
<circle cx="225.02" cy="251.03" r="0.85" fill="#f3a2aa"/>
<circle cx="225.22" cy="252.66" r="0.85" fill="#dd5260"/>
<circle cx="225.02" cy="254.62" r="0.85" fill="#c0223a"/>
<circle cx="225.17" cy="255.56" r="0.85" fill="#d4384a"/>
<circle cx="225" cy="258.21" r="0.85" fill="#e9707c"/>
<circle cx="226.89" cy="257.86" r="0.9" fill="#3a70aa"/>
<circle cx="227.41" cy="260" r="0.9" fill="#1e5390"/>
<circle cx="226.79" cy="261.52" r="0.8" fill="#2a5f9a"/>
<circle cx="226.79" cy="246.67" r="0.85" fill="#e9707c"/>
<circle cx="226.48" cy="248.75" r="0.85" fill="#f3a2aa"/>
<circle cx="226.9" cy="249.85" r="0.85" fill="#f3a2aa"/>
<circle cx="226.26" cy="251.67" r="0.85" fill="#e9707c"/>
<circle cx="227.27" cy="253.2" r="0.85" fill="#f3a2aa"/>
<circle cx="225.96" cy="254.86" r="0.85" fill="#f3a2aa"/>
<circle cx="226.61" cy="256.28" r="0.85" fill="#e9707c"/>
<circle cx="228.55" cy="256.82" r="0.9" fill="#1e5390"/>
<circle cx="228.18" cy="257.72" r="0.9" fill="#1a4a86"/>
<circle cx="228.88" cy="259.66" r="0.8" fill="#2a5f9a"/>
<circle cx="228.66" cy="245.72" r="0.85" fill="#c0223a"/>
<circle cx="228.35" cy="247.13" r="0.85" fill="#e9707c"/>
<circle cx="228.25" cy="248.48" r="0.85" fill="#d4384a"/>
<circle cx="228.42" cy="250.21" r="0.85" fill="#c8283c"/>
<circle cx="228.39" cy="251.66" r="0.85" fill="#e9707c"/>
<circle cx="227.38" cy="253.24" r="0.85" fill="#e9707c"/>
<circle cx="228.71" cy="255.06" r="0.85" fill="#d4384a"/>
<line x1="228.4" y1="243.79" x2="228.4" y2="245.99" stroke="#f0a0a8" stroke-width="0.6"/>
<circle cx="229.64" cy="255.15" r="0.9" fill="#1e5390"/>
<circle cx="229.58" cy="256.84" r="0.9" fill="#3a70aa"/>
<circle cx="229.82" cy="258.1" r="0.8" fill="#2a5f9a"/>
<circle cx="230.22" cy="243.53" r="0.85" fill="#f3a2aa"/>
<circle cx="229.69" cy="244.39" r="0.85" fill="#c8283c"/>
<circle cx="230.06" cy="246.93" r="0.85" fill="#d4384a"/>
<circle cx="229.89" cy="247.94" r="0.85" fill="#e9707c"/>
<circle cx="230.39" cy="249.73" r="0.85" fill="#e9707c"/>
<circle cx="230.13" cy="252.21" r="0.85" fill="#d4384a"/>
<circle cx="230.11" cy="253.78" r="0.85" fill="#c0223a"/>
<line x1="230" y1="242.5" x2="230" y2="244.7" stroke="#f0a0a8" stroke-width="0.6"/>
<circle cx="231.44" cy="254.1" r="0.9" fill="#1a4a86"/>
<circle cx="231.07" cy="255.78" r="0.9" fill="#1e5390"/>
<circle cx="231.66" cy="241.42" r="0.85" fill="#f3a2aa"/>
<circle cx="232.26" cy="243.81" r="0.85" fill="#c8283c"/>
<circle cx="231.61" cy="245.66" r="0.85" fill="#e9707c"/>
<circle cx="231.79" cy="246.77" r="0.85" fill="#dd5260"/>
<circle cx="232.52" cy="248.48" r="0.85" fill="#dd5260"/>
<circle cx="231.39" cy="250.08" r="0.85" fill="#e9707c"/>
<circle cx="231.78" cy="252.48" r="0.85" fill="#c0223a"/>
<line x1="231.6" y1="240.97" x2="231.6" y2="243.17" stroke="#f0a0a8" stroke-width="0.6"/>
<circle cx="232.99" cy="252.18" r="0.9" fill="#3a70aa"/>
<circle cx="233.39" cy="254.27" r="0.9" fill="#1e5390"/>
<circle cx="233.37" cy="255.25" r="0.8" fill="#2a5f9a"/>
<circle cx="233.5" cy="240.89" r="0.85" fill="#f3a2aa"/>
<circle cx="232.98" cy="242.43" r="0.85" fill="#c8283c"/>
<circle cx="233.47" cy="244.19" r="0.85" fill="#c0223a"/>
<circle cx="233.39" cy="245.03" r="0.85" fill="#c8283c"/>
<circle cx="233.89" cy="246.98" r="0.85" fill="#c0223a"/>
<circle cx="232.5" cy="249.59" r="0.85" fill="#f3a2aa"/>
<circle cx="232.81" cy="250.62" r="0.85" fill="#f3a2aa"/>
<line x1="233.2" y1="239.62" x2="233.2" y2="241.82" stroke="#f0a0a8" stroke-width="0.6"/>
<circle cx="234.48" cy="251.12" r="0.9" fill="#1a4a86"/>
<circle cx="235.18" cy="251.74" r="0.9" fill="#3a70aa"/>
<circle cx="234.75" cy="239.04" r="0.85" fill="#d4384a"/>
<circle cx="235.19" cy="240.52" r="0.85" fill="#dd5260"/>
<circle cx="235.25" cy="242.88" r="0.85" fill="#e9707c"/>
<circle cx="234.1" cy="243.77" r="0.85" fill="#dd5260"/>
<circle cx="235.16" cy="246.36" r="0.85" fill="#c8283c"/>
<circle cx="234.38" cy="247.92" r="0.85" fill="#dd5260"/>
<circle cx="234.98" cy="249.23" r="0.85" fill="#f3a2aa"/>
<line x1="234.8" y1="238.06" x2="234.8" y2="240.26" stroke="#f0a0a8" stroke-width="0.6"/>
<circle cx="237.05" cy="248.99" r="0.9" fill="#3a70aa"/>
<circle cx="236.17" cy="251.45" r="0.9" fill="#3a70aa"/>
<circle cx="236.09" cy="252.16" r="0.8" fill="#2a5f9a"/>
<circle cx="236.73" cy="238.13" r="0.85" fill="#e9707c"/>
<circle cx="236.38" cy="240.56" r="0.85" fill="#e9707c"/>
<circle cx="236.71" cy="241.64" r="0.85" fill="#c0223a"/>
<circle cx="236.75" cy="242.37" r="0.85" fill="#d4384a"/>
<circle cx="235.76" cy="244.6" r="0.85" fill="#c8283c"/>
<circle cx="236.97" cy="246.22" r="0.85" fill="#dd5260"/>
<circle cx="236.24" cy="247.76" r="0.85" fill="#c8283c"/>
<circle cx="237.93" cy="246.74" r="0.9" fill="#1e5390"/>
<circle cx="238.08" cy="249.85" r="0.9" fill="#1a4a86"/>
<circle cx="238.15" cy="251.13" r="0.8" fill="#2a5f9a"/>
<circle cx="238.08" cy="236.78" r="0.85" fill="#f3a2aa"/>
<circle cx="238.01" cy="239.02" r="0.85" fill="#dd5260"/>
<circle cx="238.08" cy="240.43" r="0.85" fill="#f3a2aa"/>
<circle cx="238.32" cy="241.32" r="0.85" fill="#d4384a"/>
<circle cx="238.05" cy="243.5" r="0.85" fill="#c8283c"/>
<circle cx="238.05" cy="244.32" r="0.85" fill="#c8283c"/>
<circle cx="238.12" cy="246.13" r="0.85" fill="#e9707c"/>
<circle cx="239.8" cy="246.96" r="0.9" fill="#1a4a86"/>
<circle cx="239.74" cy="248.33" r="0.9" fill="#1a4a86"/>
<circle cx="239.77" cy="249.84" r="0.8" fill="#2a5f9a"/>
<circle cx="239.67" cy="235.7" r="0.85" fill="#c8283c"/>
<circle cx="239.58" cy="238.17" r="0.85" fill="#dd5260"/>
<circle cx="240.29" cy="239.24" r="0.85" fill="#d4384a"/>
<circle cx="239.24" cy="240.19" r="0.85" fill="#f3a2aa"/>
<circle cx="239.63" cy="243.49" r="0.85" fill="#e9707c"/>
<circle cx="239" cy="245.41" r="0.85" fill="#dd5260"/>
<circle cx="241.02" cy="245.16" r="0.9" fill="#1e5390"/>
<circle cx="241.55" cy="247.25" r="0.9" fill="#1e5390"/>
<circle cx="241.91" cy="248.37" r="0.8" fill="#2a5f9a"/>
<circle cx="241.19" cy="235.63" r="0.85" fill="#e9707c"/>
<circle cx="241.02" cy="236.75" r="0.85" fill="#c8283c"/>
<circle cx="241.55" cy="237.8" r="0.85" fill="#e9707c"/>
<circle cx="241.46" cy="239.61" r="0.85" fill="#d4384a"/>
<circle cx="240.91" cy="242.26" r="0.85" fill="#f3a2aa"/>
<circle cx="240.86" cy="243.91" r="0.85" fill="#e9707c"/>
<circle cx="242.53" cy="244" r="0.9" fill="#1e5390"/>
<circle cx="242.65" cy="246.12" r="0.9" fill="#1e5390"/>
<circle cx="242.92" cy="233.84" r="0.85" fill="#e9707c"/>
<circle cx="242.13" cy="235.45" r="0.85" fill="#dd5260"/>
<circle cx="242.9" cy="237.43" r="0.85" fill="#f3a2aa"/>
<circle cx="242.7" cy="239.23" r="0.85" fill="#d4384a"/>
<circle cx="242.6" cy="240.55" r="0.85" fill="#f3a2aa"/>
<circle cx="243.04" cy="242.63" r="0.85" fill="#dd5260"/>
<circle cx="244.29" cy="242.39" r="0.9" fill="#1a4a86"/>
<circle cx="244.12" cy="243.94" r="0.9" fill="#1a4a86"/>
<circle cx="244.78" cy="245.28" r="0.8" fill="#2a5f9a"/>
<circle cx="244.77" cy="233.33" r="0.85" fill="#c0223a"/>
<circle cx="244.67" cy="234.76" r="0.85" fill="#f3a2aa"/>
<circle cx="244.32" cy="236.07" r="0.85" fill="#e9707c"/>
<circle cx="244.41" cy="237.66" r="0.85" fill="#c0223a"/>
<circle cx="244.16" cy="239.01" r="0.85" fill="#c8283c"/>
<circle cx="244.25" cy="240.7" r="0.85" fill="#c8283c"/>
<line x1="244.4" y1="231.3" x2="244.4" y2="233.5" stroke="#f0a0a8" stroke-width="0.6"/>
<circle cx="246.41" cy="240.88" r="0.9" fill="#3a70aa"/>
<circle cx="246.08" cy="243.06" r="0.9" fill="#1e5390"/>
<circle cx="246.34" cy="230.99" r="0.85" fill="#dd5260"/>
<circle cx="245.96" cy="232.98" r="0.85" fill="#c8283c"/>
<circle cx="246.14" cy="235.15" r="0.85" fill="#f3a2aa"/>
<circle cx="245.33" cy="236.56" r="0.85" fill="#c0223a"/>
<circle cx="245.99" cy="238.18" r="0.85" fill="#e9707c"/>
<circle cx="245.68" cy="239.72" r="0.85" fill="#c8283c"/>
<circle cx="247.69" cy="239.99" r="0.9" fill="#3a70aa"/>
<circle cx="247.1" cy="241.17" r="0.9" fill="#1a4a86"/>
<circle cx="247.54" cy="231.33" r="0.85" fill="#c8283c"/>
<circle cx="247.67" cy="232.47" r="0.85" fill="#e9707c"/>
<circle cx="247.04" cy="235.09" r="0.85" fill="#c8283c"/>
<circle cx="247.8" cy="236.6" r="0.85" fill="#c0223a"/>
<circle cx="247.57" cy="237.88" r="0.85" fill="#c8283c"/>
<line x1="247.6" y1="229.37" x2="247.6" y2="231.57" stroke="#f0a0a8" stroke-width="0.6"/>
<circle cx="249.47" cy="239.6" r="0.9" fill="#1e5390"/>
<circle cx="249.18" cy="229.68" r="0.85" fill="#e9707c"/>
<circle cx="248.98" cy="231.77" r="0.85" fill="#f3a2aa"/>
<circle cx="249.39" cy="232.24" r="0.85" fill="#c0223a"/>
<circle cx="249.31" cy="234.63" r="0.85" fill="#f3a2aa"/>
<circle cx="249.69" cy="237.38" r="0.85" fill="#c0223a"/>
<line x1="249.2" y1="228.01" x2="249.2" y2="230.21" stroke="#f0a0a8" stroke-width="0.6"/>
<circle cx="250.75" cy="237.47" r="0.9" fill="#3a70aa"/>
<circle cx="250.65" cy="229.11" r="0.85" fill="#c8283c"/>
<circle cx="251.33" cy="230.85" r="0.85" fill="#c8283c"/>
<circle cx="250.33" cy="232.3" r="0.85" fill="#d4384a"/>
<circle cx="251.2" cy="233.81" r="0.85" fill="#f3a2aa"/>
<circle cx="250.96" cy="235.83" r="0.85" fill="#c0223a"/>
<circle cx="252.32" cy="236.58" r="0.9" fill="#1a4a86"/>
<circle cx="252.51" cy="238.47" r="0.8" fill="#2a5f9a"/>
<circle cx="252.23" cy="228.78" r="0.85" fill="#f3a2aa"/>
<circle cx="252.78" cy="230.21" r="0.85" fill="#dd5260"/>
<circle cx="252.08" cy="231.28" r="0.85" fill="#d4384a"/>
<circle cx="252.2" cy="232.61" r="0.85" fill="#c8283c"/>
<circle cx="252.23" cy="234.52" r="0.85" fill="#dd5260"/>
<line x1="252.4" y1="226.59" x2="252.4" y2="228.79" stroke="#f0a0a8" stroke-width="0.6"/>
<circle cx="253.68" cy="234.98" r="0.9" fill="#1a4a86"/>
<circle cx="254.38" cy="236.57" r="0.8" fill="#2a5f9a"/>
<circle cx="253.91" cy="227.68" r="0.85" fill="#c0223a"/>
<circle cx="254.18" cy="229.11" r="0.85" fill="#d4384a"/>
<circle cx="253.58" cy="230.84" r="0.85" fill="#c8283c"/>
<circle cx="254.32" cy="232.71" r="0.85" fill="#d4384a"/>
<line x1="254" y1="226.1" x2="254" y2="228.3" stroke="#f0a0a8" stroke-width="0.6"/>
<circle cx="255.31" cy="233.74" r="0.9" fill="#3a70aa"/>
<circle cx="255.62" cy="227.27" r="0.85" fill="#d4384a"/>
<circle cx="255.9" cy="228.01" r="0.85" fill="#e9707c"/>
<circle cx="255.43" cy="230.16" r="0.85" fill="#c0223a"/>
<circle cx="255.67" cy="231.88" r="0.85" fill="#c8283c"/>
<line x1="255.6" y1="225.01" x2="255.6" y2="227.21" stroke="#f0a0a8" stroke-width="0.6"/>
<circle cx="257.24" cy="232.59" r="0.9" fill="#1a4a86"/>
<circle cx="256.53" cy="226.2" r="0.85" fill="#dd5260"/>
<circle cx="256.97" cy="227.63" r="0.85" fill="#e9707c"/>
<circle cx="257.14" cy="228.73" r="0.85" fill="#f3a2aa"/>
<circle cx="257.14" cy="231.16" r="0.85" fill="#e9707c"/>
<line x1="257.2" y1="224.92" x2="257.2" y2="227.12" stroke="#f0a0a8" stroke-width="0.6"/>
<circle cx="259" cy="230.88" r="0.9" fill="#1a4a86"/>
<circle cx="258.81" cy="232.28" r="0.8" fill="#2a5f9a"/>
<circle cx="258.98" cy="225.28" r="0.85" fill="#c0223a"/>
<circle cx="259.49" cy="227.37" r="0.85" fill="#dd5260"/>
<circle cx="258.77" cy="228.91" r="0.85" fill="#d4384a"/>
<circle cx="260.01" cy="228.91" r="0.9" fill="#1e5390"/>
<circle cx="260.7" cy="229.89" r="0.8" fill="#2a5f9a"/>
<circle cx="260.25" cy="224.98" r="0.85" fill="#f3a2aa"/>
<circle cx="259.92" cy="226.73" r="0.85" fill="#f3a2aa"/>
<line x1="260.4" y1="223.19" x2="260.4" y2="225.39" stroke="#f0a0a8" stroke-width="0.6"/>
<circle cx="262.06" cy="227.34" r="0.9" fill="#1a4a86"/>
<circle cx="261.96" cy="224.83" r="0.85" fill="#c8283c"/>
<line x1="262" y1="222.75" x2="262" y2="224.95" stroke="#f0a0a8" stroke-width="0.6"/>
<circle cx="263.48" cy="225.28" r="0.9" fill="#1e5390"/>
<circle cx="263.5" cy="226.66" r="0.8" fill="#2a5f9a"/>
<circle cx="263.84" cy="224.18" r="0.85" fill="#d4384a"/>
<line x1="263.6" y1="222.56" x2="263.6" y2="224.76" stroke="#f0a0a8" stroke-width="0.6"/>
<line x1="167.4" y1="218" x2="167.4" y2="286.3" stroke="#1c1c1c" stroke-width="1.1"/>
<line x1="167.4" y1="284.2" x2="265.8" y2="284.2" stroke="#1c1c1c" stroke-width="1.1"/>
<path d="M167.4 252.45 L232.4 252.45" stroke="#1d3562" stroke-width="0.9" stroke-dasharray="1.8 1.2" fill="none"/>
<path d="M226.3 252.45 L226.3 284.2" stroke="#c92a3e" stroke-width="0.95" stroke-dasharray="1.8 1.2" fill="none"/>
<path d="M232.6 252.45 L232.6 284.2" stroke="#1d3562" stroke-width="0.95" stroke-dasharray="1.8 1.2" fill="none"/>
<text x="214.8" y="279.3" font-size="6.8" text-anchor="start" font-weight="normal" fill="#e07a80" stroke="#e07a80" stroke-width="0.2" textLength="8.2" lengthAdjust="spacingAndGlyphs">τ<tspan font-size="4.2" dy="1.6">1/2</tspan></text>
<text x="235" y="279.3" font-size="6.8" text-anchor="start" font-weight="normal" fill="#6a7b9c" stroke="#6a7b9c" stroke-width="0.2" textLength="9.2" lengthAdjust="spacingAndGlyphs">τ<tspan font-size="4.2" dy="1.6">1/2</tspan></text>
<circle cx="174.3" cy="226.3" r="1.4" fill="#c92a3e"/>
<text x="179.2" y="228.6" font-size="6.8" text-anchor="start" font-weight="normal" fill="#2e2e2e" stroke="#2e2e2e" stroke-width="0.2" textLength="13.4" lengthAdjust="spacingAndGlyphs">Benz</text>
<circle cx="174.3" cy="235.7" r="1.4" fill="#1f5b95"/>
<text x="179.2" y="238" font-size="6.8" text-anchor="start" font-weight="normal" fill="#2e2e2e" stroke="#2e2e2e" stroke-width="0.2" textLength="21.5" lengthAdjust="spacingAndGlyphs">Control</text>
<text x="274.13" y="205" font-size="11.5" font-weight="bold" fill="#0d0d0d">E</text>
<rect x="315.3" y="236.82" width="27.6" height="47.28" fill="#8b9cc6"/>
<rect x="358.7" y="243.07" width="27.4" height="41.03" fill="#e88a82"/>
<line x1="329.7" y1="228.13" x2="329.7" y2="245.08" stroke="#1b4e8a" stroke-width="1.15"/>
<line x1="325.7" y1="228.13" x2="333.7" y2="228.13" stroke="#1b4e8a" stroke-width="1.15"/>
<line x1="325.7" y1="245.08" x2="333.7" y2="245.08" stroke="#1b4e8a" stroke-width="1.15"/>
<line x1="372.2" y1="230.36" x2="372.2" y2="255.11" stroke="#c2132d" stroke-width="1.15"/>
<line x1="366.6" y1="230.36" x2="377.8" y2="230.36" stroke="#c2132d" stroke-width="1.15"/>
<line x1="366.6" y1="255.11" x2="377.8" y2="255.11" stroke="#c2132d" stroke-width="1.15"/>
<circle cx="319.1" cy="234.5" r="2.1" fill="#1b4e8a"/>
<circle cx="325.6" cy="230.2" r="2.1" fill="#1b4e8a"/>
<circle cx="332.9" cy="228" r="2.1" fill="#1b4e8a"/>
<circle cx="325.6" cy="234.7" r="2.1" fill="#1b4e8a"/>
<circle cx="332.9" cy="235.6" r="2.1" fill="#1b4e8a"/>
<circle cx="339" cy="239.9" r="2.1" fill="#1b4e8a"/>
<circle cx="329.7" cy="253.4" r="2.1" fill="#1b4e8a"/>
<circle cx="372.2" cy="222.2" r="2.1" fill="#c2132d"/>
<circle cx="362.8" cy="240.3" r="2.1" fill="#c2132d"/>
<circle cx="372.2" cy="241" r="2.1" fill="#c2132d"/>
<circle cx="381.3" cy="237.1" r="2.1" fill="#c2132d"/>
<circle cx="367.7" cy="246.3" r="2.1" fill="#c2132d"/>
<circle cx="377" cy="250" r="2.1" fill="#c2132d"/>
<circle cx="372.2" cy="262.5" r="2.1" fill="#c2132d"/>
<line x1="301.3" y1="215" x2="301.3" y2="284.6" stroke="#1c1c1c" stroke-width="1.15"/>
<line x1="301.3" y1="284.1" x2="392" y2="284.1" stroke="#1c1c1c" stroke-width="1.15"/>
<line x1="298.4" y1="284.1" x2="301.3" y2="284.1" stroke="#1c1c1c" stroke-width="1"/>
<text x="295.6" y="286.4" font-size="6.6" text-anchor="end" font-weight="normal" fill="#2e2e2e" stroke="#2e2e2e" stroke-width="0.2">0</text>
<line x1="298.4" y1="261.8" x2="301.3" y2="261.8" stroke="#1c1c1c" stroke-width="1"/>
<text x="295.6" y="264.1" font-size="6.6" text-anchor="end" font-weight="normal" fill="#2e2e2e" stroke="#2e2e2e" stroke-width="0.2" textLength="9.3" lengthAdjust="spacingAndGlyphs">100</text>
<line x1="298.4" y1="239.5" x2="301.3" y2="239.5" stroke="#1c1c1c" stroke-width="1"/>
<text x="295.6" y="241.8" font-size="6.6" text-anchor="end" font-weight="normal" fill="#2e2e2e" stroke="#2e2e2e" stroke-width="0.2" textLength="9.3" lengthAdjust="spacingAndGlyphs">200</text>
<line x1="298.4" y1="217.2" x2="301.3" y2="217.2" stroke="#1c1c1c" stroke-width="1"/>
<text x="295.6" y="219.5" font-size="6.6" text-anchor="end" font-weight="normal" fill="#2e2e2e" stroke="#2e2e2e" stroke-width="0.2" textLength="9.3" lengthAdjust="spacingAndGlyphs">300</text>
<line x1="329.7" y1="284.1" x2="329.7" y2="286.5" stroke="#1c1c1c" stroke-width="1"/>
<line x1="372.2" y1="284.1" x2="372.2" y2="286.5" stroke="#1c1c1c" stroke-width="1"/>
<text x="319" y="296.1" font-size="6.7" text-anchor="start" font-weight="normal" fill="#2e2e2e" stroke="#2e2e2e" stroke-width="0.2" textLength="21.3" lengthAdjust="spacingAndGlyphs">Control</text>
<text x="365.6" y="296.1" font-size="6.7" text-anchor="start" font-weight="normal" fill="#2e2e2e" stroke="#2e2e2e" stroke-width="0.2" textLength="13.6" lengthAdjust="spacingAndGlyphs">Benz</text>
<line x1="329.8" y1="213.9" x2="371.6" y2="213.9" stroke="#111" stroke-width="1.2"/>
<text x="350.5" y="210.8" font-size="6.2" text-anchor="middle" font-weight="normal" fill="#2e2e2e" stroke="#2e2e2e" stroke-width="0.2">ns</text>
<text x="279.6" y="249.6" font-size="7.8" text-anchor="middle" font-weight="normal" fill="#2e2e2e" stroke="#2e2e2e" stroke-width="0.2" textLength="19.4" lengthAdjust="spacingAndGlyphs" transform="rotate(-90 279.6 249.6)">t<tspan font-size="4.8" dy="1.6">1/2</tspan><tspan dy="-1.6"> (s)</tspan></text>
<text x="405.73" y="204.9" font-size="11.5" font-weight="bold" fill="#0d0d0d">G</text>
<line x1="428.4" y1="284.2" x2="431.1" y2="284.2" stroke="#1c1c1c" stroke-width="1"/>
<line x1="428.4" y1="267.47" x2="431.1" y2="267.47" stroke="#1c1c1c" stroke-width="1"/>
<line x1="428.4" y1="250.75" x2="431.1" y2="250.75" stroke="#1c1c1c" stroke-width="1"/>
<line x1="428.4" y1="234.02" x2="431.1" y2="234.02" stroke="#1c1c1c" stroke-width="1"/>
<line x1="428.4" y1="217.3" x2="431.1" y2="217.3" stroke="#1c1c1c" stroke-width="1"/>
<text x="425.6" y="286.5" font-size="6.6" text-anchor="end" font-weight="normal" fill="#2e2e2e" stroke="#2e2e2e" stroke-width="0.2" textLength="8.3" lengthAdjust="spacingAndGlyphs">0.0</text>
<text x="425.6" y="253.05" font-size="6.6" text-anchor="end" font-weight="normal" fill="#2e2e2e" stroke="#2e2e2e" stroke-width="0.2" textLength="8.3" lengthAdjust="spacingAndGlyphs">0.5</text>
<text x="425.6" y="219.6" font-size="6.6" text-anchor="end" font-weight="normal" fill="#2e2e2e" stroke="#2e2e2e" stroke-width="0.2" textLength="8.3" lengthAdjust="spacingAndGlyphs">1.0</text>
<line x1="431.1" y1="284.2" x2="431.1" y2="286.6" stroke="#1c1c1c" stroke-width="1"/>
<text x="426.8" y="295.4" font-size="6.2" text-anchor="start" font-weight="normal" fill="#2e2e2e" stroke="#2e2e2e" stroke-width="0.2">10<tspan font-size="4.0" dy="-2.7">0</tspan></text>
<line x1="445.84" y1="284.2" x2="445.84" y2="286.6" stroke="#1c1c1c" stroke-width="1"/>
<text x="441.54" y="295.4" font-size="6.2" text-anchor="start" font-weight="normal" fill="#2e2e2e" stroke="#2e2e2e" stroke-width="0.2">10<tspan font-size="4.0" dy="-2.7">1</tspan></text>
<line x1="460.58" y1="284.2" x2="460.58" y2="286.6" stroke="#1c1c1c" stroke-width="1"/>
<text x="456.28" y="295.4" font-size="6.2" text-anchor="start" font-weight="normal" fill="#2e2e2e" stroke="#2e2e2e" stroke-width="0.2">10<tspan font-size="4.0" dy="-2.7">2</tspan></text>
<line x1="475.32" y1="284.2" x2="475.32" y2="286.6" stroke="#1c1c1c" stroke-width="1"/>
<text x="471.02" y="295.4" font-size="6.2" text-anchor="start" font-weight="normal" fill="#2e2e2e" stroke="#2e2e2e" stroke-width="0.2">10<tspan font-size="4.0" dy="-2.7">3</tspan></text>
<line x1="490.06" y1="284.2" x2="490.06" y2="286.6" stroke="#1c1c1c" stroke-width="1"/>
<text x="485.76" y="295.4" font-size="6.2" text-anchor="start" font-weight="normal" fill="#2e2e2e" stroke="#2e2e2e" stroke-width="0.2">10<tspan font-size="4.0" dy="-2.7">4</tspan></text>
<line x1="504.8" y1="284.2" x2="504.8" y2="286.6" stroke="#1c1c1c" stroke-width="1"/>
<text x="500.5" y="295.4" font-size="6.2" text-anchor="start" font-weight="normal" fill="#2e2e2e" stroke="#2e2e2e" stroke-width="0.2">10<tspan font-size="4.0" dy="-2.7">5</tspan></text>
<text x="454.8" y="307.3" font-size="8.5" text-anchor="start" font-weight="normal" fill="#2e2e2e" stroke="#2e2e2e" stroke-width="0.2" textLength="29.9" lengthAdjust="spacingAndGlyphs">Benz (nM)</text>
<text x="413.4" y="247.4" font-size="7.8" text-anchor="middle" font-weight="normal" fill="#2e2e2e" stroke="#2e2e2e" stroke-width="0.2" textLength="30.2" lengthAdjust="spacingAndGlyphs" transform="rotate(-90 413.4 247.4)">Ca F/F<tspan font-size="4.8" dy="1.6">max</tspan></text>
<path d="M431.1 217.3 L431.67 217.3 L432.23 217.3 L432.8 217.3 L433.36 217.3 L433.93 217.3 L434.49 217.3 L435.06 217.3 L435.62 217.31 L436.19 217.31 L436.75 217.31 L437.32 217.31 L437.88 217.31 L438.45 217.31 L439.01 217.31 L439.58 217.31 L440.14 217.32 L440.71 217.32 L441.27 217.32 L441.84 217.32 L442.4 217.33 L442.97 217.33 L443.53 217.34 L444.1 217.34 L444.66 217.35 L445.23 217.35 L445.79 217.36 L446.36 217.37 L446.92 217.38 L447.49 217.39 L448.05 217.4 L448.62 217.42 L449.18 217.43 L449.75 217.45 L450.31 217.47 L450.88 217.5 L451.44 217.53 L452.01 217.56 L452.57 217.59 L453.14 217.64 L453.7 217.68 L454.27 217.74 L454.83 217.8 L455.4 217.87 L455.96 217.95 L456.53 218.04 L457.09 218.14 L457.66 218.26 L458.22 218.39 L458.79 218.54 L459.35 218.71 L459.92 218.9 L460.48 219.12 L461.05 219.37 L461.61 219.65 L462.18 219.97 L462.74 220.32 L463.31 220.72 L463.87 221.17 L464.44 221.67 L465 222.23 L465.57 222.86 L466.13 223.55 L466.7 224.31 L467.26 225.16 L467.83 226.08 L468.39 227.09 L468.96 228.19 L469.52 229.37 L470.09 230.65 L470.65 232 L471.22 233.44 L471.78 234.95 L472.35 236.53 L472.91 238.16 L473.48 239.84 L474.04 241.55 L474.61 243.27 L475.17 245 L475.74 246.71 L476.3 248.39 L476.87 250.03 L477.43 251.62 L478 253.14 L478.56 254.59 L479.13 255.96 L479.69 257.24 L480.26 258.44 L480.82 259.55 L481.39 260.57 L481.95 261.51 L482.52 262.36 L483.08 263.14 L483.65 263.84 L484.21 264.47 L484.78 265.04 L485.34 265.55 L485.91 266 L486.47 266.41 L487.04 266.77 L487.6 267.09 L488.17 267.38 L488.73 267.63 L489.3 267.85 L489.86 268.05 L490.43 268.22 L490.99 268.37 L491.56 268.51 L492.12 268.63 L492.69 268.73 L493.25 268.82 L493.82 268.9 L494.38 268.98 L494.95 269.04 L495.51 269.09 L496.08 269.14 L496.64 269.18 L497.21 269.22 L497.77 269.25 L498.34 269.28 L498.9 269.31" stroke="#af1740" stroke-width="1.25" fill="none"/>
<circle cx="431.1" cy="217.3" r="1.5" fill="#af1740"/>
<circle cx="464.9" cy="219.7" r="1.5" fill="#af1740"/>
<line x1="464.9" y1="215.7" x2="464.9" y2="223.7" stroke="#af1740" stroke-width="0.85"/>
<line x1="463.4" y1="215.7" x2="466.4" y2="215.7" stroke="#af1740" stroke-width="0.85"/>
<line x1="463.4" y1="223.7" x2="466.4" y2="223.7" stroke="#af1740" stroke-width="0.85"/>
<circle cx="471" cy="231.6" r="1.5" fill="#af1740"/>
<line x1="471" y1="226.6" x2="471" y2="236.6" stroke="#af1740" stroke-width="0.85"/>
<line x1="469.5" y1="226.6" x2="472.5" y2="226.6" stroke="#af1740" stroke-width="0.85"/>
<line x1="469.5" y1="236.6" x2="472.5" y2="236.6" stroke="#af1740" stroke-width="0.85"/>
<circle cx="475.1" cy="245.9" r="1.5" fill="#af1740"/>
<line x1="475.1" y1="239.9" x2="475.1" y2="251.9" stroke="#af1740" stroke-width="0.85"/>
<line x1="473.6" y1="239.9" x2="476.6" y2="239.9" stroke="#af1740" stroke-width="0.85"/>
<line x1="473.6" y1="251.9" x2="476.6" y2="251.9" stroke="#af1740" stroke-width="0.85"/>
<circle cx="479.8" cy="255.1" r="1.5" fill="#af1740"/>
<line x1="479.8" y1="247.6" x2="479.8" y2="262.6" stroke="#af1740" stroke-width="0.85"/>
<line x1="478.3" y1="247.6" x2="481.3" y2="247.6" stroke="#af1740" stroke-width="0.85"/>
<line x1="478.3" y1="262.6" x2="481.3" y2="262.6" stroke="#af1740" stroke-width="0.85"/>
<circle cx="485.3" cy="259.2" r="1.5" fill="#af1740"/>
<line x1="485.3" y1="252.7" x2="485.3" y2="265.7" stroke="#af1740" stroke-width="0.85"/>
<line x1="483.8" y1="252.7" x2="486.8" y2="252.7" stroke="#af1740" stroke-width="0.85"/>
<line x1="483.8" y1="265.7" x2="486.8" y2="265.7" stroke="#af1740" stroke-width="0.85"/>
<circle cx="490" cy="272.1" r="1.5" fill="#af1740"/>
<line x1="490" y1="268.6" x2="490" y2="275.6" stroke="#af1740" stroke-width="0.85"/>
<line x1="488.5" y1="268.6" x2="491.5" y2="268.6" stroke="#af1740" stroke-width="0.85"/>
<line x1="488.5" y1="275.6" x2="491.5" y2="275.6" stroke="#af1740" stroke-width="0.85"/>
<circle cx="494.5" cy="267.4" r="1.5" fill="#af1740"/>
<line x1="494.5" y1="263.4" x2="494.5" y2="271.4" stroke="#af1740" stroke-width="0.85"/>
<line x1="493" y1="263.4" x2="496" y2="263.4" stroke="#af1740" stroke-width="0.85"/>
<line x1="493" y1="271.4" x2="496" y2="271.4" stroke="#af1740" stroke-width="0.85"/>
<circle cx="499" cy="265.7" r="1.5" fill="#af1740"/>
<line x1="499" y1="256" x2="499" y2="275.4" stroke="#af1740" stroke-width="0.85"/>
<line x1="497.5" y1="256" x2="500.5" y2="256" stroke="#af1740" stroke-width="0.85"/>
<line x1="497.5" y1="275.4" x2="500.5" y2="275.4" stroke="#af1740" stroke-width="0.85"/>
<circle cx="500.7" cy="275.6" r="1.5" fill="#af1740"/>
<line x1="500.7" y1="273.6" x2="500.7" y2="277.6" stroke="#af1740" stroke-width="0.85"/>
<line x1="499.2" y1="273.6" x2="502.2" y2="273.6" stroke="#af1740" stroke-width="0.85"/>
<line x1="499.2" y1="277.6" x2="502.2" y2="277.6" stroke="#af1740" stroke-width="0.85"/>
<line x1="431.1" y1="211.3" x2="431.1" y2="286.6" stroke="#1c1c1c" stroke-width="1.1"/>
<line x1="431.1" y1="284.2" x2="506" y2="284.2" stroke="#1c1c1c" stroke-width="1.1"/>
<text x="434.8" y="267.6" font-size="6.6" text-anchor="start" font-weight="normal" fill="#2e2e2e" stroke="#2e2e2e" stroke-width="0.2" textLength="36.2" lengthAdjust="spacingAndGlyphs">IC<tspan font-size="4" dy="1.6">50</tspan><tspan dy="-1.6"> = 4.3µM</tspan></text>
<text x="91.73" y="334.2" font-size="11.5" font-weight="bold" fill="#0d0d0d">H</text>
<text x="125.1" y="347.4" font-size="8.2" text-anchor="start" font-weight="normal" fill="#2e2e2e" stroke="#2e2e2e" stroke-width="0.2" textLength="68.6" lengthAdjust="spacingAndGlyphs">Benz from outside</text>
<text x="139" y="359.9" font-size="6.5" text-anchor="start" font-weight="normal" fill="#2e2e2e" stroke="#2e2e2e" stroke-width="0.2" textLength="23.8" lengthAdjust="spacingAndGlyphs">0 mmHg</text>
<line x1="131.2" y1="363.3" x2="190.4" y2="363.3" stroke="#999" stroke-width="0.7"/>
<line x1="134.2" y1="365.3" x2="174.2" y2="365.3" stroke="#9a9a9a" stroke-width="0.55"/>
<line x1="134.3" y1="367.3" x2="174.2" y2="367.3" stroke="#9a9a9a" stroke-width="0.55"/>
<line x1="134.4" y1="369.3" x2="174.2" y2="369.3" stroke="#9a9a9a" stroke-width="0.55"/>
<line x1="134.5" y1="371.1" x2="174.2" y2="371.1" stroke="#9a9a9a" stroke-width="0.55"/>
<line x1="134.6" y1="373" x2="174.2" y2="373" stroke="#9a9a9a" stroke-width="0.55"/>
<line x1="134.7" y1="374.7" x2="174.2" y2="374.7" stroke="#9a9a9a" stroke-width="0.55"/>
<line x1="134.8" y1="376.2" x2="174.2" y2="376.2" stroke="#9a9a9a" stroke-width="0.55"/>
<line x1="133.8" y1="363.3" x2="134.6" y2="376.2" stroke="#888" stroke-width="0.6"/>
<line x1="174.2" y1="363.3" x2="174.2" y2="376.2" stroke="#777" stroke-width="0.7"/>
<text x="170" y="386.7" font-size="6.5" text-anchor="start" font-weight="normal" fill="#2e2e2e" stroke="#2e2e2e" stroke-width="0.2" textLength="29" lengthAdjust="spacingAndGlyphs">−60 mmHg</text>
<text x="124.5" y="394" font-size="6.8" text-anchor="end" font-weight="normal" fill="#2e2e2e" stroke="#2e2e2e" stroke-width="0.2" textLength="21.1" lengthAdjust="spacingAndGlyphs">Control</text>
<path d="M130.6 390.6 L134.3 390.6 L134.6 397.5 L135 397.76 L135.8 396.99 L136.59 398.18 L137.39 397.72 L138.19 396.03 L138.99 395.74 L139.78 394.91 L140.58 395.36 L141.38 394.6 L142.17 394.64 L142.97 393.9 L143.77 393.65 L144.57 393.59 L145.36 393.37 L146.16 393.82 L146.96 392.6 L147.75 393.91 L148.55 392.09 L149.35 392.62 L150.14 391.2 L150.94 391.74 L151.74 391.64 L152.54 393.01 L153.33 389.84 L154.13 392.25 L154.93 391.29 L155.72 392.88 L156.52 391.77 L157.32 392.24 L158.12 391.43 L158.91 390.45 L159.71 391.41 L160.51 391.66 L161.3 391.67 L162.1 390.57 L162.9 391.04 L163.7 390.34 L164.49 390.38 L165.29 390.41 L166.09 392.8 L166.88 390.76 L167.68 390.11 L168.48 391.23 L169.28 391.1 L170.07 392.25 L170.87 391.45 L171.67 391.29 L172.46 390.98 L173.26 390.67 L174.06 390.49 L174.86 389.83 L175.65 390.11 L176.45 390.55 L177.25 391.91 L178.04 392.36 L178.84 390.88 L179.64 389.29 L180.43 391.87 L181.23 391.52 L182.03 390.81 L182.83 391.22 L183.62 389.62 L184.42 390.45 L185.22 391.67 L186.01 391.61 L186.81 389.18 L187.61 389.82 L188.41 391.75 L189.2 390.09 L190 389.36" stroke="#2a2a2a" stroke-width="0.6" fill="none"/>
<path d="M134.6 416.6 L135.2 414.95 L135.79 412.97 L136.39 412.88 L136.98 410.28 L137.58 410.04 L138.17 409.67 L138.77 409.17 L139.37 407.74 L139.96 406.96 L140.56 406.9 L141.15 405.8 L141.75 405.63 L142.34 404.29 L142.94 404.41 L143.54 403.82 L144.13 404.05 L144.73 401.85 L145.32 402.74 L145.92 403.17 L146.51 403.25 L147.11 402.4 L147.71 400.85 L148.3 400.26 L148.9 400.72 L149.49 399.81 L150.09 400.28 L150.69 401.22 L151.28 399.46 L151.88 399.76 L152.47 399.77 L153.07 399.9 L153.66 398.88 L154.26 399.03 L154.86 398.26 L155.45 397.93 L156.05 398.52 L156.64 397.95 L157.24 396.43 L157.83 396.96 L158.43 397.6 L159.03 397.18 L159.62 397.68 L160.22 397.44 L160.81 396.89 L161.41 397.72 L162 396.34 L162.6 397.8 L163.2 397.01 L163.79 396.94 L164.39 396.63 L164.98 397.42 L165.58 397.2 L166.17 395.27 L166.77 396.85 L167.37 396.4 L167.96 395.76 L168.56 395.42 L169.15 395.24 L169.75 393.39 L170.34 394.16 L170.94 394.35 L171.54 393.58 L172.13 394.83 L172.73 393.79 L173.32 395.17 L173.92 394.75 L174.51 394.6 L175.11 394.93 L175.71 393.65 L176.3 394.64 L176.9 394.28 L177.49 394.83 L178.09 393.15 L178.69 394.09 L179.28 394.31 L179.88 393.93 L180.47 391.88 L181.07 392.82 L181.66 393.05 L182.26 393.17 L182.86 393.06 L183.45 393.74 L184.05 392.66 L184.64 391.59 L185.24 394.57 L185.83 392.71 L186.43 394.04 L187.03 392.25 L187.62 392.9 L188.22 392.68 L188.81 391.81 L189.41 392.69 L190 392.23 L190.6 391.71" stroke="#141414" stroke-width="0.7" fill="none"/>
<path d="M134.6 421.6 L135.2 419.63 L135.79 418.58 L136.39 416.79 L136.98 415.19 L137.58 413.79 L138.17 413.76 L138.77 412.64 L139.37 411.05 L139.96 410.08 L140.56 410.59 L141.15 408.97 L141.75 407.81 L142.34 406.81 L142.94 406.04 L143.54 405.97 L144.13 406.04 L144.73 405.56 L145.32 406.22 L145.92 405.24 L146.51 405.6 L147.11 403.83 L147.71 403.17 L148.3 403.65 L148.9 402.94 L149.49 402.78 L150.09 402.45 L150.69 401.59 L151.28 401.13 L151.88 401.13 L152.47 400.77 L153.07 401.85 L153.66 400.31 L154.26 400.65 L154.86 400.58 L155.45 399.78 L156.05 400.11 L156.64 400 L157.24 398.26 L157.83 399.33 L158.43 398.74 L159.03 399.19 L159.62 398.3 L160.22 397.98 L160.81 397.72 L161.41 397.96 L162 398.15 L162.6 397.39 L163.2 397.58 L163.79 397.9 L164.39 396.69 L164.98 397.96 L165.58 396.36 L166.17 395.72 L166.77 396.34 L167.37 396.39 L167.96 396.36 L168.56 395.69 L169.15 396.18 L169.75 396.58 L170.34 396.42 L170.94 395.63 L171.54 394.67 L172.13 396.56 L172.73 395.96 L173.32 395.17 L173.92 395.86 L174.51 395.86 L175.11 395.01 L175.71 394.21 L176.3 394.85 L176.9 393.98 L177.49 394.3 L178.09 395.26 L178.69 394.28 L179.28 393.5 L179.88 394.19 L180.47 393.97 L181.07 393.35 L181.66 393.91 L182.26 395.15 L182.86 394.32 L183.45 393.95 L184.05 393.95 L184.64 394.72 L185.24 392.32 L185.83 393.94 L186.43 393.08 L187.03 393.59 L187.62 393.05 L188.22 392.79 L188.81 391.55 L189.41 393.15 L190 393.29 L190.6 392.32" stroke="#141414" stroke-width="0.7" fill="none"/>
<path d="M134.6 426.6 L135.2 424.32 L135.79 420.74 L136.39 419.94 L136.98 419.16 L137.58 417.96 L138.17 416.69 L138.77 415.44 L139.37 414.1 L139.96 413.51 L140.56 412.98 L141.15 412.18 L141.75 411.1 L142.34 410.4 L142.94 409.95 L143.54 408.27 L144.13 408.38 L144.73 407 L145.32 407.06 L145.92 405.5 L146.51 406.34 L147.11 406.58 L147.71 406 L148.3 405.88 L148.9 405.26 L149.49 404.74 L150.09 402.82 L150.69 403.57 L151.28 403.61 L151.88 402.9 L152.47 403.73 L153.07 402.38 L153.66 403.51 L154.26 402.83 L154.86 401.72 L155.45 400.57 L156.05 400.55 L156.64 400.64 L157.24 400.9 L157.83 402.25 L158.43 399.71 L159.03 401.19 L159.62 400.04 L160.22 399.48 L160.81 399.56 L161.41 399.44 L162 399.37 L162.6 398.79 L163.2 398.19 L163.79 398.9 L164.39 398.31 L164.98 398.31 L165.58 397.17 L166.17 397.31 L166.77 396.96 L167.37 397.44 L167.96 397.34 L168.56 397.02 L169.15 397.11 L169.75 396.72 L170.34 397.53 L170.94 395.99 L171.54 396.89 L172.13 395.81 L172.73 395.68 L173.32 395.12 L173.92 396.89 L174.51 395.12 L175.11 395.26 L175.71 394.77 L176.3 395.17 L176.9 394.53 L177.49 396.38 L178.09 395.18 L178.69 396.44 L179.28 395.63 L179.88 393.65 L180.47 395.03 L181.07 395.19 L181.66 394.97 L182.26 394.29 L182.86 394.75 L183.45 395.09 L184.05 394.17 L184.64 394.86 L185.24 394.79 L185.83 395.17 L186.43 393.71 L187.03 393.98 L187.62 393.39 L188.22 393 L188.81 392.77 L189.41 393.14 L190 394.04 L190.6 392.92" stroke="#141414" stroke-width="0.7" fill="none"/>
<path d="M134.6 430.6 L135.2 428.06 L135.79 425.32 L136.39 423.88 L136.98 421.31 L137.58 420.17 L138.17 418.92 L138.77 418.01 L139.37 416.07 L139.96 415.8 L140.56 413.76 L141.15 412.65 L141.75 413.06 L142.34 413.14 L142.94 412.77 L143.54 411.71 L144.13 410.63 L144.73 411.15 L145.32 409.54 L145.92 408.4 L146.51 409.01 L147.11 407.47 L147.71 406.72 L148.3 407.39 L148.9 407.32 L149.49 405.95 L150.09 405.28 L150.69 405.5 L151.28 405.49 L151.88 404.07 L152.47 404.14 L153.07 404.4 L153.66 403.98 L154.26 404.6 L154.86 403.68 L155.45 401.09 L156.05 403.36 L156.64 401.72 L157.24 402.24 L157.83 400.69 L158.43 401.84 L159.03 400.06 L159.62 401.43 L160.22 401.73 L160.81 400.26 L161.41 400.65 L162 400.08 L162.6 399.67 L163.2 398.93 L163.79 399.27 L164.39 399.34 L164.98 398.05 L165.58 399.99 L166.17 397.72 L166.77 398.19 L167.37 397.96 L167.96 397.82 L168.56 397.53 L169.15 398.94 L169.75 397.32 L170.34 397.15 L170.94 397.53 L171.54 396.61 L172.13 395.81 L172.73 397.6 L173.32 396.46 L173.92 397.15 L174.51 397.01 L175.11 397.36 L175.71 396.48 L176.3 396.01 L176.9 394.62 L177.49 396.23 L178.09 394.92 L178.69 396.27 L179.28 394.96 L179.88 394.54 L180.47 395.1 L181.07 394.88 L181.66 394.97 L182.26 395.38 L182.86 395.65 L183.45 394.69 L184.05 395.41 L184.64 394.54 L185.24 393.31 L185.83 393.64 L186.43 394.07 L187.03 393.98 L187.62 394.37 L188.22 393.29 L188.81 393.01 L189.41 394.27 L190 393.45 L190.6 394.86" stroke="#141414" stroke-width="0.7" fill="none"/>
<path d="M134.6 434.1 L135.2 431.34 L135.79 430.47 L136.39 425.56 L136.98 423.75 L137.58 423.29 L138.17 421.11 L138.77 420.19 L139.37 419.89 L139.96 417.82 L140.56 416.99 L141.15 416.56 L141.75 414.56 L142.34 413.31 L142.94 413.8 L143.54 412.91 L144.13 412.69 L144.73 411.21 L145.32 410.8 L145.92 410.36 L146.51 410.16 L147.11 410 L147.71 409.13 L148.3 406.9 L148.9 407.74 L149.49 407.14 L150.09 406.63 L150.69 406.34 L151.28 406.6 L151.88 404.33 L152.47 405.84 L153.07 405.71 L153.66 405.34 L154.26 404.08 L154.86 403.17 L155.45 402.98 L156.05 403.23 L156.64 404.53 L157.24 402.4 L157.83 402.63 L158.43 403.16 L159.03 402.87 L159.62 401.79 L160.22 401.95 L160.81 402.31 L161.41 401.37 L162 400.91 L162.6 400.05 L163.2 400.14 L163.79 399.88 L164.39 398.82 L164.98 399.17 L165.58 400.43 L166.17 398.6 L166.77 398.2 L167.37 398.15 L167.96 398.8 L168.56 399.01 L169.15 398.7 L169.75 399.37 L170.34 397.51 L170.94 397.95 L171.54 397.64 L172.13 397.26 L172.73 398.22 L173.32 396.76 L173.92 397.05 L174.51 396.01 L175.11 397.01 L175.71 396.46 L176.3 395.68 L176.9 395.63 L177.49 395.28 L178.09 395.8 L178.69 395.69 L179.28 395.61 L179.88 395.25 L180.47 396.15 L181.07 395.59 L181.66 395.49 L182.26 395.15 L182.86 394.45 L183.45 395.38 L184.05 396.08 L184.64 395.71 L185.24 395.07 L185.83 393.92 L186.43 393.95 L187.03 394.04 L187.62 394.58 L188.22 394.13 L188.81 393.93 L189.41 394.43 L190 394.43 L190.6 393.26" stroke="#141414" stroke-width="0.7" fill="none"/>
<path d="M134.6 437.1 L135.2 434.15 L135.79 431.94 L136.39 428.95 L136.98 427.51 L137.58 424.46 L138.17 423.25 L138.77 422.58 L139.37 420.42 L139.96 420.16 L140.56 418.43 L141.15 418.62 L141.75 416.39 L142.34 416.3 L142.94 415.31 L143.54 413.74 L144.13 412.43 L144.73 413.3 L145.32 411.84 L145.92 412.02 L146.51 412.7 L147.11 409.66 L147.71 410.35 L148.3 409.05 L148.9 408.7 L149.49 407.8 L150.09 407.99 L150.69 408.85 L151.28 408.32 L151.88 406.71 L152.47 406.27 L153.07 405.61 L153.66 405.58 L154.26 405.09 L154.86 405.22 L155.45 403.97 L156.05 405.02 L156.64 404.03 L157.24 403.75 L157.83 403.35 L158.43 402.21 L159.03 403.42 L159.62 402.52 L160.22 403.19 L160.81 402.13 L161.41 402.39 L162 401.91 L162.6 401.21 L163.2 401.17 L163.79 400.61 L164.39 399.44 L164.98 399.66 L165.58 400.37 L166.17 399.25 L166.77 398.73 L167.37 398.83 L167.96 399.25 L168.56 397.9 L169.15 398.34 L169.75 398.34 L170.34 398.16 L170.94 397.41 L171.54 396.19 L172.13 397.33 L172.73 398.42 L173.32 398.37 L173.92 396.88 L174.51 398.13 L175.11 397.53 L175.71 396.73 L176.3 396.01 L176.9 396.27 L177.49 396.06 L178.09 396.33 L178.69 395.21 L179.28 395.07 L179.88 395.64 L180.47 395.34 L181.07 395.91 L181.66 394.92 L182.26 395.98 L182.86 396.03 L183.45 394.44 L184.05 395.3 L184.64 395.84 L185.24 394.85 L185.83 395.37 L186.43 394.52 L187.03 394.61 L187.62 394.25 L188.22 394.1 L188.81 395.27 L189.41 393.79 L190 393.01 L190.6 393.69" stroke="#141414" stroke-width="0.7" fill="none"/>
<path d="M160 392.35 L160.51 391.7 L161.02 392.44 L161.53 392.39 L162.03 391.98 L162.54 391.73 L163.05 391.62 L163.56 391.45 L164.07 392.6 L164.58 392.03 L165.08 391.55 L165.59 391.75 L166.1 391.82 L166.61 392.28 L167.12 391.97 L167.63 391.51 L168.14 391.16 L168.64 390.79 L169.15 391.51 L169.66 392.26 L170.17 391.56 L170.68 391.59 L171.19 391.13 L171.69 391.15 L172.2 390.67 L172.71 390.84 L173.22 392.09 L173.73 391.38 L174.24 391.77 L174.75 391.06 L175.25 391.68 L175.76 391.45 L176.27 390.67 L176.78 390.17 L177.29 390.34 L177.8 391.23 L178.31 391.48 L178.81 390.96 L179.32 390.96 L179.83 391.53 L180.34 391.03 L180.85 390.67 L181.36 391.28 L181.86 391.56 L182.37 390.2 L182.88 390.96 L183.39 390.82 L183.9 390.63 L184.41 391.61 L184.92 391.25 L185.42 391.95 L185.93 391.26 L186.44 390.8 L186.95 390.81 L187.46 391.27 L187.97 390.99 L188.47 390.87 L188.98 390.95 L189.49 390.85 L190 391.3" stroke="#111" stroke-width="1.6" fill="none"/>
<line x1="134.3" y1="390.6" x2="134.6" y2="437.2" stroke="#666" stroke-width="0.5"/>
<line x1="130.6" y1="390.6" x2="190.2" y2="390.6" stroke="#111" stroke-width="0.9"/>
<path d="M172.2 409 L172.2 422.8 L192.1 422.8" stroke="#1a1a1a" stroke-width="1.05" fill="none"/>
<text x="166.2" y="415.7" font-size="6.5" text-anchor="middle" font-weight="normal" fill="#2e2e2e" stroke="#2e2e2e" stroke-width="0.2" textLength="16.8" lengthAdjust="spacingAndGlyphs" transform="rotate(-90 166.2 415.7)">30 pA</text>
<text x="171" y="435.3" font-size="6.8" text-anchor="start" font-weight="normal" fill="#2e2e2e" stroke="#2e2e2e" stroke-width="0.2" textLength="19.6" lengthAdjust="spacingAndGlyphs">100 ms</text>
<text x="124.3" y="455.7" font-size="6.8" text-anchor="end" font-weight="normal" fill="#2e2e2e" stroke="#2e2e2e" stroke-width="0.2" textLength="13.4" lengthAdjust="spacingAndGlyphs">Benz</text>
<path d="M128 453.11 L128.52 453.3 L129.04 453.37 L129.56 453.7 L130.08 453.59 L130.6 453.92 L131.12 453.61 L131.64 453.78 L132.16 453.73 L132.68 453.92 L133.2 453.99 L133.72 453.98 L134.24 453.95 L134.76 454.09 L135.28 454.55 L135.8 454.12 L136.32 453.99 L136.84 453.97 L137.36 454.18 L137.88 453.86 L138.4 453.93 L138.92 453.82 L139.44 454.01 L139.96 453.73 L140.48 453.89 L141 453.85 L141.52 453.59 L142.04 453.34 L142.56 453.35 L143.08 453.79 L143.6 453.7 L144.12 453.07 L144.64 453.4 L145.16 453.13 L145.68 453.8 L146.2 453.32 L146.72 452.96 L147.24 453.1 L147.76 452.98 L148.28 453.04 L148.8 453.3 L149.32 453.07 L149.84 453.49 L150.36 453 L150.88 453.36 L151.4 452.87 L151.92 453.21 L152.44 453.44 L152.96 453.19 L153.48 453.51 L154 453.33 L154.52 453.74 L155.04 453.39 L155.56 453.15 L156.08 453.16 L156.6 453.48 L157.12 453.77 L157.64 453.5 L158.16 452.97 L158.68 453.15 L159.2 452.91 L159.72 453.06 L160.24 453.37 L160.76 452.81 L161.28 453.13 L161.8 453.86 L162.32 453.27 L162.84 453.35 L163.36 453.22 L163.88 453.31 L164.4 453.97 L164.92 453.01 L165.44 453.22 L165.96 453.12 L166.48 453.76 L167 452.54 L167.52 453.22 L168.04 454 L168.56 453.66 L169.08 453.44 L169.6 453.31 L170.12 453.03 L170.64 453.53 L171.16 453.55 L171.68 453.51 L172.2 453.55 L172.72 453.2 L173.24 453.33 L173.76 452.97 L174.28 453.17 L174.8 453.22 L175.32 452.78 L175.84 453.42 L176.36 453.22 L176.88 453.14 L177.4 453 L177.92 453.4 L178.44 453.13 L178.96 453.58 L179.48 453.27 L180 453.27 L180.52 453.37 L181.04 453.66 L181.56 453.32 L182.08 453.39 L182.6 453.32 L183.12 453.08 L183.64 453.61 L184.16 453.22 L184.68 453.59 L185.2 453.51 L185.72 453.26 L186.24 453.76 L186.76 453.23 L187.28 452.88 L187.8 453.36 L188.32 453.32 L188.84 453.34 L189.36 453.17 L189.88 453.32 L190.4 453.36" stroke="#111" stroke-width="1.35" fill="none"/>
<text x="220.73" y="334.5" font-size="11.5" font-weight="bold" fill="#0d0d0d">I</text>
<line x1="250.2" y1="414.5" x2="252.6" y2="414.5" stroke="#1c1c1c" stroke-width="1"/>
<text x="247.6" y="416.7" font-size="6.4" text-anchor="end" font-weight="normal" fill="#2e2e2e" stroke="#2e2e2e" stroke-width="0.2">0</text>
<line x1="250.2" y1="400.23" x2="252.6" y2="400.23" stroke="#1c1c1c" stroke-width="1"/>
<text x="247.6" y="402.43" font-size="6.4" text-anchor="end" font-weight="normal" fill="#2e2e2e" stroke="#2e2e2e" stroke-width="0.2" textLength="6.2" lengthAdjust="spacingAndGlyphs">20</text>
<line x1="250.2" y1="385.95" x2="252.6" y2="385.95" stroke="#1c1c1c" stroke-width="1"/>
<text x="247.6" y="388.15" font-size="6.4" text-anchor="end" font-weight="normal" fill="#2e2e2e" stroke="#2e2e2e" stroke-width="0.2" textLength="6.2" lengthAdjust="spacingAndGlyphs">40</text>
<line x1="250.2" y1="371.68" x2="252.6" y2="371.68" stroke="#1c1c1c" stroke-width="1"/>
<text x="247.6" y="373.88" font-size="6.4" text-anchor="end" font-weight="normal" fill="#2e2e2e" stroke="#2e2e2e" stroke-width="0.2" textLength="6.2" lengthAdjust="spacingAndGlyphs">60</text>
<line x1="250.2" y1="357.4" x2="252.6" y2="357.4" stroke="#1c1c1c" stroke-width="1"/>
<text x="247.6" y="359.6" font-size="6.4" text-anchor="end" font-weight="normal" fill="#2e2e2e" stroke="#2e2e2e" stroke-width="0.2" textLength="6.2" lengthAdjust="spacingAndGlyphs">80</text>
<line x1="252.6" y1="417.9" x2="252.6" y2="420.3" stroke="#1c1c1c" stroke-width="1"/>
<text x="252.6" y="429.4" font-size="6.4" text-anchor="middle" font-weight="normal" fill="#2e2e2e" stroke="#2e2e2e" stroke-width="0.2">0</text>
<line x1="270.83" y1="417.9" x2="270.83" y2="420.3" stroke="#1c1c1c" stroke-width="1"/>
<text x="270.83" y="429.4" font-size="6.4" text-anchor="middle" font-weight="normal" fill="#2e2e2e" stroke="#2e2e2e" stroke-width="0.2" textLength="6.6" lengthAdjust="spacingAndGlyphs">20</text>
<line x1="289.07" y1="417.9" x2="289.07" y2="420.3" stroke="#1c1c1c" stroke-width="1"/>
<text x="289.07" y="429.4" font-size="6.4" text-anchor="middle" font-weight="normal" fill="#2e2e2e" stroke="#2e2e2e" stroke-width="0.2" textLength="6.6" lengthAdjust="spacingAndGlyphs">40</text>
<line x1="307.3" y1="417.9" x2="307.3" y2="420.3" stroke="#1c1c1c" stroke-width="1"/>
<text x="307.3" y="429.4" font-size="6.4" text-anchor="middle" font-weight="normal" fill="#2e2e2e" stroke="#2e2e2e" stroke-width="0.2" textLength="6.6" lengthAdjust="spacingAndGlyphs">60</text>
<line x1="261.72" y1="417.9" x2="261.72" y2="419.4" stroke="#1c1c1c" stroke-width="0.8"/>
<line x1="279.95" y1="417.9" x2="279.95" y2="419.4" stroke="#1c1c1c" stroke-width="0.8"/>
<line x1="298.18" y1="417.9" x2="298.18" y2="419.4" stroke="#1c1c1c" stroke-width="0.8"/>
<text x="255.8" y="441" font-size="7.8" text-anchor="start" font-weight="normal" fill="#2e2e2e" stroke="#2e2e2e" stroke-width="0.2" textLength="53.4" lengthAdjust="spacingAndGlyphs">Pressure (-mmHg)</text>
<text x="234.4" y="386.4" font-size="7.8" text-anchor="middle" font-weight="normal" fill="#2e2e2e" stroke="#2e2e2e" stroke-width="0.2" textLength="36" lengthAdjust="spacingAndGlyphs" transform="rotate(-90 234.4 386.4)">Current (pA)</text>
<path d="M252.6 414.5 L253.15 414.36 L253.69 414.2 L254.24 414.03 L254.79 413.85 L255.34 413.65 L255.88 413.44 L256.43 413.21 L256.98 412.97 L257.52 412.71 L258.07 412.43 L258.62 412.12 L259.16 411.8 L259.71 411.45 L260.26 411.08 L260.81 410.69 L261.35 410.27 L261.9 409.82 L262.45 409.34 L262.99 408.84 L263.54 408.3 L264.09 407.74 L264.63 407.14 L265.18 406.52 L265.73 405.86 L266.27 405.17 L266.82 404.45 L267.37 403.69 L267.92 402.91 L268.46 402.1 L269.01 401.26 L269.56 400.4 L270.1 399.51 L270.65 398.6 L271.2 397.67 L271.75 396.73 L272.29 395.77 L272.84 394.8 L273.39 393.83 L273.93 392.84 L274.48 391.86 L275.03 390.89 L275.57 389.91 L276.12 388.95 L276.67 388 L277.21 387.07 L277.76 386.15 L278.31 385.26 L278.86 384.38 L279.4 383.54 L279.95 382.72 L280.5 381.93 L281.04 381.16 L281.59 380.43 L282.14 379.73 L282.69 379.06 L283.23 378.43 L283.78 377.82 L284.33 377.24 L284.87 376.7 L285.42 376.18 L285.97 375.7 L286.51 375.24 L287.06 374.81 L287.61 374.41 L288.15 374.03 L288.7 373.68 L289.25 373.34 L289.8 373.04 L290.34 372.75 L290.89 372.48 L291.44 372.23 L291.98 372 L292.53 371.78 L293.08 371.58 L293.62 371.39 L294.17 371.22 L294.72 371.06 L295.27 370.91 L295.81 370.77 L296.36 370.64 L296.91 370.53 L297.45 370.42 L298 370.32 L298.55 370.22 L299.1 370.14 L299.64 370.06 L300.19 369.99 L300.74 369.92 L301.28 369.86 L301.83 369.8 L302.38 369.75 L302.92 369.7 L303.47 369.65 L304.02 369.61 L304.56 369.57 L305.11 369.54 L305.66 369.5 L306.21 369.47 L306.75 369.45 L307.3 369.42" stroke="#1a4f8a" stroke-width="1.25" fill="none"/>
<path d="M252.6 414.5 L253.15 414.5 L253.69 414.5 L254.24 414.5 L254.79 414.5 L255.34 414.49 L255.88 414.49 L256.43 414.49 L256.98 414.48 L257.52 414.47 L258.07 414.47 L258.62 414.46 L259.16 414.45 L259.71 414.44 L260.26 414.43 L260.81 414.42 L261.35 414.41 L261.9 414.4 L262.45 414.39 L262.99 414.37 L263.54 414.36 L264.09 414.34 L264.63 414.32 L265.18 414.3 L265.73 414.28 L266.27 414.26 L266.82 414.24 L267.37 414.22 L267.92 414.2 L268.46 414.17 L269.01 414.15 L269.56 414.12 L270.1 414.09 L270.65 414.06 L271.2 414.03 L271.75 414 L272.29 413.97 L272.84 413.94 L273.39 413.91 L273.93 413.87 L274.48 413.83 L275.03 413.8 L275.57 413.76 L276.12 413.72 L276.67 413.68 L277.21 413.64 L277.76 413.59 L278.31 413.55 L278.86 413.51 L279.4 413.46 L279.95 413.41 L280.5 413.36 L281.04 413.31 L281.59 413.26 L282.14 413.21 L282.69 413.16 L283.23 413.1 L283.78 413.05 L284.33 412.99 L284.87 412.93 L285.42 412.88 L285.97 412.82 L286.51 412.75 L287.06 412.69 L287.61 412.63 L288.15 412.56 L288.7 412.5 L289.25 412.43 L289.8 412.36 L290.34 412.29 L290.89 412.22 L291.44 412.15 L291.98 412.07 L292.53 412 L293.08 411.92 L293.62 411.85 L294.17 411.77 L294.72 411.69 L295.27 411.61 L295.81 411.53 L296.36 411.44 L296.91 411.36 L297.45 411.27 L298 411.18 L298.55 411.1 L299.1 411.01 L299.64 410.91 L300.19 410.82 L300.74 410.73 L301.28 410.63 L301.83 410.54 L302.38 410.44 L302.92 410.34 L303.47 410.24 L304.02 410.14 L304.56 410.04 L305.11 409.93 L305.66 409.83 L306.21 409.72 L306.75 409.61 L307.3 409.5" stroke="#c8102e" stroke-width="1.25" fill="none"/>
<circle cx="261.72" cy="411.64" r="1.9" fill="#1a4f8a"/>
<line x1="261.72" y1="410.57" x2="261.72" y2="412.72" stroke="#1a4f8a" stroke-width="0.9"/>
<line x1="260.02" y1="410.57" x2="263.42" y2="410.57" stroke="#1a4f8a" stroke-width="0.9"/>
<line x1="260.02" y1="412.72" x2="263.42" y2="412.72" stroke="#1a4f8a" stroke-width="0.9"/>
<circle cx="270.83" cy="395.94" r="1.9" fill="#1a4f8a"/>
<line x1="270.83" y1="393.09" x2="270.83" y2="398.8" stroke="#1a4f8a" stroke-width="0.9"/>
<line x1="269.13" y1="393.09" x2="272.53" y2="393.09" stroke="#1a4f8a" stroke-width="0.9"/>
<line x1="269.13" y1="398.8" x2="272.53" y2="398.8" stroke="#1a4f8a" stroke-width="0.9"/>
<circle cx="279.95" cy="382.38" r="1.9" fill="#1a4f8a"/>
<line x1="279.95" y1="379.53" x2="279.95" y2="385.24" stroke="#1a4f8a" stroke-width="0.9"/>
<line x1="278.25" y1="379.53" x2="281.65" y2="379.53" stroke="#1a4f8a" stroke-width="0.9"/>
<line x1="278.25" y1="385.24" x2="281.65" y2="385.24" stroke="#1a4f8a" stroke-width="0.9"/>
<circle cx="289.07" cy="377.38" r="1.9" fill="#1a4f8a"/>
<line x1="289.07" y1="373.1" x2="289.07" y2="381.67" stroke="#1a4f8a" stroke-width="0.9"/>
<line x1="287.37" y1="373.1" x2="290.77" y2="373.1" stroke="#1a4f8a" stroke-width="0.9"/>
<line x1="287.37" y1="381.67" x2="290.77" y2="381.67" stroke="#1a4f8a" stroke-width="0.9"/>
<circle cx="298.18" cy="370.25" r="1.9" fill="#1a4f8a"/>
<line x1="298.18" y1="367.04" x2="298.18" y2="373.46" stroke="#1a4f8a" stroke-width="0.9"/>
<line x1="296.48" y1="367.04" x2="299.88" y2="367.04" stroke="#1a4f8a" stroke-width="0.9"/>
<line x1="296.48" y1="373.46" x2="299.88" y2="373.46" stroke="#1a4f8a" stroke-width="0.9"/>
<circle cx="307.3" cy="369.53" r="1.9" fill="#1a4f8a"/>
<line x1="307.3" y1="365.97" x2="307.3" y2="373.1" stroke="#1a4f8a" stroke-width="0.9"/>
<line x1="305.6" y1="365.97" x2="309" y2="365.97" stroke="#1a4f8a" stroke-width="0.9"/>
<line x1="305.6" y1="373.1" x2="309" y2="373.1" stroke="#1a4f8a" stroke-width="0.9"/>
<circle cx="261.72" cy="415.21" r="1.9" fill="#c8102e"/>
<circle cx="270.83" cy="414.5" r="1.9" fill="#c8102e"/>
<circle cx="279.95" cy="413.79" r="1.9" fill="#c8102e"/>
<circle cx="289.07" cy="413.07" r="1.9" fill="#c8102e"/>
<circle cx="298.18" cy="411.64" r="1.9" fill="#c8102e"/>
<circle cx="307.3" cy="409.5" r="1.9" fill="#c8102e"/>
<line x1="307.3" y1="407.72" x2="307.3" y2="411.29" stroke="#c8102e" stroke-width="0.9"/>
<line x1="305.6" y1="407.72" x2="309" y2="407.72" stroke="#c8102e" stroke-width="0.9"/>
<circle cx="252.6" cy="414.5" r="1.9" fill="#44546e"/>
<line x1="252.6" y1="355" x2="252.6" y2="420.3" stroke="#1c1c1c" stroke-width="1.1"/>
<line x1="252.1" y1="417.9" x2="312.1" y2="417.9" stroke="#1c1c1c" stroke-width="1.1"/>
<circle cx="258.7" cy="357.8" r="1.9" fill="#1a4f8a"/>
<line x1="256.3" y1="357.8" x2="261.1" y2="357.8" stroke="#1a4f8a" stroke-width="0.9"/>
<text x="264.9" y="360.1" font-size="6.8" text-anchor="start" font-weight="normal" fill="#2e2e2e" stroke="#2e2e2e" stroke-width="0.2" textLength="20.5" lengthAdjust="spacingAndGlyphs">Control</text>
<circle cx="258.7" cy="367.8" r="1.9" fill="#c8102e"/>
<line x1="256.3" y1="367.8" x2="261.1" y2="367.8" stroke="#c8102e" stroke-width="0.9"/>
<text x="264.9" y="370.1" font-size="6.8" text-anchor="start" font-weight="normal" fill="#2e2e2e" stroke="#2e2e2e" stroke-width="0.2" textLength="13.4" lengthAdjust="spacingAndGlyphs">Benz</text>
<text x="333.93" y="334.2" font-size="11.5" font-weight="bold" fill="#0d0d0d">J</text>
<rect x="377.2" y="370.24" width="15.6" height="47.56" fill="#8a9bc7"/>
<rect x="405" y="413.65" width="11.5" height="4.15" fill="#ef8f8a"/>
<line x1="385.2" y1="370.24" x2="385.2" y2="361.18" stroke="#1a4f8a" stroke-width="0.9"/>
<circle cx="379.7" cy="363.8" r="2" fill="#1a4f8a"/>
<circle cx="381.7" cy="365.2" r="2" fill="#1a4f8a"/>
<circle cx="384.2" cy="363.3" r="2" fill="#1a4f8a"/>
<circle cx="385.5" cy="360.7" r="2" fill="#1a4f8a"/>
<circle cx="387.5" cy="364.2" r="2" fill="#1a4f8a"/>
<circle cx="390.8" cy="362.9" r="2" fill="#1a4f8a"/>
<circle cx="385.9" cy="367.1" r="2" fill="#1a4f8a"/>
<circle cx="385.2" cy="372" r="2" fill="#1a4f8a"/>
<circle cx="385.2" cy="380.1" r="2" fill="#1a4f8a"/>
<circle cx="385.2" cy="402" r="2" fill="#1a4f8a"/>
<line x1="410.7" y1="413.65" x2="410.7" y2="409.87" stroke="#cc1030" stroke-width="0.9"/>
<line x1="407" y1="409.87" x2="414.4" y2="409.87" stroke="#cc1030" stroke-width="0.9"/>
<circle cx="410.7" cy="396.8" r="2" fill="#cc1030"/>
<circle cx="405" cy="414.6" r="2" fill="#cc1030"/>
<circle cx="407.8" cy="414.6" r="2" fill="#cc1030"/>
<circle cx="410.7" cy="414.2" r="2" fill="#cc1030"/>
<circle cx="413.6" cy="415.6" r="2" fill="#cc1030"/>
<circle cx="416.6" cy="416" r="2" fill="#cc1030"/>
<circle cx="409.8" cy="416.6" r="2" fill="#cc1030"/>
<line x1="367.1" y1="354" x2="367.1" y2="420.2" stroke="#1c1c1c" stroke-width="1.1"/>
<line x1="367.1" y1="417.8" x2="428.2" y2="417.8" stroke="#1c1c1c" stroke-width="1.1"/>
<line x1="364.7" y1="417.8" x2="367.1" y2="417.8" stroke="#1c1c1c" stroke-width="1"/>
<text x="362.2" y="420" font-size="6.5" text-anchor="end" font-weight="normal" fill="#2e2e2e" stroke="#2e2e2e" stroke-width="0.2">0</text>
<line x1="364.7" y1="402.7" x2="367.1" y2="402.7" stroke="#1c1c1c" stroke-width="1"/>
<text x="362.2" y="404.9" font-size="6.5" text-anchor="end" font-weight="normal" fill="#2e2e2e" stroke="#2e2e2e" stroke-width="0.2" textLength="6.7" lengthAdjust="spacingAndGlyphs">20</text>
<line x1="364.7" y1="387.6" x2="367.1" y2="387.6" stroke="#1c1c1c" stroke-width="1"/>
<text x="362.2" y="389.8" font-size="6.5" text-anchor="end" font-weight="normal" fill="#2e2e2e" stroke="#2e2e2e" stroke-width="0.2" textLength="6.7" lengthAdjust="spacingAndGlyphs">40</text>
<line x1="364.7" y1="372.5" x2="367.1" y2="372.5" stroke="#1c1c1c" stroke-width="1"/>
<text x="362.2" y="374.7" font-size="6.5" text-anchor="end" font-weight="normal" fill="#2e2e2e" stroke="#2e2e2e" stroke-width="0.2" textLength="6.7" lengthAdjust="spacingAndGlyphs">60</text>
<line x1="364.7" y1="357.4" x2="367.1" y2="357.4" stroke="#1c1c1c" stroke-width="1"/>
<text x="362.2" y="359.6" font-size="6.5" text-anchor="end" font-weight="normal" fill="#2e2e2e" stroke="#2e2e2e" stroke-width="0.2" textLength="6.7" lengthAdjust="spacingAndGlyphs">80</text>
<line x1="385.2" y1="417.8" x2="385.2" y2="420.2" stroke="#1c1c1c" stroke-width="1"/>
<line x1="410.7" y1="417.8" x2="410.7" y2="420.2" stroke="#1c1c1c" stroke-width="1"/>
<text x="374.6" y="429" font-size="6.7" text-anchor="start" font-weight="normal" fill="#2e2e2e" stroke="#2e2e2e" stroke-width="0.2" textLength="21.1" lengthAdjust="spacingAndGlyphs">Control</text>
<text x="404" y="429" font-size="6.7" text-anchor="start" font-weight="normal" fill="#2e2e2e" stroke="#2e2e2e" stroke-width="0.2" textLength="13.5" lengthAdjust="spacingAndGlyphs">Benz</text>
<text x="350.2" y="386.6" font-size="7.8" text-anchor="middle" font-weight="normal" fill="#2e2e2e" stroke="#2e2e2e" stroke-width="0.2" textLength="37.4" lengthAdjust="spacingAndGlyphs" transform="rotate(-90 350.2 386.6)">Current (pA)</text>
<path d="M385.3 359 L385.3 345.8 L410.8 345.8 L410.8 391.4" stroke="#333" stroke-width="1" fill="none"/>
<circle cx="393.6" cy="342.1" r="0.85" fill="#333"/>
<circle cx="396.8" cy="342.1" r="0.85" fill="#333"/>
<circle cx="400" cy="342.1" r="0.85" fill="#333"/>
<circle cx="403.2" cy="342.1" r="0.85" fill="#333"/>
<rect x="0.55" y="0.55" width="518.9" height="462.9" fill="none" stroke="#4a4a4a" stroke-width="1.2"/>
</svg>
</body></html>
